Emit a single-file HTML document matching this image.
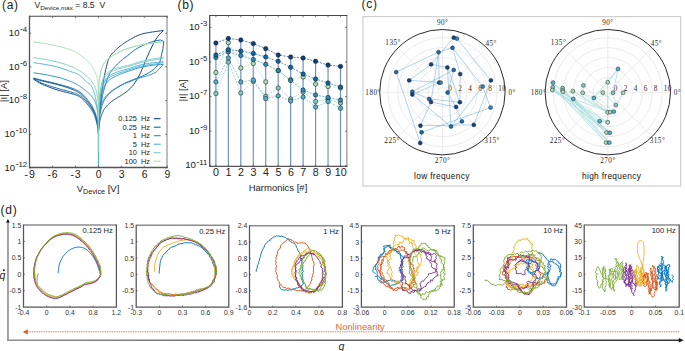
<!DOCTYPE html>
<html><head><meta charset="utf-8"><style>
html,body{margin:0;padding:0;background:#fff;width:685px;height:351px;overflow:hidden;}
svg{display:block;}
</style></head><body>
<svg width="685" height="351" viewBox="0 0 685 351">
<rect width="685" height="351" fill="#fff"/>
<g>
<path d="M98.45,132.62 L98.22,125.88 L98.21,125.87 L98.2,125.86 L98.19,125.83 L98.17,125.8 L98.16,125.76 L98.15,125.71 L98.13,125.65 L98.11,125.58 L98.1,125.51 L98.08,125.43 L98.06,125.34 L98.04,125.24 L98.03,125.14 L98,125.03 L97.98,124.92 L97.96,124.8 L97.94,124.67 L97.91,124.54 L97.89,124.4 L97.86,124.26 L97.83,124.11 L97.8,123.96 L97.77,123.8 L97.73,123.64 L97.7,123.48 L97.66,123.32 L97.62,123.15 L97.58,122.98 L97.54,122.8 L97.5,122.62 L97.45,122.44 L97.4,122.26 L97.35,122.08 L97.3,121.9 L97.24,121.71 L97.19,121.52 L97.12,121.31 L97.06,121.08 L96.99,120.82 L96.92,120.55 L96.85,120.26 L96.77,119.95 L96.69,119.62 L96.6,119.28 L96.51,118.93 L96.42,118.56 L96.32,118.19 L96.21,117.8 L96.11,117.4 L95.99,117 L95.87,116.59 L95.75,116.17 L95.62,115.75 L95.48,115.32 L95.33,114.89 L95.18,114.46 L95.02,114.03 L94.86,113.61 L94.68,113.18 L94.5,112.75 L94.31,112.31 L94.11,111.85 L93.89,111.39 L93.67,110.92 L93.44,110.43 L93.2,109.94 L92.94,109.44 L92.68,108.93 L92.39,108.41 L92.1,107.89 L91.79,107.35 L91.47,106.81 L91.13,106.26 L90.77,105.71 L90.4,105.14 L90.01,104.57 L89.6,104 L89.17,103.41 L88.72,102.82 L88.24,102.23 L87.75,101.61 L87.23,100.97 L86.68,100.29 L86.11,99.59 L85.51,98.88 L84.88,98.16 L84.22,97.43 L83.53,96.7 L82.81,95.97 L82.05,95.25 L81.25,94.55 L80.42,93.87 L79.54,93.21 L78.62,92.58 L77.66,91.98 L76.65,91.41 L75.59,90.86 L74.48,90.33 L73.31,89.81 L72.09,89.3 L70.81,88.8 L69.46,88.3 L68.06,87.81 L66.58,87.32 L65.03,86.83 L63.41,86.33 L61.7,85.83 L59.92,85.31 L58.04,84.79 L56.08,84.26 L54.02,83.75 L51.86,83.24 L49.6,82.72 L47.23,82.17 L44.74,81.59 L42.13,80.96 L39.39,80.25 L36.52,79.42 L33.51,78.53" fill="none" stroke="#084081" stroke-width="0.95" stroke-linejoin="round"/>
<path d="M98.45,132.62 L98.22,129.25 L98.21,129.24 L98.2,129.23 L98.19,129.2 L98.17,129.17 L98.16,129.13 L98.15,129.08 L98.13,129.02 L98.11,128.96 L98.1,128.89 L98.08,128.81 L98.06,128.72 L98.04,128.63 L98.03,128.52 L98,128.42 L97.98,128.3 L97.96,128.18 L97.94,128.06 L97.91,127.93 L97.89,127.79 L97.86,127.65 L97.83,127.5 L97.8,127.35 L97.77,127.2 L97.73,127.04 L97.7,126.88 L97.66,126.71 L97.62,126.54 L97.58,126.37 L97.54,126.19 L97.5,126.01 L97.45,125.83 L97.4,125.65 L97.35,125.46 L97.3,125.27 L97.24,125.09 L97.19,124.89 L97.12,124.66 L97.06,124.41 L96.99,124.13 L96.92,123.83 L96.85,123.5 L96.77,123.15 L96.69,122.79 L96.6,122.4 L96.51,122 L96.42,121.59 L96.32,121.17 L96.21,120.73 L96.11,120.28 L95.99,119.83 L95.87,119.37 L95.75,118.91 L95.62,118.45 L95.48,117.98 L95.33,117.52 L95.18,117.06 L95.02,116.6 L94.86,116.15 L94.68,115.71 L94.5,115.26 L94.31,114.82 L94.11,114.36 L93.89,113.91 L93.67,113.45 L93.44,112.98 L93.2,112.51 L92.94,112.03 L92.68,111.55 L92.39,111.06 L92.1,110.56 L91.79,110.06 L91.47,109.55 L91.13,109.04 L90.77,108.52 L90.4,108 L90.01,107.46 L89.6,106.93 L89.17,106.38 L88.72,105.83 L88.24,105.27 L87.75,104.68 L87.23,104.06 L86.68,103.41 L86.11,102.74 L85.51,102.06 L84.88,101.37 L84.22,100.67 L83.53,99.98 L82.81,99.29 L82.05,98.62 L81.25,97.97 L80.42,97.36 L79.54,96.77 L78.62,96.22 L77.66,95.73 L76.65,95.27 L75.59,94.86 L74.48,94.48 L73.31,94.12 L72.09,93.78 L70.81,93.45 L69.46,93.12 L68.06,92.78 L66.58,92.42 L65.03,92.05 L63.41,91.65 L61.7,91.2 L59.92,90.72 L58.04,90.18 L56.08,89.57 L54.02,88.9 L51.86,88.13 L49.6,87.29 L47.23,86.35 L44.74,85.32 L42.13,84.19 L39.39,82.86 L36.52,81.13 L33.51,79.2" fill="none" stroke="#084081" stroke-width="0.95" stroke-linejoin="round"/>
<path d="M98.45,132.62 L98.68,125.88 L98.69,125.69 L98.7,125.49 L98.71,125.27 L98.73,125.04 L98.74,124.79 L98.75,124.53 L98.77,124.26 L98.79,123.97 L98.8,123.67 L98.82,123.36 L98.84,123.04 L98.86,122.71 L98.87,122.36 L98.9,122.01 L98.92,121.65 L98.94,121.27 L98.96,120.89 L98.99,120.5 L99.01,120.11 L99.04,119.71 L99.07,119.3 L99.1,118.88 L99.13,118.46 L99.17,118.04 L99.2,117.61 L99.24,117.18 L99.28,116.72 L99.32,116.24 L99.36,115.75 L99.4,115.23 L99.45,114.69 L99.5,114.13 L99.55,113.56 L99.6,112.96 L99.66,112.35 L99.71,111.72 L99.78,111.07 L99.84,110.4 L99.91,109.71 L99.98,109.01 L100.05,108.28 L100.13,107.53 L100.21,106.74 L100.3,105.92 L100.39,105.07 L100.48,104.19 L100.58,103.28 L100.69,102.34 L100.79,101.38 L100.91,100.39 L101.03,99.38 L101.15,98.34 L101.28,97.28 L101.42,96.19 L101.57,95.08 L101.72,93.9 L101.88,92.66 L102.04,91.35 L102.22,90 L102.4,88.61 L102.59,87.19 L102.79,85.76 L103.01,84.31 L103.23,82.86 L103.46,81.43 L103.7,79.99 L103.96,78.52 L104.22,77.02 L104.51,75.52 L104.8,74 L105.11,72.48 L105.43,70.96 L105.77,69.46 L106.13,67.96 L106.5,66.39 L106.89,64.78 L107.3,63.2 L107.73,61.68 L108.18,60.28 L108.66,59.06 L109.15,58 L109.67,57.03 L110.22,56.13 L110.79,55.29 L111.39,54.49 L112.02,53.73 L112.68,53 L113.37,52.28 L114.09,51.56 L114.85,50.84 L115.65,50.1 L116.48,49.33 L117.36,48.52 L118.28,47.7 L119.24,46.87 L120.25,46.03 L121.31,45.2 L122.42,44.36 L123.59,43.52 L124.81,42.68 L126.09,41.85 L127.44,41.02 L128.84,40.2 L130.32,39.35 L131.87,38.46 L133.49,37.57 L135.2,36.68 L136.98,35.83 L138.86,35.04 L140.82,34.34 L142.88,33.73 L145.04,33.24 L147.3,32.8 L149.67,32.41 L152.16,32.03 L154.77,31.66 L157.51,31.26 L160.38,30.88 L163.39,30.5" fill="none" stroke="#084081" stroke-width="0.95" stroke-linejoin="round"/>
<path d="M98.45,132.62 L98.68,129.25 L98.69,129.09 L98.7,128.93 L98.71,128.77 L98.73,128.6 L98.74,128.43 L98.75,128.25 L98.77,128.07 L98.79,127.89 L98.8,127.7 L98.82,127.51 L98.84,127.32 L98.86,127.12 L98.87,126.92 L98.9,126.72 L98.92,126.51 L98.94,126.3 L98.96,126.09 L98.99,125.87 L99.01,125.65 L99.04,125.43 L99.07,125.2 L99.1,124.98 L99.13,124.75 L99.17,124.51 L99.2,124.28 L99.24,124.04 L99.28,123.8 L99.32,123.55 L99.36,123.31 L99.4,123.05 L99.45,122.8 L99.5,122.54 L99.55,122.27 L99.6,122 L99.66,121.73 L99.71,121.45 L99.78,121.17 L99.84,120.88 L99.91,120.59 L99.98,120.3 L100.05,120 L100.13,119.69 L100.21,119.38 L100.3,119.07 L100.39,118.75 L100.48,118.42 L100.58,118.09 L100.69,117.76 L100.79,117.41 L100.91,117.07 L101.03,116.72 L101.15,116.36 L101.28,115.98 L101.42,115.59 L101.57,115.18 L101.72,114.76 L101.88,114.32 L102.04,113.87 L102.22,113.41 L102.4,112.95 L102.59,112.49 L102.79,112.02 L103.01,111.55 L103.23,111.09 L103.46,110.63 L103.7,110.17 L103.96,109.73 L104.22,109.29 L104.51,108.85 L104.8,108.42 L105.11,107.99 L105.43,107.57 L105.77,107.14 L106.13,106.71 L106.5,106.29 L106.89,105.85 L107.3,105.42 L107.73,104.98 L108.18,104.54 L108.66,104.08 L109.15,103.63 L109.67,103.16 L110.22,102.68 L110.79,102.19 L111.39,101.7 L112.02,101.2 L112.68,100.72 L113.37,100.24 L114.09,99.76 L114.85,99.28 L115.65,98.78 L116.48,98.27 L117.36,97.74 L118.28,97.19 L119.24,96.6 L120.25,95.97 L121.31,95.3 L122.42,94.58 L123.59,93.81 L124.81,92.98 L126.09,92.04 L127.44,90.97 L128.84,89.74 L130.32,88.34 L131.87,86.74 L133.49,84.86 L135.2,82.39 L136.98,79.4 L138.86,75.99 L140.82,72.17 L142.88,67.32 L145.04,61.99 L147.3,56.73 L149.67,51.29 L152.16,46.12 L154.77,41.12 L157.51,36.83 L160.38,33.33 L163.39,30.5" fill="none" stroke="#084081" stroke-width="0.95" stroke-linejoin="round"/>
<path d="M98.45,132.62 L98.22,124.19 L98.21,124.19 L98.2,124.17 L98.19,124.15 L98.17,124.11 L98.16,124.07 L98.15,124.02 L98.13,123.96 L98.11,123.9 L98.1,123.82 L98.08,123.74 L98.06,123.65 L98.04,123.56 L98.03,123.46 L98,123.35 L97.98,123.23 L97.96,123.11 L97.94,122.98 L97.91,122.85 L97.89,122.71 L97.86,122.57 L97.83,122.43 L97.8,122.27 L97.77,122.12 L97.73,121.96 L97.7,121.8 L97.66,121.63 L97.62,121.46 L97.58,121.29 L97.54,121.12 L97.5,120.94 L97.45,120.76 L97.4,120.58 L97.35,120.4 L97.3,120.21 L97.24,120.03 L97.19,119.84 L97.12,119.63 L97.06,119.39 L96.99,119.14 L96.92,118.86 L96.85,118.57 L96.77,118.26 L96.69,117.94 L96.6,117.6 L96.51,117.24 L96.42,116.88 L96.32,116.5 L96.21,116.11 L96.11,115.72 L95.99,115.31 L95.87,114.9 L95.75,114.48 L95.62,114.06 L95.48,113.64 L95.33,113.21 L95.18,112.78 L95.02,112.35 L94.86,111.92 L94.68,111.5 L94.5,111.06 L94.31,110.62 L94.11,110.16 L93.89,109.7 L93.67,109.22 L93.44,108.74 L93.2,108.24 L92.94,107.74 L92.68,107.23 L92.39,106.71 L92.1,106.18 L91.79,105.64 L91.47,105.1 L91.13,104.55 L90.77,103.99 L90.4,103.43 L90.01,102.86 L89.6,102.29 L89.17,101.71 L88.72,101.13 L88.24,100.55 L87.75,99.94 L87.23,99.3 L86.68,98.64 L86.11,97.96 L85.51,97.26 L84.88,96.56 L84.22,95.85 L83.53,95.14 L82.81,94.44 L82.05,93.75 L81.25,93.08 L80.42,92.42 L79.54,91.8 L78.62,91.21 L77.66,90.65 L76.65,90.12 L75.59,89.62 L74.48,89.14 L73.31,88.67 L72.09,88.21 L70.81,87.77 L69.46,87.33 L68.06,86.89 L66.58,86.45 L65.03,86.01 L63.41,85.56 L61.7,85.09 L59.92,84.61 L58.04,84.11 L56.08,83.6 L54.02,83.09 L51.86,82.57 L49.6,82.04 L47.23,81.48 L44.74,80.9 L42.13,80.28 L39.39,79.6 L36.52,78.83 L33.51,78.02" fill="none" stroke="#0868ac" stroke-width="0.95" stroke-linejoin="round"/>
<path d="M98.45,132.62 L98.22,127.56 L98.21,127.56 L98.2,127.54 L98.19,127.52 L98.17,127.49 L98.16,127.45 L98.15,127.4 L98.13,127.34 L98.11,127.27 L98.1,127.2 L98.08,127.12 L98.06,127.03 L98.04,126.94 L98.03,126.84 L98,126.73 L97.98,126.62 L97.96,126.5 L97.94,126.37 L97.91,126.24 L97.89,126.11 L97.86,125.97 L97.83,125.82 L97.8,125.67 L97.77,125.51 L97.73,125.35 L97.7,125.19 L97.66,125.03 L97.62,124.86 L97.58,124.68 L97.54,124.51 L97.5,124.33 L97.45,124.15 L97.4,123.96 L97.35,123.78 L97.3,123.59 L97.24,123.4 L97.19,123.2 L97.12,122.98 L97.06,122.72 L96.99,122.44 L96.92,122.14 L96.85,121.82 L96.77,121.47 L96.69,121.1 L96.6,120.72 L96.51,120.32 L96.42,119.91 L96.32,119.48 L96.21,119.04 L96.11,118.6 L95.99,118.15 L95.87,117.69 L95.75,117.23 L95.62,116.76 L95.48,116.3 L95.33,115.83 L95.18,115.37 L95.02,114.91 L94.86,114.46 L94.68,114.02 L94.5,113.58 L94.31,113.13 L94.11,112.68 L93.89,112.22 L93.67,111.75 L93.44,111.28 L93.2,110.81 L92.94,110.33 L92.68,109.84 L92.39,109.35 L92.1,108.85 L91.79,108.35 L91.47,107.84 L91.13,107.33 L90.77,106.81 L90.4,106.28 L90.01,105.75 L89.6,105.22 L89.17,104.68 L88.72,104.13 L88.24,103.58 L87.75,103.01 L87.23,102.41 L86.68,101.79 L86.11,101.15 L85.51,100.5 L84.88,99.84 L84.22,99.18 L83.53,98.52 L82.81,97.87 L82.05,97.23 L81.25,96.6 L80.42,96 L79.54,95.42 L78.62,94.88 L77.66,94.37 L76.65,93.9 L75.59,93.47 L74.48,93.06 L73.31,92.67 L72.09,92.29 L70.81,91.92 L69.46,91.56 L68.06,91.18 L66.58,90.8 L65.03,90.4 L63.41,89.97 L61.7,89.52 L59.92,89.03 L58.04,88.49 L56.08,87.92 L54.02,87.32 L51.86,86.67 L49.6,85.95 L47.23,85.16 L44.74,84.28 L42.13,83.29 L39.39,82.1 L36.52,80.5 L33.51,78.7" fill="none" stroke="#0868ac" stroke-width="0.95" stroke-linejoin="round"/>
<path d="M98.45,132.62 L98.68,124.19 L98.69,124.05 L98.7,123.89 L98.71,123.72 L98.73,123.53 L98.74,123.34 L98.75,123.13 L98.77,122.92 L98.79,122.69 L98.8,122.45 L98.82,122.2 L98.84,121.95 L98.86,121.68 L98.88,121.4 L98.9,121.12 L98.92,120.83 L98.94,120.53 L98.96,120.23 L98.99,119.91 L99.02,119.59 L99.04,119.27 L99.07,118.94 L99.1,118.6 L99.13,118.26 L99.17,117.92 L99.2,117.57 L99.24,117.22 L99.28,116.85 L99.32,116.46 L99.36,116.07 L99.4,115.65 L99.45,115.22 L99.5,114.78 L99.55,114.33 L99.6,113.86 L99.66,113.37 L99.72,112.87 L99.78,112.37 L99.84,111.84 L99.91,111.31 L99.98,110.76 L100.06,110.2 L100.14,109.63 L100.22,109.05 L100.3,108.45 L100.39,107.84 L100.49,107.23 L100.59,106.6 L100.69,105.96 L100.8,105.31 L100.91,104.63 L101.03,103.92 L101.16,103.18 L101.29,102.41 L101.43,101.61 L101.57,100.79 L101.73,99.95 L101.89,99.09 L102.05,98.21 L102.23,97.31 L102.41,96.39 L102.61,95.46 L102.81,94.52 L103.02,93.56 L103.24,92.6 L103.47,91.62 L103.72,90.64 L103.98,89.66 L104.24,88.67 L104.53,87.67 L104.82,86.68 L105.13,85.66 L105.46,84.58 L105.8,83.46 L106.15,82.32 L106.53,81.16 L106.92,79.99 L107.33,78.83 L107.77,77.68 L108.22,76.56 L108.7,75.48 L109.19,74.44 L109.72,73.47 L110.26,72.54 L110.84,71.65 L111.44,70.78 L112.07,69.94 L112.74,69.11 L113.43,68.29 L114.16,67.47 L114.92,66.64 L115.73,65.79 L116.57,64.92 L117.45,64.03 L118.37,63.14 L119.34,62.25 L120.36,61.36 L121.42,60.46 L122.54,59.55 L123.71,58.61 L124.94,57.65 L126.23,56.65 L127.58,55.61 L129,54.5 L130.49,53.28 L132.04,52 L133.68,50.73 L135.39,49.52 L137.19,48.42 L139.07,47.35 L141.05,46.31 L143.12,45.32 L145.29,44.37 L147.57,43.43 L149.96,42.48 L152.47,41.62 L155.1,40.92 L157.85,40.38 L160.74,39.98 L163.77,41.62" fill="none" stroke="#0868ac" stroke-width="0.95" stroke-linejoin="round"/>
<path d="M98.45,132.62 L98.68,127.56 L98.69,127.38 L98.7,127.19 L98.71,126.99 L98.73,126.79 L98.74,126.57 L98.75,126.35 L98.77,126.12 L98.78,125.89 L98.8,125.64 L98.82,125.39 L98.84,125.13 L98.85,124.87 L98.87,124.6 L98.9,124.32 L98.92,124.04 L98.94,123.76 L98.96,123.46 L98.99,123.16 L99.01,122.86 L99.04,122.55 L99.07,122.24 L99.1,121.93 L99.13,121.6 L99.16,121.28 L99.2,120.95 L99.24,120.62 L99.27,120.27 L99.31,119.91 L99.36,119.54 L99.4,119.16 L99.45,118.76 L99.49,118.36 L99.55,117.94 L99.6,117.52 L99.65,117.09 L99.71,116.65 L99.77,116.2 L99.84,115.75 L99.91,115.29 L99.98,114.82 L100.05,114.35 L100.13,113.88 L100.21,113.4 L100.3,112.92 L100.38,112.44 L100.48,111.96 L100.58,111.47 L100.68,110.99 L100.79,110.5 L100.9,110.01 L101.02,109.5 L101.15,108.98 L101.28,108.45 L101.41,107.91 L101.56,107.37 L101.71,106.82 L101.87,106.27 L102.03,105.71 L102.21,105.16 L102.39,104.6 L102.58,104.05 L102.78,103.5 L102.99,102.95 L103.21,102.41 L103.44,101.88 L103.68,101.35 L103.94,100.84 L104.21,100.33 L104.48,99.82 L104.78,99.32 L105.08,98.83 L105.41,98.34 L105.74,97.85 L106.1,97.36 L106.47,96.87 L106.86,96.39 L107.27,95.9 L107.7,95.41 L108.14,94.91 L108.61,94.41 L109.11,93.91 L109.63,93.4 L110.17,92.88 L110.74,92.36 L111.33,91.83 L111.96,91.29 L112.61,90.76 L113.3,90.22 L114.02,89.68 L114.78,89.13 L115.57,88.58 L116.4,88.02 L117.27,87.46 L118.19,86.89 L119.15,86.32 L120.15,85.74 L121.2,85.15 L122.31,84.55 L123.47,83.94 L124.68,83.33 L125.95,82.7 L127.29,82.08 L128.69,81.48 L130.16,80.89 L131.7,80.29 L133.31,79.67 L135,79.03 L136.78,78.34 L138.64,77.6 L140.59,76.8 L142.63,75.93 L144.78,74.97 L147.03,73.83 L149.39,72.44 L151.86,70.77 L154.45,68.76 L157.17,65.98 L160.02,61.41 L163.01,48.53 L163.77,41.62" fill="none" stroke="#0868ac" stroke-width="0.95" stroke-linejoin="round"/>
<path d="M98.45,134.3 L98.22,119.14 L98.21,118.9 L98.2,118.66 L98.19,118.42 L98.17,118.18 L98.16,117.93 L98.15,117.68 L98.13,117.43 L98.11,117.18 L98.1,116.92 L98.08,116.66 L98.06,116.4 L98.04,116.14 L98.03,115.87 L98,115.6 L97.98,115.33 L97.96,115.06 L97.94,114.78 L97.91,114.51 L97.89,114.23 L97.86,113.95 L97.83,113.66 L97.8,113.38 L97.77,113.09 L97.73,112.8 L97.7,112.5 L97.66,112.21 L97.62,111.91 L97.58,111.61 L97.54,111.31 L97.5,111 L97.45,110.69 L97.4,110.37 L97.35,110.05 L97.3,109.73 L97.24,109.41 L97.19,109.08 L97.12,108.75 L97.06,108.42 L96.99,108.09 L96.92,107.75 L96.85,107.42 L96.77,107.08 L96.69,106.73 L96.6,106.39 L96.51,106.04 L96.42,105.7 L96.32,105.35 L96.21,105 L96.11,104.65 L95.99,104.29 L95.87,103.93 L95.75,103.56 L95.62,103.19 L95.48,102.82 L95.33,102.45 L95.18,102.07 L95.02,101.69 L94.86,101.31 L94.68,100.92 L94.5,100.54 L94.31,100.15 L94.11,99.77 L93.89,99.38 L93.67,98.99 L93.44,98.61 L93.2,98.22 L92.94,97.84 L92.68,97.46 L92.39,97.08 L92.1,96.71 L91.79,96.34 L91.47,95.97 L91.13,95.6 L90.77,95.23 L90.4,94.85 L90.01,94.46 L89.6,94.07 L89.17,93.67 L88.72,93.27 L88.24,92.85 L87.75,92.42 L87.23,91.98 L86.68,91.52 L86.11,91.04 L85.51,90.54 L84.88,90.02 L84.22,89.49 L83.53,88.95 L82.81,88.4 L82.05,87.83 L81.25,87.26 L80.42,86.68 L79.54,86.1 L78.62,85.52 L77.66,84.94 L76.65,84.36 L75.59,83.78 L74.48,83.2 L73.31,82.64 L72.09,82.08 L70.81,81.54 L69.46,81 L68.06,80.47 L66.58,79.94 L65.03,79.41 L63.41,78.89 L61.7,78.37 L59.92,77.86 L58.04,77.37 L56.08,76.88 L54.02,76.4 L51.86,75.93 L49.6,75.46 L47.23,75 L44.74,74.54 L42.13,74.1 L39.39,73.66 L36.52,73.22 L33.51,72.8" fill="none" stroke="#2b8cbe" stroke-width="0.95" stroke-linejoin="round"/>
<path d="M98.45,134.3 L98.68,117.45 L98.69,117.21 L98.7,116.95 L98.71,116.69 L98.73,116.42 L98.74,116.15 L98.75,115.86 L98.77,115.57 L98.79,115.26 L98.8,114.96 L98.82,114.64 L98.84,114.32 L98.86,113.99 L98.87,113.65 L98.9,113.31 L98.92,112.96 L98.94,112.61 L98.96,112.24 L98.99,111.88 L99.01,111.51 L99.04,111.13 L99.07,110.75 L99.1,110.36 L99.13,109.97 L99.17,109.58 L99.2,109.18 L99.24,108.77 L99.28,108.35 L99.32,107.91 L99.36,107.46 L99.4,107 L99.45,106.53 L99.5,106.05 L99.55,105.55 L99.6,105.05 L99.66,104.53 L99.71,104.02 L99.78,103.49 L99.84,102.96 L99.91,102.42 L99.98,101.88 L100.05,101.34 L100.13,100.79 L100.21,100.24 L100.3,99.69 L100.39,99.15 L100.48,98.6 L100.58,98.05 L100.69,97.51 L100.79,96.97 L100.91,96.43 L101.03,95.87 L101.15,95.3 L101.28,94.73 L101.42,94.15 L101.57,93.56 L101.72,92.98 L101.88,92.39 L102.04,91.8 L102.22,91.22 L102.4,90.64 L102.59,90.06 L102.79,89.49 L103.01,88.93 L103.23,88.38 L103.46,87.84 L103.7,87.32 L103.96,86.8 L104.22,86.29 L104.51,85.79 L104.8,85.29 L105.11,84.8 L105.43,84.31 L105.77,83.82 L106.13,83.35 L106.5,82.87 L106.89,82.41 L107.3,81.95 L107.73,81.49 L108.18,81.04 L108.66,80.6 L109.15,80.16 L109.67,79.73 L110.22,79.3 L110.79,78.89 L111.39,78.5 L112.02,78.11 L112.68,77.73 L113.37,77.35 L114.09,76.97 L114.85,76.59 L115.65,76.21 L116.48,75.81 L117.36,75.41 L118.28,75 L119.24,74.58 L120.25,74.17 L121.31,73.74 L122.42,73.32 L123.59,72.88 L124.81,72.44 L126.09,71.99 L127.44,71.54 L128.84,71.07 L130.32,70.57 L131.87,70.05 L133.49,69.5 L135.2,68.95 L136.98,68.41 L138.86,67.88 L140.82,67.38 L142.88,66.92 L145.04,66.49 L147.3,66.06 L149.67,65.65 L152.16,65.28 L154.77,64.97 L157.51,64.73 L160.38,64.53 L163.39,64.37" fill="none" stroke="#2b8cbe" stroke-width="0.95" stroke-linejoin="round"/>
<path d="M98.45,134.3 L98.68,120.82 L98.69,120.59 L98.7,120.36 L98.71,120.12 L98.73,119.89 L98.74,119.65 L98.75,119.4 L98.77,119.15 L98.78,118.9 L98.8,118.65 L98.82,118.4 L98.84,118.14 L98.85,117.88 L98.87,117.61 L98.89,117.34 L98.92,117.07 L98.94,116.8 L98.96,116.52 L98.99,116.25 L99.01,115.96 L99.04,115.68 L99.07,115.39 L99.1,115.1 L99.13,114.81 L99.16,114.52 L99.2,114.22 L99.23,113.92 L99.27,113.62 L99.31,113.31 L99.35,113 L99.4,112.68 L99.44,112.36 L99.49,112.04 L99.54,111.71 L99.59,111.38 L99.65,111.05 L99.71,110.71 L99.77,110.37 L99.83,110.03 L99.9,109.68 L99.97,109.34 L100.04,108.98 L100.12,108.63 L100.2,108.27 L100.28,107.91 L100.37,107.55 L100.47,107.19 L100.56,106.83 L100.67,106.46 L100.77,106.09 L100.89,105.72 L101,105.34 L101.13,104.97 L101.26,104.59 L101.39,104.22 L101.54,103.84 L101.68,103.46 L101.84,103.08 L102.01,102.7 L102.18,102.31 L102.36,101.92 L102.55,101.53 L102.75,101.14 L102.95,100.74 L103.17,100.34 L103.4,99.94 L103.64,99.54 L103.89,99.13 L104.15,98.72 L104.43,98.3 L104.72,97.89 L105.02,97.47 L105.34,97.05 L105.68,96.62 L106.03,96.19 L106.39,95.76 L106.78,95.33 L107.18,94.89 L107.6,94.45 L108.04,94.01 L108.51,93.57 L109,93.12 L109.51,92.67 L110.04,92.22 L110.6,91.76 L111.19,91.31 L111.81,90.85 L112.45,90.38 L113.13,89.92 L113.84,89.45 L114.59,88.97 L115.37,88.49 L116.19,88.01 L117.05,87.52 L117.95,87.02 L118.89,86.52 L119.88,86 L120.92,85.48 L122.01,84.96 L123.15,84.42 L124.34,83.88 L125.59,83.32 L126.91,82.76 L128.29,82.18 L129.73,81.59 L131.24,80.99 L132.83,80.37 L134.5,79.74 L136.24,79.09 L138.07,78.43 L139.99,77.82 L142,77.25 L144.11,76.68 L146.32,76.07 L148.63,75.35 L151.06,74.48 L153.61,73.41 L156.28,71.89 L159.08,69.09 L162.01,65.72 L163.39,64.37" fill="none" stroke="#2b8cbe" stroke-width="0.95" stroke-linejoin="round"/>
<path d="M98.45,167.5 L98.22,115.77 L98.21,115.55 L98.2,115.32 L98.19,115.09 L98.17,114.86 L98.16,114.63 L98.15,114.39 L98.13,114.14 L98.11,113.89 L98.1,113.64 L98.08,113.39 L98.06,113.13 L98.04,112.86 L98.03,112.59 L98,112.32 L97.98,112.05 L97.96,111.77 L97.94,111.49 L97.91,111.21 L97.89,110.92 L97.86,110.63 L97.83,110.34 L97.8,110.04 L97.77,109.74 L97.73,109.44 L97.7,109.14 L97.66,108.83 L97.62,108.53 L97.58,108.22 L97.54,107.91 L97.5,107.6 L97.45,107.28 L97.4,106.96 L97.35,106.64 L97.3,106.32 L97.24,105.98 L97.19,105.65 L97.12,105.31 L97.06,104.96 L96.99,104.6 L96.92,104.24 L96.85,103.87 L96.77,103.49 L96.69,103.1 L96.6,102.7 L96.51,102.29 L96.42,101.87 L96.32,101.43 L96.21,100.99 L96.11,100.53 L95.99,100.05 L95.87,99.53 L95.75,98.98 L95.62,98.39 L95.48,97.77 L95.33,97.14 L95.18,96.49 L95.02,95.83 L94.86,95.16 L94.68,94.49 L94.5,93.83 L94.31,93.18 L94.11,92.54 L93.89,91.92 L93.67,91.31 L93.44,90.67 L93.2,90.03 L92.94,89.37 L92.68,88.72 L92.39,88.07 L92.1,87.43 L91.79,86.82 L91.47,86.24 L91.13,85.69 L90.77,85.18 L90.4,84.72 L90.01,84.32 L89.6,83.98 L89.17,83.69 L88.72,83.43 L88.24,83.16 L87.75,82.87 L87.23,82.52 L86.68,82.09 L86.11,81.57 L85.51,80.97 L84.88,80.3 L84.22,79.58 L83.53,78.83 L82.81,78.07 L82.05,77.31 L81.25,76.56 L80.42,75.85 L79.54,75.19 L78.62,74.59 L77.66,74.07 L76.65,73.61 L75.59,73.19 L74.48,72.79 L73.31,72.4 L72.09,71.99 L70.81,71.55 L69.46,71.08 L68.06,70.55 L66.58,70 L65.03,69.42 L63.41,68.84 L61.7,68.27 L59.92,67.72 L58.04,67.2 L56.08,66.71 L54.02,66.22 L51.86,65.74 L49.6,65.27 L47.23,64.81 L44.74,64.36 L42.13,63.93 L39.39,63.5 L36.52,63.09 L33.51,62.69" fill="none" stroke="#4eb3d3" stroke-width="0.95" stroke-linejoin="round"/>
<path d="M98.45,167.5 L98.68,110.71 L98.69,110.57 L98.7,110.41 L98.71,110.24 L98.73,110.05 L98.74,109.86 L98.75,109.65 L98.77,109.44 L98.79,109.21 L98.8,108.97 L98.82,108.73 L98.84,108.47 L98.86,108.2 L98.87,107.93 L98.9,107.64 L98.92,107.35 L98.94,107.06 L98.96,106.75 L98.99,106.44 L99.01,106.12 L99.04,105.8 L99.07,105.47 L99.1,105.13 L99.13,104.79 L99.17,104.45 L99.2,104.1 L99.24,103.75 L99.28,103.37 L99.32,102.97 L99.36,102.54 L99.4,102.1 L99.45,101.64 L99.5,101.17 L99.55,100.68 L99.6,100.17 L99.66,99.65 L99.71,99.12 L99.78,98.59 L99.84,98.04 L99.91,97.49 L99.98,96.93 L100.05,96.37 L100.13,95.8 L100.21,95.24 L100.3,94.68 L100.39,94.11 L100.48,93.56 L100.58,93 L100.69,92.46 L100.79,91.92 L100.91,91.37 L101.03,90.8 L101.15,90.23 L101.28,89.64 L101.42,89.05 L101.57,88.46 L101.72,87.86 L101.88,87.26 L102.04,86.67 L102.22,86.08 L102.4,85.5 L102.59,84.92 L102.79,84.36 L103.01,83.81 L103.23,83.27 L103.46,82.75 L103.7,82.25 L103.96,81.77 L104.22,81.3 L104.51,80.83 L104.8,80.37 L105.11,79.92 L105.43,79.48 L105.77,79.04 L106.13,78.62 L106.5,78.2 L106.89,77.79 L107.3,77.38 L107.73,76.99 L108.18,76.6 L108.66,76.22 L109.15,75.85 L109.67,75.48 L110.22,75.13 L110.79,74.79 L111.39,74.47 L112.02,74.16 L112.68,73.85 L113.37,73.55 L114.09,73.26 L114.85,72.96 L115.65,72.65 L116.48,72.34 L117.36,72.02 L118.28,71.7 L119.24,71.37 L120.25,71.05 L121.31,70.73 L122.42,70.4 L123.59,70.06 L124.81,69.71 L126.09,69.34 L127.44,68.95 L128.84,68.54 L130.32,68.09 L131.87,67.57 L133.49,67.02 L135.2,66.46 L136.98,65.9 L138.86,65.35 L140.82,64.84 L142.88,64.39 L145.04,64 L147.3,63.64 L149.67,63.3 L152.16,62.97 L154.77,62.64 L157.51,62.31 L160.38,61.99 L163.39,61.68" fill="none" stroke="#4eb3d3" stroke-width="0.95" stroke-linejoin="round"/>
<path d="M98.45,167.5 L98.68,112.39 L98.69,112.25 L98.7,112.09 L98.71,111.92 L98.73,111.74 L98.74,111.55 L98.75,111.34 L98.77,111.13 L98.78,110.9 L98.8,110.66 L98.82,110.42 L98.84,110.16 L98.85,109.89 L98.87,109.62 L98.89,109.34 L98.92,109.05 L98.94,108.75 L98.96,108.45 L98.99,108.14 L99.01,107.82 L99.04,107.49 L99.07,107.17 L99.1,106.83 L99.13,106.49 L99.16,106.15 L99.2,105.8 L99.24,105.45 L99.27,105.07 L99.31,104.68 L99.35,104.26 L99.4,103.82 L99.44,103.36 L99.49,102.88 L99.54,102.4 L99.6,101.89 L99.65,101.38 L99.71,100.85 L99.77,100.31 L99.84,99.77 L99.9,99.22 L99.97,98.66 L100.05,98.1 L100.12,97.54 L100.21,96.98 L100.29,96.41 L100.38,95.85 L100.47,95.3 L100.57,94.74 L100.67,94.2 L100.78,93.66 L100.9,93.11 L101.01,92.55 L101.14,91.97 L101.27,91.39 L101.41,90.8 L101.55,90.21 L101.7,89.62 L101.86,89.02 L102.02,88.43 L102.2,87.84 L102.38,87.25 L102.57,86.68 L102.77,86.11 L102.98,85.56 L103.2,85.02 L103.43,84.5 L103.67,84 L103.92,83.52 L104.19,83.05 L104.46,82.58 L104.76,82.13 L105.06,81.67 L105.38,81.23 L105.72,80.8 L106.07,80.37 L106.44,79.95 L106.83,79.54 L107.23,79.13 L107.66,78.73 L108.11,78.35 L108.57,77.97 L109.07,77.59 L109.58,77.23 L110.12,76.88 L110.69,76.54 L111.28,76.22 L111.9,75.91 L112.55,75.61 L113.24,75.31 L113.95,75.02 L114.71,74.72 L115.49,74.42 L116.32,74.11 L117.19,73.78 L118.1,73.43 L119.05,73.09 L120.05,72.73 L121.09,72.37 L122.19,72 L123.34,71.62 L124.55,71.23 L125.82,70.83 L127.14,70.42 L128.53,69.99 L129.99,69.52 L131.52,69.01 L133.13,68.47 L134.81,67.91 L136.57,67.35 L138.42,66.81 L140.36,66.3 L142.39,65.84 L144.52,65.44 L146.75,65.09 L149.1,64.76 L151.55,64.44 L154.13,64.09 L156.83,63.71 L159.66,63.29 L162.63,62.86 L163.39,61.68" fill="none" stroke="#4eb3d3" stroke-width="0.95" stroke-linejoin="round"/>
<path d="M98.45,151.15 L98.22,103.97 L98.21,103.85 L98.2,103.73 L98.19,103.59 L98.17,103.45 L98.16,103.3 L98.15,103.14 L98.13,102.97 L98.11,102.8 L98.1,102.62 L98.08,102.44 L98.06,102.24 L98.04,102.04 L98.03,101.84 L98,101.63 L97.98,101.41 L97.96,101.19 L97.94,100.97 L97.91,100.74 L97.89,100.5 L97.86,100.26 L97.83,100.02 L97.8,99.77 L97.77,99.52 L97.73,99.27 L97.7,99.01 L97.66,98.75 L97.62,98.47 L97.58,98.18 L97.54,97.87 L97.5,97.55 L97.45,97.22 L97.4,96.87 L97.35,96.52 L97.3,96.15 L97.24,95.78 L97.19,95.4 L97.12,95.01 L97.06,94.62 L96.99,94.23 L96.92,93.83 L96.85,93.43 L96.77,93.03 L96.69,92.63 L96.6,92.24 L96.51,91.84 L96.42,91.45 L96.32,91.07 L96.21,90.69 L96.11,90.31 L95.99,89.94 L95.87,89.57 L95.75,89.2 L95.62,88.83 L95.48,88.46 L95.33,88.09 L95.18,87.71 L95.02,87.34 L94.86,86.96 L94.68,86.57 L94.5,86.18 L94.31,85.79 L94.11,85.39 L93.89,84.98 L93.67,84.57 L93.44,84.16 L93.2,83.74 L92.94,83.31 L92.68,82.89 L92.39,82.46 L92.1,82.02 L91.79,81.58 L91.47,81.14 L91.13,80.69 L90.77,80.24 L90.4,79.78 L90.01,79.32 L89.6,78.86 L89.17,78.39 L88.72,77.92 L88.24,77.45 L87.75,76.97 L87.23,76.48 L86.68,75.99 L86.11,75.5 L85.51,74.99 L84.88,74.47 L84.22,73.95 L83.53,73.42 L82.81,72.89 L82.05,72.35 L81.25,71.8 L80.42,71.26 L79.54,70.71 L78.62,70.16 L77.66,69.61 L76.65,69.07 L75.59,68.52 L74.48,67.97 L73.31,67.43 L72.09,66.9 L70.81,66.37 L69.46,65.84 L68.06,65.31 L66.58,64.78 L65.03,64.25 L63.41,63.73 L61.7,63.21 L59.92,62.7 L58.04,62.2 L56.08,61.72 L54.02,61.24 L51.86,60.76 L49.6,60.3 L47.23,59.83 L44.74,59.38 L42.13,58.93 L39.39,58.49 L36.52,58.06 L33.51,57.63" fill="none" stroke="#7bccc4" stroke-width="0.95" stroke-linejoin="round"/>
<path d="M98.45,151.15 L98.68,103.97 L98.69,103.92 L98.7,103.86 L98.71,103.78 L98.73,103.68 L98.74,103.57 L98.75,103.44 L98.77,103.3 L98.79,103.14 L98.8,102.97 L98.82,102.79 L98.84,102.59 L98.86,102.39 L98.87,102.17 L98.9,101.95 L98.92,101.71 L98.94,101.47 L98.96,101.22 L98.99,100.96 L99.01,100.7 L99.04,100.43 L99.07,100.15 L99.1,99.88 L99.13,99.59 L99.17,99.31 L99.2,99.02 L99.24,98.73 L99.28,98.4 L99.32,98.04 L99.36,97.65 L99.4,97.23 L99.45,96.79 L99.5,96.32 L99.55,95.84 L99.6,95.33 L99.66,94.8 L99.71,94.26 L99.78,93.71 L99.84,93.15 L99.91,92.58 L99.98,92 L100.05,91.42 L100.13,90.83 L100.21,90.25 L100.3,89.67 L100.39,89.09 L100.48,88.52 L100.58,87.96 L100.69,87.4 L100.79,86.86 L100.91,86.31 L101.03,85.74 L101.15,85.15 L101.28,84.56 L101.42,83.95 L101.57,83.35 L101.72,82.74 L101.88,82.13 L102.04,81.53 L102.22,80.93 L102.4,80.34 L102.59,79.77 L102.79,79.21 L103.01,78.67 L103.23,78.15 L103.46,77.65 L103.7,77.18 L103.96,76.74 L104.22,76.31 L104.51,75.9 L104.8,75.5 L105.11,75.11 L105.43,74.73 L105.77,74.36 L106.13,73.99 L106.5,73.64 L106.89,73.29 L107.3,72.94 L107.73,72.6 L108.18,72.27 L108.66,71.93 L109.15,71.6 L109.67,71.26 L110.22,70.93 L110.79,70.59 L111.39,70.26 L112.02,69.94 L112.68,69.62 L113.37,69.3 L114.09,68.99 L114.85,68.69 L115.65,68.39 L116.48,68.09 L117.36,67.8 L118.28,67.53 L119.24,67.27 L120.25,67.03 L121.31,66.8 L122.42,66.57 L123.59,66.33 L124.81,66.08 L126.09,65.81 L127.44,65.51 L128.84,65.18 L130.32,64.78 L131.87,64.32 L133.49,63.8 L135.2,63.24 L136.98,62.67 L138.86,62.1 L140.82,61.55 L142.88,61.03 L145.04,60.53 L147.3,60.02 L149.67,59.51 L152.16,59.04 L154.77,58.61 L157.51,58.25 L160.38,57.92 L163.39,57.63" fill="none" stroke="#7bccc4" stroke-width="0.95" stroke-linejoin="round"/>
<path d="M98.45,151.15 L98.68,105.66 L98.69,105.61 L98.7,105.55 L98.71,105.46 L98.73,105.37 L98.74,105.25 L98.75,105.13 L98.77,104.98 L98.78,104.83 L98.8,104.66 L98.82,104.47 L98.84,104.28 L98.85,104.08 L98.87,103.86 L98.89,103.64 L98.92,103.4 L98.94,103.16 L98.96,102.91 L98.99,102.66 L99.01,102.39 L99.04,102.12 L99.07,101.85 L99.1,101.57 L99.13,101.29 L99.16,101.01 L99.2,100.72 L99.24,100.43 L99.27,100.1 L99.31,99.75 L99.35,99.36 L99.4,98.95 L99.44,98.5 L99.49,98.04 L99.54,97.55 L99.6,97.05 L99.65,96.53 L99.71,95.99 L99.77,95.44 L99.84,94.88 L99.9,94.31 L99.97,93.73 L100.05,93.15 L100.12,92.57 L100.21,91.98 L100.29,91.4 L100.38,90.83 L100.47,90.26 L100.57,89.7 L100.67,89.14 L100.78,88.6 L100.9,88.05 L101.01,87.49 L101.14,86.91 L101.27,86.32 L101.41,85.72 L101.55,85.12 L101.7,84.52 L101.86,83.92 L102.02,83.32 L102.2,82.73 L102.38,82.14 L102.57,81.57 L102.77,81 L102.98,80.46 L103.2,79.93 L103.43,79.42 L103.67,78.94 L103.92,78.48 L104.19,78.03 L104.46,77.6 L104.76,77.17 L105.06,76.76 L105.38,76.35 L105.72,75.95 L106.07,75.56 L106.44,75.18 L106.83,74.81 L107.23,74.44 L107.66,74.08 L108.11,73.72 L108.57,73.37 L109.07,73.02 L109.58,72.67 L110.12,72.33 L110.69,71.99 L111.28,71.66 L111.9,71.34 L112.55,71.02 L113.24,70.71 L113.95,70.4 L114.71,70.1 L115.49,69.8 L116.32,69.5 L117.19,69.21 L118.1,68.92 L119.05,68.65 L120.05,68.39 L121.09,68.14 L122.19,67.89 L123.34,67.64 L124.55,67.37 L125.82,67.09 L127.14,66.78 L128.53,66.44 L129.99,66.04 L131.52,65.59 L133.13,65.08 L134.81,64.53 L136.57,63.97 L138.42,63.4 L140.36,62.85 L142.39,62.33 L144.52,61.83 L146.75,61.32 L149.1,60.83 L151.55,60.35 L154.13,59.9 L156.83,59.5 L159.66,59.14 L162.63,58.81 L163.39,57.63" fill="none" stroke="#7bccc4" stroke-width="0.95" stroke-linejoin="round"/>
<path d="M98.45,117.45 L98.22,86.61 L98.21,86.46 L98.2,86.31 L98.19,86.14 L98.17,85.98 L98.16,85.81 L98.15,85.63 L98.13,85.45 L98.11,85.27 L98.1,85.08 L98.08,84.89 L98.06,84.69 L98.04,84.5 L98.03,84.29 L98,84.09 L97.98,83.87 L97.96,83.66 L97.94,83.44 L97.91,83.22 L97.89,83 L97.86,82.77 L97.83,82.54 L97.8,82.31 L97.77,82.07 L97.73,81.83 L97.7,81.59 L97.66,81.35 L97.62,81.1 L97.58,80.85 L97.54,80.6 L97.5,80.34 L97.45,80.09 L97.4,79.83 L97.35,79.57 L97.3,79.3 L97.24,79.03 L97.19,78.75 L97.12,78.47 L97.06,78.18 L96.99,77.89 L96.92,77.59 L96.85,77.29 L96.77,76.98 L96.69,76.67 L96.6,76.36 L96.51,76.03 L96.42,75.71 L96.32,75.38 L96.21,75.04 L96.11,74.7 L95.99,74.36 L95.87,74.01 L95.75,73.65 L95.62,73.3 L95.48,72.93 L95.33,72.57 L95.18,72.2 L95.02,71.82 L94.86,71.44 L94.68,71.06 L94.5,70.67 L94.31,70.28 L94.11,69.88 L93.89,69.48 L93.67,69.07 L93.44,68.63 L93.2,68.17 L92.94,67.69 L92.68,67.2 L92.39,66.7 L92.1,66.19 L91.79,65.69 L91.47,65.19 L91.13,64.7 L90.77,64.22 L90.4,63.76 L90.01,63.32 L89.6,62.92 L89.17,62.54 L88.72,62.17 L88.24,61.8 L87.75,61.4 L87.23,60.97 L86.68,60.5 L86.11,59.97 L85.51,59.41 L84.88,58.81 L84.22,58.19 L83.53,57.55 L82.81,56.9 L82.05,56.25 L81.25,55.59 L80.42,54.95 L79.54,54.33 L78.62,53.73 L77.66,53.16 L76.65,52.61 L75.59,52.06 L74.48,51.53 L73.31,51.01 L72.09,50.5 L70.81,50 L69.46,49.51 L68.06,49.03 L66.58,48.55 L65.03,48.07 L63.41,47.6 L61.7,47.13 L59.92,46.67 L58.04,46.21 L56.08,45.75 L54.02,45.31 L51.86,44.86 L49.6,44.43 L47.23,44 L44.74,43.58 L42.13,43.16 L39.39,42.75 L36.52,42.35 L33.51,41.96" fill="none" stroke="#a8ddb5" stroke-width="0.95" stroke-linejoin="round"/>
<path d="M98.45,117.45 L98.68,85.44 L98.69,85.35 L98.7,85.26 L98.71,85.15 L98.73,85.03 L98.74,84.91 L98.75,84.77 L98.77,84.62 L98.78,84.47 L98.8,84.3 L98.82,84.13 L98.84,83.94 L98.85,83.75 L98.87,83.55 L98.9,83.34 L98.92,83.13 L98.94,82.91 L98.96,82.68 L98.99,82.44 L99.01,82.2 L99.04,81.95 L99.07,81.69 L99.1,81.43 L99.13,81.16 L99.16,80.89 L99.2,80.61 L99.24,80.32 L99.27,80.04 L99.31,79.74 L99.36,79.45 L99.4,79.15 L99.45,78.84 L99.49,78.54 L99.55,78.23 L99.6,77.91 L99.65,77.6 L99.71,77.28 L99.77,76.96 L99.84,76.64 L99.91,76.32 L99.98,75.98 L100.05,75.61 L100.13,75.21 L100.21,74.79 L100.3,74.34 L100.38,73.88 L100.48,73.4 L100.58,72.91 L100.68,72.4 L100.79,71.89 L100.9,71.37 L101.02,70.84 L101.15,70.31 L101.28,69.79 L101.41,69.26 L101.56,68.74 L101.71,68.23 L101.87,67.73 L102.03,67.24 L102.21,66.77 L102.39,66.31 L102.58,65.88 L102.78,65.45 L102.99,65.03 L103.21,64.61 L103.44,64.2 L103.68,63.8 L103.94,63.39 L104.21,63 L104.48,62.6 L104.78,62.21 L105.08,61.82 L105.41,61.43 L105.74,61.05 L106.1,60.66 L106.47,60.29 L106.86,59.92 L107.27,59.57 L107.7,59.21 L108.14,58.85 L108.61,58.49 L109.11,58.11 L109.63,57.73 L110.17,57.33 L110.74,56.92 L111.33,56.49 L111.96,56.06 L112.61,55.62 L113.3,55.17 L114.02,54.72 L114.78,54.26 L115.57,53.8 L116.4,53.33 L117.27,52.85 L118.19,52.36 L119.15,51.88 L120.15,51.39 L121.2,50.89 L122.31,50.4 L123.47,49.92 L124.68,49.44 L125.95,48.96 L127.29,48.49 L128.69,48.03 L130.16,47.58 L131.7,47.13 L133.31,46.68 L135,46.24 L136.78,45.81 L138.64,45.38 L140.59,44.96 L142.63,44.56 L144.78,44.16 L147.03,43.78 L149.39,43.4 L151.86,43.03 L154.45,42.66 L157.17,42.31 L160.02,41.96 L163.01,41.62" fill="none" stroke="#a8ddb5" stroke-width="0.95" stroke-linejoin="round"/>
<path d="M98.45,117.45 L98.68,86.28 L98.69,86.17 L98.7,86.06 L98.71,85.93 L98.73,85.8 L98.74,85.65 L98.75,85.5 L98.77,85.33 L98.78,85.16 L98.8,84.98 L98.82,84.79 L98.84,84.59 L98.85,84.39 L98.87,84.17 L98.9,83.95 L98.92,83.72 L98.94,83.49 L98.96,83.24 L98.99,83 L99.01,82.74 L99.04,82.48 L99.07,82.21 L99.1,81.94 L99.13,81.66 L99.16,81.38 L99.2,81.09 L99.24,80.79 L99.27,80.5 L99.31,80.19 L99.36,79.89 L99.4,79.58 L99.45,79.26 L99.49,78.95 L99.55,78.63 L99.6,78.3 L99.65,77.98 L99.71,77.65 L99.77,77.32 L99.84,76.99 L99.91,76.65 L99.98,76.3 L100.05,75.92 L100.13,75.52 L100.21,75.09 L100.3,74.65 L100.38,74.18 L100.48,73.7 L100.58,73.21 L100.68,72.71 L100.79,72.19 L100.9,71.68 L101.02,71.15 L101.15,70.63 L101.28,70.1 L101.41,69.58 L101.56,69.07 L101.71,68.56 L101.87,68.06 L102.03,67.58 L102.21,67.1 L102.39,66.65 L102.58,66.21 L102.78,65.79 L102.99,65.37 L103.21,64.95 L103.44,64.54 L103.68,64.13 L103.94,63.73 L104.21,63.33 L104.48,62.94 L104.78,62.55 L105.08,62.16 L105.41,61.77 L105.74,61.38 L106.1,61 L106.47,60.63 L106.86,60.26 L107.27,59.9 L107.7,59.54 L108.14,59.19 L108.61,58.82 L109.11,58.45 L109.63,58.07 L110.17,57.67 L110.74,57.26 L111.33,56.83 L111.96,56.4 L112.61,55.95 L113.3,55.51 L114.02,55.05 L114.78,54.6 L115.57,54.14 L116.4,53.66 L117.27,53.19 L118.19,52.7 L119.15,52.21 L120.15,51.72 L121.2,51.23 L122.31,50.74 L123.47,50.25 L124.68,49.77 L125.95,49.3 L127.29,48.83 L128.69,48.37 L130.16,47.92 L131.7,47.47 L133.31,47.03 L135,46.59 L136.78,46.16 L138.64,45.73 L140.59,45.31 L142.63,44.9 L144.78,44.49 L147.03,44.09 L149.39,43.69 L151.86,43.3 L154.45,42.91 L157.17,42.53 L160.02,42.16 L163.01,41.79" fill="none" stroke="#a8ddb5" stroke-width="0.95" stroke-linejoin="round"/>
<path d="M29.5,16.3 H167.0" stroke="#a6a6a6" stroke-width="0"/>
<path d="M167,15.8 V168.1" stroke="#a8a8a8" stroke-width="1.5"/>
<path d="M28.9,16.3 H167.5" stroke="#474747" stroke-width="1.05"/>
<path d="M29.5,15.8 V167.5 H167.7" fill="none" stroke="#555" stroke-width="1.3"/>
<path d="M29.69,167.5 v-1.8 M29.69,16.3 v1.8" stroke="#555" stroke-width="0.8"/>
<text transform="translate(30.09,177.7) scale(1.05,1)" font-size="10" text-anchor="middle" fill="#222" font-family='"Liberation Sans", sans-serif' letter-spacing="0.8">-9</text>
<path d="M52.61,167.5 v-1.8 M52.61,16.3 v1.8" stroke="#555" stroke-width="0.8"/>
<text transform="translate(53.01,177.7) scale(1.05,1)" font-size="10" text-anchor="middle" fill="#222" font-family='"Liberation Sans", sans-serif' letter-spacing="0.8">-6</text>
<path d="M75.53,167.5 v-1.8 M75.53,16.3 v1.8" stroke="#555" stroke-width="0.8"/>
<text transform="translate(75.93,177.7) scale(1.05,1)" font-size="10" text-anchor="middle" fill="#222" font-family='"Liberation Sans", sans-serif' letter-spacing="0.8">-3</text>
<path d="M98.45,167.5 v-1.8 M98.45,16.3 v1.8" stroke="#555" stroke-width="0.8"/>
<text transform="translate(98.75,177.7) scale(1.05,1)" font-size="10" text-anchor="middle" fill="#222" font-family='"Liberation Sans", sans-serif' >0</text>
<path d="M121.37,167.5 v-1.8 M121.37,16.3 v1.8" stroke="#555" stroke-width="0.8"/>
<text transform="translate(121.67,177.7) scale(1.05,1)" font-size="10" text-anchor="middle" fill="#222" font-family='"Liberation Sans", sans-serif' >3</text>
<path d="M144.29,167.5 v-1.8 M144.29,16.3 v1.8" stroke="#555" stroke-width="0.8"/>
<text transform="translate(144.59,177.7) scale(1.05,1)" font-size="10" text-anchor="middle" fill="#222" font-family='"Liberation Sans", sans-serif' >6</text>
<path d="M167.21,167.5 v-1.8 M167.21,16.3 v1.8" stroke="#555" stroke-width="0.8"/>
<text transform="translate(167.51,177.7) scale(1.05,1)" font-size="10" text-anchor="middle" fill="#222" font-family='"Liberation Sans", sans-serif' >9</text>
<path d="M29.5,33.2 h1.8 M167.0,33.2 h-1.8" stroke="#555" stroke-width="0.8"/>
<text x="27.2" y="35.8" font-size="9.6" text-anchor="end" fill="#222" font-family='"Liberation Sans", sans-serif'>10<tspan font-size="7.8" dy="-3.9" dx="0.5"><tspan font-size="8.6">-</tspan>4</tspan></text>
<path d="M29.5,66.9 h1.8 M167.0,66.9 h-1.8" stroke="#555" stroke-width="0.8"/>
<text x="27.2" y="69.5" font-size="9.6" text-anchor="end" fill="#222" font-family='"Liberation Sans", sans-serif'>10<tspan font-size="7.8" dy="-3.9" dx="0.5"><tspan font-size="8.6">-</tspan>6</tspan></text>
<path d="M29.5,100.6 h1.8 M167.0,100.6 h-1.8" stroke="#555" stroke-width="0.8"/>
<text x="27.2" y="103.2" font-size="9.6" text-anchor="end" fill="#222" font-family='"Liberation Sans", sans-serif'>10<tspan font-size="7.8" dy="-3.9" dx="0.5"><tspan font-size="8.6">-</tspan>8</tspan></text>
<path d="M29.5,134.3 h1.8 M167.0,134.3 h-1.8" stroke="#555" stroke-width="0.8"/>
<text x="27.2" y="136.9" font-size="9.6" text-anchor="end" fill="#222" font-family='"Liberation Sans", sans-serif'>10<tspan font-size="7.8" dy="-3.9" dx="0.5"><tspan font-size="8.6">-</tspan>10</tspan></text>
<path d="M29.5,168 h1.8 M167.0,168 h-1.8" stroke="#555" stroke-width="0.8"/>
<text x="27.2" y="170.6" font-size="9.6" text-anchor="end" fill="#222" font-family='"Liberation Sans", sans-serif'>10<tspan font-size="7.8" dy="-3.9" dx="0.5"><tspan font-size="8.6">-</tspan>12</tspan></text>
<text x="2" y="8.6" font-size="12" text-anchor="start" fill="#222" font-family='"Liberation Sans", sans-serif' letter-spacing="0.7">(a)</text>
<text x="34.5" y="8.2" font-size="8.6" fill="#222" font-family='"Liberation Sans", sans-serif'>V<tspan font-size="6.25" dy="2.0">Device,max</tspan><tspan dy="-2.0"> = 8.5&#160; V</tspan></text>
<text x="98" y="191.5" font-size="9.5" text-anchor="middle" fill="#222" font-family='"Liberation Sans", sans-serif'>V<tspan font-size="7.2" dy="2.3">Device</tspan><tspan dy="-2.3"> [V]</tspan></text>
<text transform="translate(7.3,91) rotate(-90)" font-size="9.5" text-anchor="middle" fill="#222" font-family='"Liberation Sans", sans-serif'>|I| [A]</text>
<text x="150" y="121.3" font-size="7.4" text-anchor="end" fill="#222" font-family='"Liberation Sans", sans-serif' xml:space="preserve">0.125  Hz</text>
<path d="M153.8,118.7 h6.8" stroke="#084081" stroke-width="1.1"/>
<text x="150" y="129.8" font-size="7.4" text-anchor="end" fill="#222" font-family='"Liberation Sans", sans-serif' xml:space="preserve">0.25  Hz</text>
<path d="M153.8,127.2 h6.8" stroke="#0868ac" stroke-width="1.1"/>
<text x="150" y="138.3" font-size="7.4" text-anchor="end" fill="#222" font-family='"Liberation Sans", sans-serif' xml:space="preserve">1  Hz</text>
<path d="M153.8,135.7 h6.8" stroke="#2b8cbe" stroke-width="1.1"/>
<text x="150" y="146.8" font-size="7.4" text-anchor="end" fill="#222" font-family='"Liberation Sans", sans-serif' xml:space="preserve">5  Hz</text>
<path d="M153.8,144.2 h6.8" stroke="#4eb3d3" stroke-width="1.1"/>
<text x="150" y="155.3" font-size="7.4" text-anchor="end" fill="#222" font-family='"Liberation Sans", sans-serif' xml:space="preserve">10  Hz</text>
<path d="M153.8,152.7 h6.8" stroke="#7bccc4" stroke-width="1.1"/>
<text x="150" y="163.8" font-size="7.4" text-anchor="end" fill="#222" font-family='"Liberation Sans", sans-serif' xml:space="preserve">100  Hz</text>
<path d="M153.8,161.2 h6.8" stroke="#a8ddb5" stroke-width="1.1"/>
</g>
<g>
<path d="M215.9,43 V166.4" stroke="#6a8fc4" stroke-width="1.15"/>
<path d="M228.36,38.4 V166.4" stroke="#6a8fc4" stroke-width="1.15"/>
<path d="M240.82,40 V166.4" stroke="#6a8fc4" stroke-width="1.15"/>
<path d="M253.28,43.6 V166.4" stroke="#6a8fc4" stroke-width="1.15"/>
<path d="M265.74,48.6 V166.4" stroke="#6a8fc4" stroke-width="1.15"/>
<path d="M278.2,55 V166.4" stroke="#6a8fc4" stroke-width="1.15"/>
<path d="M290.66,57 V166.4" stroke="#6a8fc4" stroke-width="1.15"/>
<path d="M303.12,58 V166.4" stroke="#6a8fc4" stroke-width="1.15"/>
<path d="M315.58,61.3 V166.4" stroke="#6a8fc4" stroke-width="1.15"/>
<path d="M328.04,65 V166.4" stroke="#6a8fc4" stroke-width="1.15"/>
<path d="M340.5,66.4 V166.4" stroke="#6a8fc4" stroke-width="1.15"/>
<path d="M215.9,72.5 L228.36,42.6 L240.82,68 L253.28,63.5 L265.74,81.9 L278.2,70.5 L290.66,79.6 L303.12,77 L315.58,84 L328.04,86.6 L340.5,88" fill="none" stroke="#a8ddb5" stroke-width="0.7" stroke-dasharray="2.2,1.2" opacity="0.9"/>
<path d="M215.9,93.5 L228.36,62 L240.82,92.9 L253.28,81.5 L265.74,96.3 L278.2,88 L290.66,98.9 L303.12,92 L315.58,101.5 L328.04,99 L340.5,103" fill="none" stroke="#7bccc4" stroke-width="0.7" stroke-dasharray="2.2,1.2" opacity="0.9"/>
<path d="M215.9,81.9 L228.36,58 L240.82,82 L253.28,80 L265.74,98.6 L278.2,95.9 L290.66,101 L303.12,97 L315.58,107 L328.04,101.5 L340.5,108.3" fill="none" stroke="#4eb3d3" stroke-width="0.7" stroke-dasharray="2.2,1.2" opacity="0.9"/>
<path d="M215.9,57.5 L228.36,52 L240.82,55.5 L253.28,59.5 L265.74,64.3 L278.2,70.5 L290.66,80.5 L303.12,90 L315.58,95 L328.04,97.5 L340.5,100" fill="none" stroke="#2b8cbe" stroke-width="0.7" stroke-dasharray="2.2,1.2" opacity="0.9"/>
<path d="M215.9,55 L228.36,49.6 L240.82,51 L253.28,53.5 L265.74,56.9 L278.2,61.3 L290.66,67.3 L303.12,74 L315.58,79 L328.04,83 L340.5,87" fill="none" stroke="#0868ac" stroke-width="0.7" stroke-dasharray="2.2,1.2" opacity="0.9"/>
<path d="M215.9,43 L228.36,38.4 L240.82,40 L253.28,43.6 L265.74,48.6 L278.2,55 L290.66,57 L303.12,58 L315.58,61.3 L328.04,65 L340.5,66.4" fill="none" stroke="#084081" stroke-width="0.7" stroke-dasharray="2.2,1.2" opacity="0.9"/>
<circle cx="215.9" cy="72.5" r="2.2" fill="#a8ddb5" stroke="#1a1a1a" stroke-width="0.55"/>
<circle cx="228.36" cy="42.6" r="2.2" fill="#a8ddb5" stroke="#1a1a1a" stroke-width="0.55"/>
<circle cx="240.82" cy="68" r="2.2" fill="#a8ddb5" stroke="#1a1a1a" stroke-width="0.55"/>
<circle cx="253.28" cy="63.5" r="2.2" fill="#a8ddb5" stroke="#1a1a1a" stroke-width="0.55"/>
<circle cx="265.74" cy="81.9" r="2.2" fill="#a8ddb5" stroke="#1a1a1a" stroke-width="0.55"/>
<circle cx="278.2" cy="70.5" r="2.2" fill="#a8ddb5" stroke="#1a1a1a" stroke-width="0.55"/>
<circle cx="290.66" cy="79.6" r="2.2" fill="#a8ddb5" stroke="#1a1a1a" stroke-width="0.55"/>
<circle cx="303.12" cy="77" r="2.2" fill="#a8ddb5" stroke="#1a1a1a" stroke-width="0.55"/>
<circle cx="315.58" cy="84" r="2.2" fill="#a8ddb5" stroke="#1a1a1a" stroke-width="0.55"/>
<circle cx="328.04" cy="86.6" r="2.2" fill="#a8ddb5" stroke="#1a1a1a" stroke-width="0.55"/>
<circle cx="340.5" cy="88" r="2.2" fill="#a8ddb5" stroke="#1a1a1a" stroke-width="0.55"/>
<circle cx="215.9" cy="93.5" r="2.2" fill="#7bccc4" stroke="#1a1a1a" stroke-width="0.55"/>
<circle cx="228.36" cy="62" r="2.2" fill="#7bccc4" stroke="#1a1a1a" stroke-width="0.55"/>
<circle cx="240.82" cy="92.9" r="2.2" fill="#7bccc4" stroke="#1a1a1a" stroke-width="0.55"/>
<circle cx="253.28" cy="81.5" r="2.2" fill="#7bccc4" stroke="#1a1a1a" stroke-width="0.55"/>
<circle cx="265.74" cy="96.3" r="2.2" fill="#7bccc4" stroke="#1a1a1a" stroke-width="0.55"/>
<circle cx="278.2" cy="88" r="2.2" fill="#7bccc4" stroke="#1a1a1a" stroke-width="0.55"/>
<circle cx="290.66" cy="98.9" r="2.2" fill="#7bccc4" stroke="#1a1a1a" stroke-width="0.55"/>
<circle cx="303.12" cy="92" r="2.2" fill="#7bccc4" stroke="#1a1a1a" stroke-width="0.55"/>
<circle cx="315.58" cy="101.5" r="2.2" fill="#7bccc4" stroke="#1a1a1a" stroke-width="0.55"/>
<circle cx="328.04" cy="99" r="2.2" fill="#7bccc4" stroke="#1a1a1a" stroke-width="0.55"/>
<circle cx="340.5" cy="103" r="2.2" fill="#7bccc4" stroke="#1a1a1a" stroke-width="0.55"/>
<circle cx="215.9" cy="81.9" r="2.2" fill="#4eb3d3" stroke="#1a1a1a" stroke-width="0.55"/>
<circle cx="228.36" cy="58" r="2.2" fill="#4eb3d3" stroke="#1a1a1a" stroke-width="0.55"/>
<circle cx="240.82" cy="82" r="2.2" fill="#4eb3d3" stroke="#1a1a1a" stroke-width="0.55"/>
<circle cx="253.28" cy="80" r="2.2" fill="#4eb3d3" stroke="#1a1a1a" stroke-width="0.55"/>
<circle cx="265.74" cy="98.6" r="2.2" fill="#4eb3d3" stroke="#1a1a1a" stroke-width="0.55"/>
<circle cx="278.2" cy="95.9" r="2.2" fill="#4eb3d3" stroke="#1a1a1a" stroke-width="0.55"/>
<circle cx="290.66" cy="101" r="2.2" fill="#4eb3d3" stroke="#1a1a1a" stroke-width="0.55"/>
<circle cx="303.12" cy="97" r="2.2" fill="#4eb3d3" stroke="#1a1a1a" stroke-width="0.55"/>
<circle cx="315.58" cy="107" r="2.2" fill="#4eb3d3" stroke="#1a1a1a" stroke-width="0.55"/>
<circle cx="328.04" cy="101.5" r="2.2" fill="#4eb3d3" stroke="#1a1a1a" stroke-width="0.55"/>
<circle cx="340.5" cy="108.3" r="2.2" fill="#4eb3d3" stroke="#1a1a1a" stroke-width="0.55"/>
<circle cx="215.9" cy="57.5" r="2.2" fill="#2b8cbe" stroke="#1a1a1a" stroke-width="0.55"/>
<circle cx="228.36" cy="52" r="2.2" fill="#2b8cbe" stroke="#1a1a1a" stroke-width="0.55"/>
<circle cx="240.82" cy="55.5" r="2.2" fill="#2b8cbe" stroke="#1a1a1a" stroke-width="0.55"/>
<circle cx="253.28" cy="59.5" r="2.2" fill="#2b8cbe" stroke="#1a1a1a" stroke-width="0.55"/>
<circle cx="265.74" cy="64.3" r="2.2" fill="#2b8cbe" stroke="#1a1a1a" stroke-width="0.55"/>
<circle cx="278.2" cy="70.5" r="2.2" fill="#2b8cbe" stroke="#1a1a1a" stroke-width="0.55"/>
<circle cx="290.66" cy="80.5" r="2.2" fill="#2b8cbe" stroke="#1a1a1a" stroke-width="0.55"/>
<circle cx="303.12" cy="90" r="2.2" fill="#2b8cbe" stroke="#1a1a1a" stroke-width="0.55"/>
<circle cx="315.58" cy="95" r="2.2" fill="#2b8cbe" stroke="#1a1a1a" stroke-width="0.55"/>
<circle cx="328.04" cy="97.5" r="2.2" fill="#2b8cbe" stroke="#1a1a1a" stroke-width="0.55"/>
<circle cx="340.5" cy="100" r="2.2" fill="#2b8cbe" stroke="#1a1a1a" stroke-width="0.55"/>
<circle cx="215.9" cy="55" r="2.2" fill="#0868ac" stroke="#1a1a1a" stroke-width="0.55"/>
<circle cx="228.36" cy="49.6" r="2.2" fill="#0868ac" stroke="#1a1a1a" stroke-width="0.55"/>
<circle cx="240.82" cy="51" r="2.2" fill="#0868ac" stroke="#1a1a1a" stroke-width="0.55"/>
<circle cx="253.28" cy="53.5" r="2.2" fill="#0868ac" stroke="#1a1a1a" stroke-width="0.55"/>
<circle cx="265.74" cy="56.9" r="2.2" fill="#0868ac" stroke="#1a1a1a" stroke-width="0.55"/>
<circle cx="278.2" cy="61.3" r="2.2" fill="#0868ac" stroke="#1a1a1a" stroke-width="0.55"/>
<circle cx="290.66" cy="67.3" r="2.2" fill="#0868ac" stroke="#1a1a1a" stroke-width="0.55"/>
<circle cx="303.12" cy="74" r="2.2" fill="#0868ac" stroke="#1a1a1a" stroke-width="0.55"/>
<circle cx="315.58" cy="79" r="2.2" fill="#0868ac" stroke="#1a1a1a" stroke-width="0.55"/>
<circle cx="328.04" cy="83" r="2.2" fill="#0868ac" stroke="#1a1a1a" stroke-width="0.55"/>
<circle cx="340.5" cy="87" r="2.2" fill="#0868ac" stroke="#1a1a1a" stroke-width="0.55"/>
<circle cx="215.9" cy="43" r="2.2" fill="#084081" stroke="#1a1a1a" stroke-width="0.55"/>
<circle cx="228.36" cy="38.4" r="2.2" fill="#084081" stroke="#1a1a1a" stroke-width="0.55"/>
<circle cx="240.82" cy="40" r="2.2" fill="#084081" stroke="#1a1a1a" stroke-width="0.55"/>
<circle cx="253.28" cy="43.6" r="2.2" fill="#084081" stroke="#1a1a1a" stroke-width="0.55"/>
<circle cx="265.74" cy="48.6" r="2.2" fill="#084081" stroke="#1a1a1a" stroke-width="0.55"/>
<circle cx="278.2" cy="55" r="2.2" fill="#084081" stroke="#1a1a1a" stroke-width="0.55"/>
<circle cx="290.66" cy="57" r="2.2" fill="#084081" stroke="#1a1a1a" stroke-width="0.55"/>
<circle cx="303.12" cy="58" r="2.2" fill="#084081" stroke="#1a1a1a" stroke-width="0.55"/>
<circle cx="315.58" cy="61.3" r="2.2" fill="#084081" stroke="#1a1a1a" stroke-width="0.55"/>
<circle cx="328.04" cy="65" r="2.2" fill="#084081" stroke="#1a1a1a" stroke-width="0.55"/>
<circle cx="340.5" cy="66.4" r="2.2" fill="#084081" stroke="#1a1a1a" stroke-width="0.55"/>
<path d="M209.7,15.5 H346.8" stroke="#a6a6a6" stroke-width="0"/>
<path d="M346.8,15 V167" stroke="#a8a8a8" stroke-width="1.5"/>
<path d="M209.1,15.5 H347.3" stroke="#474747" stroke-width="1.05"/>
<path d="M209.7,15 V166.4 H347.5" fill="none" stroke="#555" stroke-width="1.3"/>
<path d="M215.9,166.4 v-1.8 M215.9,15.5 v1.8" stroke="#555" stroke-width="0.8"/>
<text transform="translate(216.1,175.9) scale(1.05,1)" font-size="10.2" text-anchor="middle" fill="#222" font-family='"Liberation Sans", sans-serif' >0</text>
<path d="M228.36,166.4 v-1.8 M228.36,15.5 v1.8" stroke="#555" stroke-width="0.8"/>
<text transform="translate(228.56,175.9) scale(1.05,1)" font-size="10.2" text-anchor="middle" fill="#222" font-family='"Liberation Sans", sans-serif' >1</text>
<path d="M240.82,166.4 v-1.8 M240.82,15.5 v1.8" stroke="#555" stroke-width="0.8"/>
<text transform="translate(241.02,175.9) scale(1.05,1)" font-size="10.2" text-anchor="middle" fill="#222" font-family='"Liberation Sans", sans-serif' >2</text>
<path d="M253.28,166.4 v-1.8 M253.28,15.5 v1.8" stroke="#555" stroke-width="0.8"/>
<text transform="translate(253.48,175.9) scale(1.05,1)" font-size="10.2" text-anchor="middle" fill="#222" font-family='"Liberation Sans", sans-serif' >3</text>
<path d="M265.74,166.4 v-1.8 M265.74,15.5 v1.8" stroke="#555" stroke-width="0.8"/>
<text transform="translate(265.94,175.9) scale(1.05,1)" font-size="10.2" text-anchor="middle" fill="#222" font-family='"Liberation Sans", sans-serif' >4</text>
<path d="M278.2,166.4 v-1.8 M278.2,15.5 v1.8" stroke="#555" stroke-width="0.8"/>
<text transform="translate(278.4,175.9) scale(1.05,1)" font-size="10.2" text-anchor="middle" fill="#222" font-family='"Liberation Sans", sans-serif' >5</text>
<path d="M290.66,166.4 v-1.8 M290.66,15.5 v1.8" stroke="#555" stroke-width="0.8"/>
<text transform="translate(290.86,175.9) scale(1.05,1)" font-size="10.2" text-anchor="middle" fill="#222" font-family='"Liberation Sans", sans-serif' >6</text>
<path d="M303.12,166.4 v-1.8 M303.12,15.5 v1.8" stroke="#555" stroke-width="0.8"/>
<text transform="translate(303.32,175.9) scale(1.05,1)" font-size="10.2" text-anchor="middle" fill="#222" font-family='"Liberation Sans", sans-serif' >7</text>
<path d="M315.58,166.4 v-1.8 M315.58,15.5 v1.8" stroke="#555" stroke-width="0.8"/>
<text transform="translate(315.78,175.9) scale(1.05,1)" font-size="10.2" text-anchor="middle" fill="#222" font-family='"Liberation Sans", sans-serif' >8</text>
<path d="M328.04,166.4 v-1.8 M328.04,15.5 v1.8" stroke="#555" stroke-width="0.8"/>
<text transform="translate(328.24,175.9) scale(1.05,1)" font-size="10.2" text-anchor="middle" fill="#222" font-family='"Liberation Sans", sans-serif' >9</text>
<path d="M340.5,166.4 v-1.8 M340.5,15.5 v1.8" stroke="#555" stroke-width="0.8"/>
<text transform="translate(340.7,175.9) scale(1.05,1)" font-size="10.2" text-anchor="middle" fill="#222" font-family='"Liberation Sans", sans-serif' >10</text>
<path d="M209.7,27.4 h1.8 M346.8,27.4 h-1.8" stroke="#555" stroke-width="0.8"/>
<text x="207.4" y="30" font-size="9.6" text-anchor="end" fill="#222" font-family='"Liberation Sans", sans-serif'>10<tspan font-size="7.8" dy="-3.9" dx="0.5"><tspan font-size="8.6">-</tspan>3</tspan></text>
<path d="M209.7,62 h1.8 M346.8,62 h-1.8" stroke="#555" stroke-width="0.8"/>
<text x="207.4" y="64.6" font-size="9.6" text-anchor="end" fill="#222" font-family='"Liberation Sans", sans-serif'>10<tspan font-size="7.8" dy="-3.9" dx="0.5"><tspan font-size="8.6">-</tspan>5</tspan></text>
<path d="M209.7,96.6 h1.8 M346.8,96.6 h-1.8" stroke="#555" stroke-width="0.8"/>
<text x="207.4" y="99.2" font-size="9.6" text-anchor="end" fill="#222" font-family='"Liberation Sans", sans-serif'>10<tspan font-size="7.8" dy="-3.9" dx="0.5"><tspan font-size="8.6">-</tspan>7</tspan></text>
<path d="M209.7,131.2 h1.8 M346.8,131.2 h-1.8" stroke="#555" stroke-width="0.8"/>
<text x="207.4" y="133.8" font-size="9.6" text-anchor="end" fill="#222" font-family='"Liberation Sans", sans-serif'>10<tspan font-size="7.8" dy="-3.9" dx="0.5"><tspan font-size="8.6">-</tspan>9</tspan></text>
<path d="M209.7,165.8 h1.8 M346.8,165.8 h-1.8" stroke="#555" stroke-width="0.8"/>
<text x="207.4" y="168.4" font-size="9.6" text-anchor="end" fill="#222" font-family='"Liberation Sans", sans-serif'>10<tspan font-size="7.8" dy="-3.9" dx="0.5"><tspan font-size="8.6">-</tspan>11</tspan></text>
<text x="177.5" y="8.6" font-size="12" text-anchor="start" fill="#222" font-family='"Liberation Sans", sans-serif' letter-spacing="0.7">(b)</text>
<text x="278" y="190.5" font-size="9.5" text-anchor="middle" fill="#222" font-family='"Liberation Sans", sans-serif' >Harmonics [#]</text>
<text transform="translate(185.6,90.3) rotate(-90)" font-size="9.5" text-anchor="middle" fill="#222" font-family='"Liberation Sans", sans-serif'>|I| [A]</text>
</g>
<rect x="363" y="16.6" width="317.6" height="169.4" fill="none" stroke="#cfcfcf" stroke-width="1.2"/>
<text x="361.5" y="8.4" font-size="12" text-anchor="start" fill="#222" font-family='"Liberation Sans", sans-serif' letter-spacing="0.7">(c)</text>
<text x="441.9" y="178.6" font-size="8.4" text-anchor="middle" fill="#111" font-family='"Liberation Sans", sans-serif' letter-spacing="0.3">low frequency</text>
<text x="611.6" y="178.6" font-size="8.4" text-anchor="middle" fill="#111" font-family='"Liberation Sans", sans-serif' letter-spacing="0.3">high frequency</text>
<g>
<circle cx="442.4" cy="92.2" r="4.6" fill="none" stroke="#e3e3e3" stroke-width="0.7"/>
<circle cx="442.4" cy="92.2" r="14.6" fill="none" stroke="#e3e3e3" stroke-width="0.7"/>
<circle cx="442.4" cy="92.2" r="24.6" fill="none" stroke="#e3e3e3" stroke-width="0.7"/>
<circle cx="442.4" cy="92.2" r="34.6" fill="none" stroke="#e3e3e3" stroke-width="0.7"/>
<circle cx="442.4" cy="92.2" r="44.6" fill="none" stroke="#e3e3e3" stroke-width="0.7"/>
<circle cx="442.4" cy="92.2" r="54.6" fill="none" stroke="#e3e3e3" stroke-width="0.7"/>
<path d="M447,92.2 L505.1,92.2" stroke="#e3e3e3" stroke-width="0.7"/>
<path d="M445.65,88.95 L486.74,47.86" stroke="#e3e3e3" stroke-width="0.7"/>
<path d="M442.4,87.6 L442.4,29.5" stroke="#e3e3e3" stroke-width="0.7"/>
<path d="M439.15,88.95 L398.06,47.86" stroke="#e3e3e3" stroke-width="0.7"/>
<path d="M437.8,92.2 L379.7,92.2" stroke="#e3e3e3" stroke-width="0.7"/>
<path d="M439.15,95.45 L398.06,136.54" stroke="#e3e3e3" stroke-width="0.7"/>
<path d="M442.4,96.8 L442.4,154.9" stroke="#e3e3e3" stroke-width="0.7"/>
<path d="M445.65,95.45 L486.74,136.54" stroke="#e3e3e3" stroke-width="0.7"/>
<circle cx="442.4" cy="92.2" r="62.7" fill="none" stroke="#2a2a2a" stroke-width="1.0"/>
<text x="448.3" y="90.9" font-size="7.2" fill="#2a2a2a" letter-spacing="0.4" font-family='"Liberation Serif", serif'>0</text>
<text x="458.3" y="90.9" font-size="7.2" fill="#2a2a2a" letter-spacing="0.4" font-family='"Liberation Serif", serif'>2</text>
<text x="468.3" y="90.9" font-size="7.2" fill="#2a2a2a" letter-spacing="0.4" font-family='"Liberation Serif", serif'>4</text>
<text x="478.3" y="90.9" font-size="7.2" fill="#2a2a2a" letter-spacing="0.4" font-family='"Liberation Serif", serif'>6</text>
<text x="488.3" y="90.9" font-size="7.2" fill="#2a2a2a" letter-spacing="0.4" font-family='"Liberation Serif", serif'>8</text>
<text x="498.3" y="90.9" font-size="7.2" fill="#2a2a2a" letter-spacing="0.4" font-family='"Liberation Serif", serif'>10</text>
<text x="512.1" y="95.2" font-size="7.2" text-anchor="middle" fill="#2a2a2a" letter-spacing="0.45" font-family='"Liberation Serif", serif'>0&#176;</text>
<text x="491.1" y="45.7" font-size="7.2" text-anchor="middle" fill="#2a2a2a" letter-spacing="0.45" font-family='"Liberation Serif", serif'>45&#176;</text>
<text x="442.6" y="24.7" font-size="7.2" text-anchor="middle" fill="#2a2a2a" letter-spacing="0.45" font-family='"Liberation Serif", serif'>90&#176;</text>
<text x="393.1" y="45.2" font-size="7.2" text-anchor="middle" fill="#2a2a2a" letter-spacing="0.45" font-family='"Liberation Serif", serif'>135&#176;</text>
<text x="373.1" y="95.2" font-size="7.2" text-anchor="middle" fill="#2a2a2a" letter-spacing="0.45" font-family='"Liberation Serif", serif'>180&#176;</text>
<text x="392.1" y="143.4" font-size="7.2" text-anchor="middle" fill="#2a2a2a" letter-spacing="0.45" font-family='"Liberation Serif", serif'>225&#176;</text>
<text x="442.6" y="163.2" font-size="7.2" text-anchor="middle" fill="#2a2a2a" letter-spacing="0.45" font-family='"Liberation Serif", serif'>270&#176;</text>
<text x="492.1" y="143.4" font-size="7.2" text-anchor="middle" fill="#2a2a2a" letter-spacing="0.45" font-family='"Liberation Serif", serif'>315&#176;</text>
<path d="M396.2,72.1 L438.5,52.1" stroke="#7ab4e0" stroke-width="0.6"/>
<path d="M438.5,52.1 L452.5,47.8" stroke="#7ab4e0" stroke-width="0.6"/>
<path d="M431.1,64.4 L409.2,80.4" stroke="#7ab4e0" stroke-width="0.6"/>
<path d="M431.1,64.4 L447.4,67.5" stroke="#7ab4e0" stroke-width="0.6"/>
<path d="M396.2,72.1 L420.2,143" stroke="#7ab4e0" stroke-width="0.6"/>
<path d="M456.9,38.6 L490.9,80.4" stroke="#7ab4e0" stroke-width="0.6"/>
<path d="M452.5,47.8 L482.7,86.5" stroke="#7ab4e0" stroke-width="0.6"/>
<path d="M420.4,125.7 L473.8,124.9" stroke="#7ab4e0" stroke-width="0.6"/>
<path d="M421.6,132.3 L490.6,107.6" stroke="#7ab4e0" stroke-width="0.6"/>
<path d="M490.6,107.6 L482.7,86.5" stroke="#7ab4e0" stroke-width="0.6"/>
<path d="M412.3,91.7 L453.7,69.9" stroke="#7ab4e0" stroke-width="0.6"/>
<path d="M412.3,91.7 L429.1,98.9" stroke="#7ab4e0" stroke-width="0.6"/>
<path d="M412.3,94.6 L451,126.5" stroke="#7ab4e0" stroke-width="0.6"/>
<path d="M429.1,98.9 L459.9,102.3" stroke="#7ab4e0" stroke-width="0.6"/>
<path d="M431,102 L456.1,107" stroke="#7ab4e0" stroke-width="0.6"/>
<path d="M451,126.5 L482.7,86.5" stroke="#7ab4e0" stroke-width="0.6"/>
<path d="M473.8,124.9 L490.9,80.4" stroke="#7ab4e0" stroke-width="0.6"/>
<path d="M456.1,107 L461.9,121.4" stroke="#7ab4e0" stroke-width="0.6"/>
<path d="M420.4,125.7 L431,102" stroke="#7ab4e0" stroke-width="0.6"/>
<path d="M447.6,92.5 L456.1,107" stroke="#7ab4e0" stroke-width="0.6"/>
<path d="M447.6,92.5 L453.7,69.9" stroke="#7ab4e0" stroke-width="0.6"/>
<path d="M460.2,74.1 L459.9,102.3" stroke="#7ab4e0" stroke-width="0.6"/>
<path d="M439.2,82.6 L412.3,94.6" stroke="#7ab4e0" stroke-width="0.6"/>
<path d="M438.5,52.1 L431,102" stroke="#7ab4e0" stroke-width="0.6"/>
<path d="M447.4,67.5 L459.9,102.3" stroke="#7ab4e0" stroke-width="0.6"/>
<path d="M453.8,37.6 L431.1,64.4" stroke="#7ab4e0" stroke-width="0.6"/>
<path d="M409.2,80.4 L440.6,82.6" stroke="#7ab4e0" stroke-width="0.6"/>
<path d="M420.2,143 L421.6,132.3" stroke="#7ab4e0" stroke-width="0.6"/>
<path d="M461.9,121.4 L451,126.5" stroke="#7ab4e0" stroke-width="0.6"/>
<path d="M438.5,52.1 L439.2,82.6" stroke="#7ab4e0" stroke-width="0.6"/>
<path d="M447.4,67.5 L451,126.5" stroke="#7ab4e0" stroke-width="0.6"/>
<path d="M452.5,47.8 L460.2,74.1" stroke="#7ab4e0" stroke-width="0.6"/>
<circle cx="453.8" cy="37.6" r="1.95" fill="#0b4590" stroke="#1a1a1a" stroke-width="0.5"/>
<circle cx="456.9" cy="38.6" r="1.95" fill="#2a8ad0" stroke="#1a1a1a" stroke-width="0.5"/>
<circle cx="452.5" cy="47.8" r="1.95" fill="#1a6db8" stroke="#1a1a1a" stroke-width="0.5"/>
<circle cx="438.5" cy="52.1" r="1.95" fill="#1a6db8" stroke="#1a1a1a" stroke-width="0.5"/>
<circle cx="396.2" cy="72.1" r="1.95" fill="#1a6db8" stroke="#1a1a1a" stroke-width="0.5"/>
<circle cx="431.1" cy="64.4" r="1.95" fill="#0b4590" stroke="#1a1a1a" stroke-width="0.5"/>
<circle cx="447.4" cy="67.5" r="1.95" fill="#0b4590" stroke="#1a1a1a" stroke-width="0.5"/>
<circle cx="453.7" cy="69.9" r="1.95" fill="#1a6db8" stroke="#1a1a1a" stroke-width="0.5"/>
<circle cx="460.2" cy="74.1" r="1.95" fill="#0b4590" stroke="#1a1a1a" stroke-width="0.5"/>
<circle cx="409.2" cy="80.4" r="1.95" fill="#0b4590" stroke="#1a1a1a" stroke-width="0.5"/>
<circle cx="439.2" cy="82.6" r="1.95" fill="#0b4590" stroke="#1a1a1a" stroke-width="0.5"/>
<circle cx="440.6" cy="82.6" r="1.95" fill="#2a8ad0" stroke="#1a1a1a" stroke-width="0.5"/>
<circle cx="447.6" cy="92.5" r="1.95" fill="#1a6db8" stroke="#1a1a1a" stroke-width="0.5"/>
<circle cx="412.3" cy="91.7" r="1.95" fill="#1a6db8" stroke="#1a1a1a" stroke-width="0.5"/>
<circle cx="412.3" cy="94.6" r="1.95" fill="#0b4590" stroke="#1a1a1a" stroke-width="0.5"/>
<circle cx="429.1" cy="98.9" r="1.95" fill="#1a6db8" stroke="#1a1a1a" stroke-width="0.5"/>
<circle cx="431" cy="102" r="1.95" fill="#0b4590" stroke="#1a1a1a" stroke-width="0.5"/>
<circle cx="490.9" cy="80.4" r="1.95" fill="#0b4590" stroke="#1a1a1a" stroke-width="0.5"/>
<circle cx="482.7" cy="86.5" r="1.95" fill="#2a8ad0" stroke="#1a1a1a" stroke-width="0.5"/>
<circle cx="459.9" cy="102.3" r="1.95" fill="#0b4590" stroke="#1a1a1a" stroke-width="0.5"/>
<circle cx="456.1" cy="107" r="1.95" fill="#0b4590" stroke="#1a1a1a" stroke-width="0.5"/>
<circle cx="490.6" cy="107.6" r="1.95" fill="#2a8ad0" stroke="#1a1a1a" stroke-width="0.5"/>
<circle cx="461.9" cy="121.4" r="1.95" fill="#1a6db8" stroke="#1a1a1a" stroke-width="0.5"/>
<circle cx="473.8" cy="124.9" r="1.95" fill="#0b4590" stroke="#1a1a1a" stroke-width="0.5"/>
<circle cx="451" cy="126.5" r="1.95" fill="#1a6db8" stroke="#1a1a1a" stroke-width="0.5"/>
<circle cx="420.4" cy="125.7" r="1.95" fill="#0b4590" stroke="#1a1a1a" stroke-width="0.5"/>
<circle cx="421.6" cy="132.3" r="1.95" fill="#1a6db8" stroke="#1a1a1a" stroke-width="0.5"/>
<circle cx="420.2" cy="143" r="1.95" fill="#0b4590" stroke="#1a1a1a" stroke-width="0.5"/>
</g>
<g>
<circle cx="607.8" cy="92.2" r="4.6" fill="none" stroke="#e3e3e3" stroke-width="0.7"/>
<circle cx="607.8" cy="92.2" r="14.6" fill="none" stroke="#e3e3e3" stroke-width="0.7"/>
<circle cx="607.8" cy="92.2" r="24.6" fill="none" stroke="#e3e3e3" stroke-width="0.7"/>
<circle cx="607.8" cy="92.2" r="34.6" fill="none" stroke="#e3e3e3" stroke-width="0.7"/>
<circle cx="607.8" cy="92.2" r="44.6" fill="none" stroke="#e3e3e3" stroke-width="0.7"/>
<circle cx="607.8" cy="92.2" r="54.6" fill="none" stroke="#e3e3e3" stroke-width="0.7"/>
<path d="M612.4,92.2 L670.5,92.2" stroke="#e3e3e3" stroke-width="0.7"/>
<path d="M611.05,88.95 L652.14,47.86" stroke="#e3e3e3" stroke-width="0.7"/>
<path d="M607.8,87.6 L607.8,29.5" stroke="#e3e3e3" stroke-width="0.7"/>
<path d="M604.55,88.95 L563.46,47.86" stroke="#e3e3e3" stroke-width="0.7"/>
<path d="M603.2,92.2 L545.1,92.2" stroke="#e3e3e3" stroke-width="0.7"/>
<path d="M604.55,95.45 L563.46,136.54" stroke="#e3e3e3" stroke-width="0.7"/>
<path d="M607.8,96.8 L607.8,154.9" stroke="#e3e3e3" stroke-width="0.7"/>
<path d="M611.05,95.45 L652.14,136.54" stroke="#e3e3e3" stroke-width="0.7"/>
<circle cx="607.8" cy="92.2" r="62.7" fill="none" stroke="#2a2a2a" stroke-width="1.0"/>
<text x="613.7" y="90.9" font-size="7.2" fill="#2a2a2a" letter-spacing="0.4" font-family='"Liberation Serif", serif'>0</text>
<text x="623.7" y="90.9" font-size="7.2" fill="#2a2a2a" letter-spacing="0.4" font-family='"Liberation Serif", serif'>2</text>
<text x="633.7" y="90.9" font-size="7.2" fill="#2a2a2a" letter-spacing="0.4" font-family='"Liberation Serif", serif'>4</text>
<text x="643.7" y="90.9" font-size="7.2" fill="#2a2a2a" letter-spacing="0.4" font-family='"Liberation Serif", serif'>6</text>
<text x="653.7" y="90.9" font-size="7.2" fill="#2a2a2a" letter-spacing="0.4" font-family='"Liberation Serif", serif'>8</text>
<text x="663.7" y="90.9" font-size="7.2" fill="#2a2a2a" letter-spacing="0.4" font-family='"Liberation Serif", serif'>10</text>
<text x="677.5" y="95.2" font-size="7.2" text-anchor="middle" fill="#2a2a2a" letter-spacing="0.45" font-family='"Liberation Serif", serif'>0&#176;</text>
<text x="656.5" y="45.7" font-size="7.2" text-anchor="middle" fill="#2a2a2a" letter-spacing="0.45" font-family='"Liberation Serif", serif'>45&#176;</text>
<text x="608" y="24.7" font-size="7.2" text-anchor="middle" fill="#2a2a2a" letter-spacing="0.45" font-family='"Liberation Serif", serif'>90&#176;</text>
<text x="558.5" y="45.2" font-size="7.2" text-anchor="middle" fill="#2a2a2a" letter-spacing="0.45" font-family='"Liberation Serif", serif'>135&#176;</text>
<text x="538.5" y="95.2" font-size="7.2" text-anchor="middle" fill="#2a2a2a" letter-spacing="0.45" font-family='"Liberation Serif", serif'>180&#176;</text>
<text x="557.5" y="143.4" font-size="7.2" text-anchor="middle" fill="#2a2a2a" letter-spacing="0.45" font-family='"Liberation Serif", serif'>225&#176;</text>
<text x="608" y="163.2" font-size="7.2" text-anchor="middle" fill="#2a2a2a" letter-spacing="0.45" font-family='"Liberation Serif", serif'>270&#176;</text>
<text x="657.5" y="143.4" font-size="7.2" text-anchor="middle" fill="#2a2a2a" letter-spacing="0.45" font-family='"Liberation Serif", serif'>315&#176;</text>
<path d="M553,82.6 L609.8,132.8" stroke="#8fd3e6" stroke-width="0.6"/>
<path d="M553,82.6 L609.3,142.6" stroke="#8fd3e6" stroke-width="0.6"/>
<path d="M552.8,87.2 L606.5,132.6" stroke="#8fd3e6" stroke-width="0.6"/>
<path d="M552.8,87.2 L606.1,142.6" stroke="#8fd3e6" stroke-width="0.6"/>
<path d="M552.4,90 L609.8,132.8" stroke="#8fd3e6" stroke-width="0.6"/>
<path d="M562.6,88.1 L609.3,142.6" stroke="#b5e3cf" stroke-width="0.6"/>
<path d="M562.6,88.1 L606.5,132.6" stroke="#8fd3e6" stroke-width="0.6"/>
<path d="M562.6,90.6 L606.1,142.6" stroke="#b5e3cf" stroke-width="0.6"/>
<path d="M563,91.9 L609.8,132.8" stroke="#b5e3cf" stroke-width="0.6"/>
<path d="M563,91.9 L607.7,122.3" stroke="#b5e3cf" stroke-width="0.6"/>
<path d="M573.3,98.9 L609.8,132.8" stroke="#b5e3cf" stroke-width="0.6"/>
<path d="M573.3,98.9 L599.7,121.2" stroke="#8fd3e6" stroke-width="0.6"/>
<path d="M572.8,91.1 L610.3,112.2" stroke="#b5e3cf" stroke-width="0.6"/>
<path d="M583.4,85.4 L613.8,111.6" stroke="#b5e3cf" stroke-width="0.6"/>
<path d="M582.7,92.8 L607.6,112.4" stroke="#8fd3e6" stroke-width="0.6"/>
<path d="M593.8,98 L607.7,82.2" stroke="#b5e3cf" stroke-width="0.6"/>
<path d="M593.8,98 L618,68.9" stroke="#8fd3e6" stroke-width="0.6"/>
<path d="M618,68.9 L613,92.8" stroke="#8fd3e6" stroke-width="0.6"/>
<path d="M618,68.9 L607.7,82.2" stroke="#8fd3e6" stroke-width="0.6"/>
<path d="M602.8,92.6 L615.8,105.1" stroke="#8fd3e6" stroke-width="0.6"/>
<path d="M613,92.8 L615.8,105.1" stroke="#b5e3cf" stroke-width="0.6"/>
<path d="M623.1,92.8 L615.8,105.1" stroke="#8fd3e6" stroke-width="0.6"/>
<path d="M593.8,98 L610.3,112.2" stroke="#b5e3cf" stroke-width="0.6"/>
<path d="M607.7,82.2 L607.7,122.3" stroke="#8fd3e6" stroke-width="0.6"/>
<path d="M599.7,121.2 L607.7,122.3" stroke="#8fd3e6" stroke-width="0.6"/>
<path d="M607.6,112.4 L613.8,111.6" stroke="#b5e3cf" stroke-width="0.6"/>
<path d="M553,82.6 L606.5,132.6" stroke="#b5e3cf" stroke-width="0.6"/>
<path d="M552.8,87.2 L609.3,142.6" stroke="#b5e3cf" stroke-width="0.6"/>
<path d="M552.4,90 L607.7,122.3" stroke="#8fd3e6" stroke-width="0.6"/>
<path d="M562.6,90.6 L606.5,132.6" stroke="#b5e3cf" stroke-width="0.6"/>
<path d="M593.8,98 L613,92.8" stroke="#b5e3cf" stroke-width="0.6"/>
<path d="M582.7,92.8 L593.8,98" stroke="#b5e3cf" stroke-width="0.6"/>
<path d="M572.8,91.1 L607.6,112.4" stroke="#8fd3e6" stroke-width="0.6"/>
<path d="M573.3,98.9 L610.3,112.2" stroke="#8fd3e6" stroke-width="0.6"/>
<path d="M562.6,88.1 L607.6,112.4" stroke="#b5e3cf" stroke-width="0.6"/>
<circle cx="553" cy="82.6" r="1.95" fill="#4eb3d3" stroke="#1a1a1a" stroke-width="0.5"/>
<circle cx="552.8" cy="87.2" r="1.95" fill="#7bccc4" stroke="#1a1a1a" stroke-width="0.5"/>
<circle cx="552.4" cy="90" r="1.95" fill="#a8ddb5" stroke="#1a1a1a" stroke-width="0.5"/>
<circle cx="562.6" cy="88.1" r="1.95" fill="#7bccc4" stroke="#1a1a1a" stroke-width="0.5"/>
<circle cx="562.6" cy="90.6" r="1.95" fill="#a8ddb5" stroke="#1a1a1a" stroke-width="0.5"/>
<circle cx="563" cy="91.9" r="1.95" fill="#a8ddb5" stroke="#1a1a1a" stroke-width="0.5"/>
<circle cx="572.8" cy="91.1" r="1.95" fill="#a8ddb5" stroke="#1a1a1a" stroke-width="0.5"/>
<circle cx="583.4" cy="85.4" r="1.95" fill="#7bccc4" stroke="#1a1a1a" stroke-width="0.5"/>
<circle cx="582.7" cy="92.8" r="1.95" fill="#a8ddb5" stroke="#1a1a1a" stroke-width="0.5"/>
<circle cx="573.3" cy="98.9" r="1.95" fill="#4eb3d3" stroke="#1a1a1a" stroke-width="0.5"/>
<circle cx="593.8" cy="98" r="1.95" fill="#4eb3d3" stroke="#1a1a1a" stroke-width="0.5"/>
<circle cx="602.8" cy="92.6" r="1.95" fill="#a8ddb5" stroke="#1a1a1a" stroke-width="0.5"/>
<circle cx="607.7" cy="82.2" r="1.95" fill="#a8ddb5" stroke="#1a1a1a" stroke-width="0.5"/>
<circle cx="618" cy="68.9" r="1.95" fill="#4eb3d3" stroke="#1a1a1a" stroke-width="0.5"/>
<circle cx="613" cy="92.8" r="1.95" fill="#7bccc4" stroke="#1a1a1a" stroke-width="0.5"/>
<circle cx="623.1" cy="92.8" r="1.95" fill="#a8ddb5" stroke="#1a1a1a" stroke-width="0.5"/>
<circle cx="615.8" cy="105.1" r="1.95" fill="#7bccc4" stroke="#1a1a1a" stroke-width="0.5"/>
<circle cx="607.6" cy="112.4" r="1.95" fill="#a8ddb5" stroke="#1a1a1a" stroke-width="0.5"/>
<circle cx="610.3" cy="112.2" r="1.95" fill="#a8ddb5" stroke="#1a1a1a" stroke-width="0.5"/>
<circle cx="613.8" cy="111.6" r="1.95" fill="#4eb3d3" stroke="#1a1a1a" stroke-width="0.5"/>
<circle cx="599.7" cy="121.2" r="1.95" fill="#4eb3d3" stroke="#1a1a1a" stroke-width="0.5"/>
<circle cx="607.7" cy="122.3" r="1.95" fill="#a8ddb5" stroke="#1a1a1a" stroke-width="0.5"/>
<circle cx="606.5" cy="132.6" r="1.95" fill="#a8ddb5" stroke="#1a1a1a" stroke-width="0.5"/>
<circle cx="609.8" cy="132.8" r="1.95" fill="#4eb3d3" stroke="#1a1a1a" stroke-width="0.5"/>
<circle cx="606.1" cy="142.6" r="1.95" fill="#a8ddb5" stroke="#1a1a1a" stroke-width="0.5"/>
<circle cx="609.3" cy="142.6" r="1.95" fill="#4eb3d3" stroke="#1a1a1a" stroke-width="0.5"/>
</g>
<text x="0.6" y="214.2" font-size="12" text-anchor="start" fill="#222" font-family='"Liberation Sans", sans-serif' letter-spacing="0.7">(d)</text>
<defs><linearGradient id="hg" gradientUnits="userSpaceOnUse" x1="8" y1="0" x2="680" y2="0"><stop offset="0" stop-color="#8e8e8e"/><stop offset="1" stop-color="#363636"/></linearGradient></defs>
<path d="M7.95,340.3 V222" fill="none" stroke="#a2a2a2" stroke-width="2"/>
<path d="M7.0,340.3 H680" fill="none" stroke="url(#hg)" stroke-width="1.6"/>
<path d="M7.95,219.0 l-1.9,3.6 h3.8 z" fill="#111"/>
<path d="M683.6,340.3 l-4.8,-2.3 v4.6 z" fill="#111"/>
<path d="M27,331.8 H679.5" stroke="#ec8052" stroke-width="1.1" stroke-dasharray="1.5,0.85"/>
<path d="M22.8,331.9 l5,-2.6 v5.2 z" fill="#e2582a"/>
<text x="360.1" y="330" font-size="9.3" text-anchor="middle" fill="#e2693a" font-family='"Liberation Sans", sans-serif' >Nonlinearity</text>
<text x="341.5" y="349.6" font-size="10.5" text-anchor="middle" fill="#222" font-family='"Liberation Sans", sans-serif' font-style="italic">q</text>
<text x="2.3" y="279.2" font-size="10.5" text-anchor="middle" fill="#222" font-family='"Liberation Sans", sans-serif' font-style="italic">q</text>
<circle cx="3.8" cy="270.3" r="1.0" fill="#111"/>
<g>
<svg x="23.5" y="225" width="92.9" height="82.1" viewBox="23.5 225 92.9 82.1" overflow="hidden">
<path d="M58.1,273.4 L58.23,272.46 L58.33,271.51 L58.42,270.56 L58.51,269.61 L58.61,268.66 L58.72,267.72 L58.85,266.78 L59.02,265.84 L59.23,264.92 L59.5,264 L59.81,263.08 L60.16,262.16 L60.54,261.23 L60.96,260.3 L61.4,259.39 L61.87,258.49 L62.37,257.62 L62.89,256.77 L63.43,255.96 L64,255.2 L64.59,254.47 L65.23,253.76 L65.89,253.07 L66.58,252.41 L67.29,251.78 L68.02,251.18 L68.76,250.63 L69.5,250.11 L70.25,249.63 L71,249.2 L71.76,248.81 L72.54,248.46 L73.33,248.15 L74.13,247.88 L74.94,247.64 L75.75,247.45 L76.56,247.3 L77.36,247.19 L78.14,247.12 L78.9,247.1 L79.65,247.12 L80.39,247.18 L81.12,247.29 L81.84,247.44 L82.56,247.62 L83.26,247.86 L83.96,248.13 L84.65,248.44 L85.33,248.8 L86,249.2 L86.67,249.66 L87.33,250.18 L87.99,250.75 L88.64,251.37 L89.28,252.02 L89.9,252.71 L90.51,253.4 L91.1,254.11 L91.66,254.81 L92.2,255.5 L92.71,256.19 L93.21,256.89 L93.68,257.6 L94.13,258.33 L94.57,259.06 L94.99,259.8 L95.39,260.55 L95.77,261.3 L96.14,262.05 L96.5,262.8 L96.83,263.55 L97.14,264.31 L97.43,265.08 L97.7,265.85 L97.95,266.63 L98.2,267.4 L98.44,268.18 L98.69,268.95 L98.94,269.73 L99.2,270.5" fill="none" stroke="#0072BD" stroke-width="0.95" stroke-linejoin="round"/>
<path d="M99.5,266.39 L99.19,265.41 L98.86,264.57 L98.58,264.02 L98.14,262.95 L97.86,262.23 L97.39,261.23 L96.93,260.57 L96.31,259.57 L95.77,258.59 L95.28,257.82 L94.84,256.97 L94.49,255.98 L93.62,254.98 L93.36,254.09 L92.6,253.04 L92.06,252.03 L91.67,251.06 L90.89,250.31 L90.14,249.25 L89.51,248.36 L88.61,247.45 L88.13,246.35 L87.25,245.64 L86.23,244.96 L85.53,243.69 L84.56,243.04 L83.64,242.22 L82.76,241.41 L82.05,240.48 L81.02,239.79 L80.14,239.03 L79.16,238.48 L78.44,238.01 L77.28,237.17 L76.61,236.45 L75.57,236.15 L74.87,235.76 L73.77,235.2 L72.87,235.05 L71.95,234.51 L71.14,234.28 L70.18,233.97 L69.31,233.9 L68.56,233.94 L67.53,233.9 L66.6,233.94 L65.74,233.92 L64.68,233.96 L63.72,233.78 L62.96,234.04 L62.09,234.57 L61.02,234.42 L60.18,234.77 L59.17,234.94 L58.3,235.32 L57.13,235.58 L56.3,235.83 L55.38,236.27 L54.53,236.86 L53.51,237.28 L52.59,237.68 L51.57,238.59 L50.56,239.32 L49.72,240.04 L48.96,240.8 L48.22,241.32 L47.52,242.49 L46.55,243.12 L45.75,243.88 L45.13,244.78 L44.25,245.62 L43.45,246.46 L42.96,247.52 L42.23,248.48 L41.35,249.4 L40.72,250.42 L40.12,251.36 L39.41,252.29 L39.22,253.29 L38.37,254.39 L38.19,255.16 L37.54,256.25 L36.93,257.42 L36.75,258.35 L36.3,259.4 L36,260.34 L35.62,261.23 L35.64,262.31 L35.26,263.36 L34.95,264.29 L34.88,265.29 L34.62,266.31 L34.64,267.37 L34.43,268.19 L34.13,269.34 L34.36,270.17 L34.27,271.22 L34.28,272.16 L34.13,273.14 L34.05,273.95 L34.3,274.82 L34.52,275.75 L34.24,276.21 L34.57,277.12 L34.59,278.15 L34.54,278.59 L34.93,279.63 L35.05,280.39 L35.18,280.94 L35.48,281.73 L35.54,282.61 L35.99,283.28 L36.15,283.81 L36.44,284.42 L36.9,285.06 L37.25,285.81 L37.81,286.21 L38.06,286.96 L38.36,287.39 L38.74,288.24 L39.26,288.75 L39.75,289.48 L40.32,289.67 L40.81,290.28 L41.09,291.03 L42.24,291.66 L42.55,292.08 L43.44,292.73 L43.91,293.19 L44.5,293.75 L45.15,294.1 L45.55,294.53 L46.19,294.98 L46.72,295.18 L47.47,295.37 L48.28,296.01 L48.62,296.21 L49.33,296.07 L49.92,296.62 L50.51,296.72 L51.08,297.04 L51.87,297.3 L52.34,297.62 L52.89,297.56 L53.36,297.93 L54.32,297.97 L54.91,297.95 L55.48,297.95 L56.05,297.99 L56.88,298.02 L57.31,297.8 L57.85,297.93 L58.59,297.57 L59.09,297.23 L59.73,297.23 L60.31,296.84 L60.96,296.59 L61.44,296.25 L62.2,296.07 L62.91,295.72 L63.91,295.28 L64.4,294.98 L65.23,294.45 L66.06,294.41 L66.77,293.72 L67.49,293.35 L68.29,292.74 L69.43,292.32 L70.26,292.17 L71.03,291.62 L72.15,291.08 L72.81,290.47 L73.9,290.32 L75.05,289.54 L75.87,289.1 L77.02,288.65 L78,288.23 L78.86,287.75 L79.77,287.32 L80.56,287.17 L81.22,286.61 L81.51,286.32 L81.97,285.8 L82.74,285.77 L83.01,285.22 L83.36,285.1 L83.85,285.22 L84.17,284.64 L84.41,284.53 L84.98,284.21 L85.49,284.05 L86.09,284.19 L86.58,283.9 L87,283.86 L87.39,283.76 L87.78,283.56 L88.54,283.64 L88.99,283.7 L89.27,283.38 L90.02,283.4 L90.49,283.33 L91.12,282.93 L91.56,283.03 L92.31,282.55 L92.99,282.69 L93.57,282.4 L93.93,282.12 L94.81,282.02 L95.21,281.73 L95.52,281.35 L95.91,281.37 L96.24,281.06 L96.85,280.44 L97.16,280.14 L97.59,279.74 L97.87,279.36 L98.19,278.84 L98.62,278.71 L98.74,278.22 L99.12,277.73 L99.55,277.46 L99.86,277.13 L99.94,276.93 L100,276.76 L100.24,276.5 L100.39,276 L100.51,275.81 L100.72,275.32 L100.66,274.77 L100.78,274.32 L100.49,273.83 L100.81,272.95 L100.5,272.29 L100.41,271.61 L100.35,270.63 L100.38,269.75 L100.2,268.84 L99.82,267.85 L99.97,267.16 L99.53,266.35" fill="none" stroke="#D95319" stroke-width="0.95" stroke-linejoin="round"/>
<path d="M99.62,265.71 L99.55,264.75 L98.82,263.92 L98.51,263.3 L98.4,262.26 L97.73,261.49 L97.65,260.35 L97.1,259.71 L96.7,258.84 L96.06,257.91 L95.48,257.37 L95.19,256.24 L94.46,255.12 L93.98,254.39 L93.45,253.41 L92.75,252.44 L92.27,251.63 L91.87,250.49 L90.9,249.54 L90.24,248.52 L89.59,247.57 L88.93,246.78 L88.1,245.86 L87.16,244.86 L86.38,244.01 L85.57,243.19 L84.49,242.33 L83.6,241.41 L82.84,240.43 L81.99,239.93 L81.08,239.15 L80.18,238.4 L79.3,237.79 L78.45,237.08 L77.56,236.63 L76.61,235.99 L75.79,235.31 L74.87,235.06 L73.94,234.64 L72.92,234.19 L72.18,233.95 L71.23,233.46 L70.37,233.59 L69.54,233.33 L68.34,233.33 L67.61,232.86 L66.78,232.99 L65.68,233.12 L65.08,233.23 L64.05,233.58 L63.29,233.49 L62.14,233.5 L61.13,233.89 L60.3,234.07 L59.41,234.22 L58.31,234.69 L57.42,235.07 L56.44,235.27 L55.49,235.61 L54.32,236.26 L53.59,236.74 L52.5,237.22 L51.73,237.79 L50.64,238.53 L50.14,239.34 L49.09,240.05 L48.4,240.52 L47.46,241.73 L46.74,242.71 L46,243.39 L45.14,244.29 L44.29,245.06 L43.73,246.2 L42.89,246.88 L42.24,247.99 L41.53,248.97 L40.77,249.75 L40.24,250.84 L39.8,251.55 L39.01,252.76 L38.52,253.52 L38.24,254.74 L37.72,255.62 L37.37,256.65 L36.99,257.58 L36.39,258.72 L36.08,259.79 L35.89,260.61 L35.59,261.68 L35.44,262.64 L35.05,263.85 L35.17,264.92 L34.74,265.68 L34.78,266.62 L34.37,267.62 L34.45,268.48 L34.14,269.36 L34.38,270.38 L34.27,271.43 L34.36,272.27 L34.36,273.09 L34.29,273.95 L34.53,274.92 L34.38,275.72 L34.55,276.67 L34.5,277.28 L34.79,278.5 L35.11,278.96 L35.26,279.98 L35.35,280.43 L35.75,281.26 L35.92,281.84 L36.32,282.79 L36.44,283.32 L36.42,283.96 L36.95,284.56 L37.39,285.08 L37.47,285.77 L37.97,286.28 L38.39,286.87 L38.62,287.65 L39.4,288.23 L40.12,288.69 L40.21,289.17 L40.85,289.81 L41.59,290.2 L42.22,290.82 L42.83,291.53 L43.36,292.05 L43.94,292.47 L44.4,293 L45.41,293.66 L45.94,293.91 L46.29,294.37 L46.96,294.54 L47.53,294.89 L48.12,295.17 L48.65,295.42 L49.66,295.72 L49.96,296.04 L50.68,296.07 L51.19,296.52 L51.86,296.62 L52.63,296.71 L53.07,296.89 L53.86,296.86 L54.22,297.14 L55.01,297.36 L55.72,297.14 L56.27,297.3 L56.72,297.36 L57.31,296.97 L57.98,296.91 L58.55,296.96 L59.27,296.9 L59.81,296.29 L60.36,296.1 L60.94,295.98 L61.65,295.39 L62.48,295.3 L63.14,295.01 L63.9,294.67 L64.72,294.35 L65.37,293.97 L65.93,293.49 L66.87,293.12 L67.55,292.86 L68.55,292.08 L69.17,291.75 L70.22,291.25 L71.11,290.82 L72.08,290.36 L72.98,290.1 L74.31,289.37 L74.98,288.9 L76.16,288.37 L77.03,288.02 L77.95,287.43 L78.94,286.85 L79.67,286.63 L80.62,286.28 L81.04,285.9 L81.91,285.69 L82.29,285.22 L82.81,284.97 L82.99,284.68 L83.68,284.56 L84.01,284.24 L84.36,284.01 L84.63,284.18 L85.19,283.64 L85.57,283.58 L86.21,283.35 L86.34,283.27 L87.04,283.24 L87.7,283.19 L88.14,282.95 L88.65,283.26 L89.15,282.96 L89.6,283.04 L89.99,282.69 L90.69,282.65 L91.14,282.46 L91.74,282.29 L92.33,281.99 L92.93,282.07 L93.39,281.77 L94.15,281.48 L94.63,281.27 L95.26,281.44 L95.84,280.87 L96.14,280.62 L96.5,280.46 L96.75,280.05 L97.31,279.71 L97.72,279.07 L98.1,278.84 L98.41,278.41 L98.67,277.7 L99.14,277.65 L99.32,277.21 L99.68,276.81 L99.7,276.55 L100.14,276.14 L100.33,275.97 L100.22,275.93 L100.49,275.33 L100.57,275.27 L100.85,274.72 L100.82,274.41 L100.72,273.84 L100.8,273.12 L100.72,272.5 L100.73,271.66 L100.6,271.05 L100.57,270.17 L100.56,269.27 L100.52,268.21 L100.16,267.38 L100.07,266.75 L99.37,265.58" fill="none" stroke="#EDB120" stroke-width="0.95" stroke-linejoin="round"/>
<path d="M99.03,266.94 L98.76,266.01 L98.42,265.27 L98.01,264.48 L97.38,263.6 L97.13,262.8 L96.8,261.73 L96.43,260.88 L95.81,259.93 L95.44,259.3 L95.07,258.33 L94.57,257.44 L93.91,256.57 L93.5,255.5 L92.78,254.55 L92.24,253.49 L91.75,252.58 L91.05,251.56 L90.39,250.75 L89.61,250.01 L88.99,249.06 L88.32,247.87 L87.37,247.09 L86.61,246.13 L85.72,245.01 L84.86,244.07 L84.05,243.38 L83.03,242.61 L82.25,241.66 L81.12,240.94 L80.2,240.23 L79.76,239.54 L78.76,238.84 L77.82,238.33 L76.88,237.83 L76.19,237.22 L75.09,236.55 L74.24,236.15 L73.36,235.74 L72.56,235.13 L71.41,235.16 L70.51,234.7 L69.63,234.43 L68.78,234.75 L68.01,234.23 L66.88,234.27 L66.21,234.22 L65.1,234.46 L64.39,234.38 L63.24,234.34 L62.37,234.38 L61.61,234.73 L60.62,235.21 L59.75,235.07 L58.74,235.6 L57.58,235.64 L56.69,235.9 L55.92,236.17 L54.66,236.84 L53.83,237.36 L52.98,237.82 L52.19,238.16 L51.15,238.96 L50.28,239.75 L49.27,240.37 L48.61,241.25 L47.58,242.24 L47.1,242.64 L46.04,243.95 L45.31,244.53 L44.43,245.29 L43.68,246.15 L43.06,247.07 L42.21,247.89 L41.56,248.87 L40.87,250.07 L40.28,250.98 L39.66,251.91 L39.01,252.85 L38.56,253.74 L38.11,254.85 L37.38,255.77 L36.93,256.85 L36.51,257.97 L36.11,258.57 L35.76,259.61 L35.51,260.99 L35.28,261.71 L34.84,263.09 L34.72,263.87 L34.58,265.14 L34.41,265.84 L34.13,266.88 L33.87,267.66 L33.84,268.64 L33.74,269.74 L33.97,270.58 L33.64,271.61 L33.68,272.68 L33.57,273.36 L33.45,274.24 L33.75,275.22 L33.62,276.03 L33.83,276.97 L33.85,277.71 L33.83,278.41 L34.38,279.08 L34.31,280.15 L34.48,280.79 L34.72,281.63 L34.94,282.12 L35.17,282.95 L35.38,283.76 L35.79,284.5 L35.95,285.14 L36.47,285.79 L36.83,286.25 L37,286.97 L37.24,287.49 L37.75,288.02 L38.04,288.54 L38.72,289.35 L39.35,289.83 L39.75,290.33 L40.39,290.99 L41,291.8 L41.53,291.97 L42.04,292.52 L42.61,293.37 L43.38,293.51 L44.03,294.3 L44.49,294.49 L45.09,295 L45.8,295.49 L46.46,295.84 L47.08,296.1 L47.34,296.32 L48.16,296.57 L48.84,296.84 L49.23,297.3 L50.03,297.38 L50.67,297.69 L51.22,297.46 L51.71,297.89 L52.29,298.13 L53.17,298.19 L53.52,298.6 L54.22,298.29 L54.93,298.53 L55.44,298.58 L56.09,298.34 L56.79,298.46 L57.3,298.28 L57.97,298.41 L58.5,298.03 L59.18,297.61 L59.89,297.47 L60.58,297.12 L61.01,296.72 L61.81,296.54 L62.62,296.2 L63.3,296 L63.94,295.27 L64.54,294.9 L65.65,294.56 L66.4,294.31 L67.27,293.93 L67.87,293.35 L68.74,292.95 L69.52,292.48 L70.64,291.85 L71.39,291.49 L72.36,291.23 L73.34,290.74 L74.19,290.28 L75.35,289.73 L76.46,288.86 L77.33,288.73 L78.53,288.28 L79.23,287.66 L80.12,287.67 L80.6,287.08 L80.97,286.88 L81.98,286.56 L82.24,286.25 L82.36,286.09 L82.71,285.65 L83.25,285.56 L83.65,285.28 L83.91,284.88 L84.46,284.76 L84.77,284.54 L85.35,284.34 L85.74,284.26 L86.41,284.42 L87.13,284.12 L87.31,284.34 L87.87,284.12 L88.62,284.03 L88.79,283.82 L89.49,283.89 L89.82,283.59 L90.61,283.64 L91.04,283.5 L91.77,283.06 L92.24,283.17 L92.79,282.69 L93.38,282.85 L94.15,282.28 L94.78,282.18 L95.06,282.2 L95.52,281.77 L95.7,281.5 L96.18,280.77 L97,280.78 L97.27,280.19 L97.59,280.09 L97.94,279.5 L97.94,279.08 L98.11,278.51 L98.66,278.23 L98.88,278.01 L99.37,277.88 L99.34,277.6 L99.44,277.15 L99.82,276.78 L99.82,276.48 L99.98,276.5 L99.97,275.95 L100.01,275.34 L100,275.12 L100.44,274.39 L100.04,273.72 L100.04,272.97 L100.03,272.1 L99.97,271.15 L99.71,270.14 L99.55,269.29 L99.4,268.46 L99.21,267.75 L98.78,266.75" fill="none" stroke="#7E2F8E" stroke-width="0.95" stroke-linejoin="round"/>
<path d="M35.86,280.36 L35.76,279.8 L35.54,278.98 L35.52,278.21 L35.22,277.22 L35.09,276.68 L35.06,275.71 L35.06,275.09 L35.06,274.25 L34.83,273.4 L34.65,272.49 L34.65,271.56 L34.64,270.98 L34.59,269.7 L34.69,268.88 L34.79,268.04 L35.01,266.85 L34.9,266.01 L35.07,265 L35.52,264.07 L35.42,263.07 L35.75,262.13 L36.03,260.98 L36.16,259.99 L36.44,258.96 L36.63,257.98 L37.29,257.2 L37.6,256.03 L38,255.21 L38.67,254 L38.85,253.08 L39.37,252.21 L40.06,251.17 L40.45,250.13 L41.24,249.14 L41.68,248.2 L42.6,247.25 L43.33,246.22 L43.95,245.5 L44.98,244.6 L45.54,243.66 L46.27,242.96 L47.11,241.91 L47.62,240.97 L48.57,240.32 L49.58,239.52 L50.31,238.86 L51.25,237.91 L52.06,237.62 L53.03,236.74 L54.04,236.19 L54.82,235.84 L55.79,235.12 L56.71,235 L57.52,234.62 L58.8,233.97 L59.45,233.76 L60.22,233.56 L61.58,233.33 L62.55,233.01 L63.56,232.9 L64.3,232.83 L65.17,232.73 L66.12,232.89 L67.16,232.53 L67.93,232.67 L68.54,232.85 L69.75,233.17 L70.6,232.75 L71.42,233.22 L72.42,233.36 L73.47,233.86 L74.18,233.92 L75.01,234.55 L75.85,234.94 L76.89,235.43 L77.89,236.03 L78.68,236.8 L79.66,237.55 L80.73,237.85 L81.25,238.77 L82.26,239.57 L83.11,240.37 L83.79,241.15 L84.77,241.76 L85.65,242.74 L86.44,243.48 L87.3,244.32 L88.21,245.31 L89.32,246.34 L89.73,247.26 L90.34,248.08 L91.2,248.91 L91.72,250.02 L92.36,250.83 L93,251.74 L93.47,252.9 L93.99,253.96 L94.71,254.52 L95.49,255.59 L95.85,256.6 L96.26,257.5 L96.5,258.27 L97.11,259.23 L97.46,260.08 L98.32,261.1 L98.32,261.41 L98.58,262.75 L99.06,263.57 L99.62,264.32 L99.58,265.14 L100.02,265.77 L100.4,266.65 L100.51,267.64 L100.53,268.56 L100.67,269.38 L100.73,270.5 L100.97,271.1 L100.79,272.04 L100.82,272.48 L100.82,273.1 L100.89,273.53 L100.77,274.04 L100.84,274.47 L100.58,274.78 L100.41,275.06 L100.21,275.44 L100.21,275.77 L100.05,275.9 L99.59,276 L99.46,276.55 L99.09,276.58 L98.7,277.24 L98.58,277.67 L98.38,277.95 L97.84,278.51 L97.53,278.7 L97.27,279.22 L96.51,279.51 L96.12,279.73 L95.68,280.42 L95.35,280.42 L94.93,280.65 L94.3,280.81 L93.65,281.09 L93.12,281.28 L92.58,281.48 L91.9,281.69 L91.37,281.82 L90.64,281.95 L90.42,281.93 L89.85,282.21 L89.09,282.19 L88.55,282.31 L88.11,282.18 L87.76,282.39 L87.23,282.34 L86.65,282.53 L85.97,282.62 L85.62,282.87 L85.28,282.96 L84.75,283.07 L84.55,283.49 L84.13,283.41 L83.72,283.68 L83.32,284.3 L83.14,284.33 L82.39,284.53 L81.9,285.01 L81.38,285.32 L80.81,285.71 L79.93,285.95 L79,286.56 L78.35,286.78 L77.15,287.13 L76,287.83 L75.2,288.28 L74.06,288.58 L73.17,289.04 L72.36,289.59 L71.2,289.86 L70.35,290.67 L69.74,290.93 L68.89,291.49 L67.77,291.92 L67.29,292.39 L66.4,292.74 L65.54,293.03 L64.85,293.38 L64,293.99 L63.54,294.14 L62.53,294.56 L62.23,294.89 L61.29,295.22 L61.01,295.42 L60.24,295.59 L59.36,295.73 L58.82,296.09 L58.42,296.42 L57.86,296.54 L57.02,296.28 L56.63,296.73 L55.83,296.4 L55.14,296.39 L54.55,296.66 L54.1,296.17 L53.47,296.12 L52.87,295.76 L52.24,295.72 L51.55,295.32 L51.01,295.3 L50.06,295.16 L49.77,294.96 L48.96,294.74 L48.48,294.48 L47.93,293.97 L47.49,293.77 L46.88,293.39 L46.15,293.18 L45.59,292.76 L45.01,292.33 L44.32,291.67 L37.6,285.5 L37,281.5 L37.2,277.5 L38.3,273.4" fill="none" stroke="#77AC30" stroke-width="0.95" stroke-linejoin="round"/>
</svg>
<path d="M23.5,225 H116.4" stroke="#8c8c8c" stroke-width="1.4"/>
<path d="M23.5,224.4 V307.1 H116.4 V224.4" fill="none" stroke="#555" stroke-width="1.25"/>
<text x="21.3" y="227.6" font-size="6.9" text-anchor="end" fill="#333" font-family='"Liberation Sans", sans-serif'>1.5</text>
<path d="M23.5,241.42 h1.6" stroke="#555" stroke-width="0.7"/>
<text x="21.3" y="244.02" font-size="6.9" text-anchor="end" fill="#333" font-family='"Liberation Sans", sans-serif'>1</text>
<path d="M23.5,257.84 h1.6" stroke="#555" stroke-width="0.7"/>
<text x="21.3" y="260.44" font-size="6.9" text-anchor="end" fill="#333" font-family='"Liberation Sans", sans-serif'>0.5</text>
<path d="M23.5,274.26 h1.6" stroke="#555" stroke-width="0.7"/>
<text x="21.3" y="276.86" font-size="6.9" text-anchor="end" fill="#333" font-family='"Liberation Sans", sans-serif'>0</text>
<path d="M23.5,290.68 h1.6" stroke="#555" stroke-width="0.7"/>
<text x="21.3" y="293.28" font-size="6.9" text-anchor="end" fill="#333" font-family='"Liberation Sans", sans-serif'>-0.5</text>
<text x="21.3" y="309.7" font-size="6.9" text-anchor="end" fill="#333" font-family='"Liberation Sans", sans-serif'>-1</text>
<text x="23.5" y="315.4" font-size="6.9" text-anchor="middle" fill="#333" font-family='"Liberation Sans", sans-serif'>-0.4</text>
<path d="M46.73,307.1 v-1.6" stroke="#555" stroke-width="0.7"/>
<text x="46.73" y="315.4" font-size="6.9" text-anchor="middle" fill="#333" font-family='"Liberation Sans", sans-serif'>0</text>
<path d="M69.95,307.1 v-1.6" stroke="#555" stroke-width="0.7"/>
<text x="69.95" y="315.4" font-size="6.9" text-anchor="middle" fill="#333" font-family='"Liberation Sans", sans-serif'>0.4</text>
<path d="M93.18,307.1 v-1.6" stroke="#555" stroke-width="0.7"/>
<text x="93.18" y="315.4" font-size="6.9" text-anchor="middle" fill="#333" font-family='"Liberation Sans", sans-serif'>0.8</text>
<text x="116.4" y="315.4" font-size="6.9" text-anchor="middle" fill="#333" font-family='"Liberation Sans", sans-serif'>1.2</text>
<text x="112.9" y="233.3" font-size="7.6" text-anchor="end" fill="#222" font-family='"Liberation Sans", sans-serif'>0.125 Hz</text>
</g>
<g>
<svg x="136.2" y="225.3" width="92.6" height="81.8" viewBox="136.2 225.3 92.6 81.8" overflow="hidden">
<path d="M159.37,273.49 L159.08,271.78 L159.65,270.08 L159.47,268.27 L159.77,266.47 L159.88,264.99 L160.09,263.5 L160.32,261.75 L160.81,260.3 L161.11,258.75 L162.05,257.68 L162.45,255.87 L163.66,254.72 L164.63,253.36 L166.07,252.66 L166.81,251.21 L168.01,250.23 L168.89,249.15 L170.35,248.14 L171.4,247.04 L173.15,246.83 L175.1,245.99 L176.56,245.25 L178.06,244.22 L179.64,243.88 L181.17,243.51 L182.87,243.5 L184.28,242.66 L185.84,242.88 L187.81,242.55 L189.61,243 L191.04,242.6 L192.47,243.49 L193.92,243.86 L195.21,244.76 L196.93,244.93 L198.25,245.79 L199.87,246.29 L200.92,247.06 L202.41,248.11 L203.42,249.45 L204.89,250.57 L205.84,251.89 L207.28,253.06 L208.3,254.58 L209.22,255.51 L210.05,257.41 L211.06,258.62 L211.7,260.04 L212.43,261.54 L212.62,263.17 L213.43,264.67 L213.99,266.31 L214.74,267.44 L214.93,268.92 L215.22,270.34 L215.12,272.18 L215.22,273.88 L214.58,275.43 L214.67,277.24 L214.19,278.72 L213.55,280.26 L212.63,281.64 L211.84,283.24 L210.59,284.76 L210.02,286 L208.47,286.43 L207.07,287.5 L205.74,287.83 L204.29,288.4 L202.71,288.65 L201.13,289.12 L199.53,289.13 L197.75,290.2 L195.84,290.1 L194.69,291.36 L192.83,291.4 L191.39,292.37 L189.56,292.39 L188.21,293.14 L186.5,293.22 L184.73,293.78 L183.07,293.95 L181.42,294.55 L180,294.67 L178.51,295.13 L176.88,294.92 L175.37,295.3 L174.13,295.39 L172.6,295.65 L170.77,295.48 L169.18,295.76 L167.29,295.41 L165.74,295.06 L164.12,294.51 L162.55,294.06 L160.98,293.52" fill="none" stroke="#0072BD" stroke-width="0.95" stroke-linejoin="round"/>
<path d="M215.4,266.13 L214.88,264.38 L214.77,262.49 L214.11,261.01 L213.36,259.6 L212.19,258.2 L211.44,256.48 L210.55,255.13 L209.91,253.74 L208.87,252.64 L207.83,251.37 L206.53,250.54 L205.81,249.04 L204.52,248.52 L203.92,247.27 L202.55,246.66 L201.26,245.44 L199.63,245 L198.32,243.32 L196.16,242.73 L194.81,241.5 L193.54,241.51 L192,240.47 L190.21,240.24 L188.82,239.53 L187.1,239.62 L185.32,238.97 L184.22,239.07 L182.98,238.54 L181.46,238.66 L179.84,238.01 L178.31,238.22 L176.82,238.07 L175.33,238.72 L173.74,238.35 L172.38,238.48 L170.65,238.21 L168.8,239.19 L167.39,239.41 L165.71,239.79 L163.89,240.64 L162.71,241.67 L161.32,242.12 L160.09,243.37 L158.67,244.47 L157.67,245.9 L156.18,247.12 L155.84,248.46 L154.27,249.79 L153.47,251.62 L152.31,253.23 L151.84,254.91 L151.12,256.12 L150.68,257.73 L149.91,258.78 L149.63,260.24 L149.12,261.18 L148.82,262.46 L148.04,264.08 L148.3,265.7 L147.72,267.33 L147.8,269.14 L147.59,270.88 L148.28,272.58 L148.43,274.24 L148.91,275.69 L148.58,277.14 L149.01,278.71 L149.31,280.41 L149.4,281.29 L149.49,279.67 L148.5,278.4 L148.47,276.46 L147.83,275.03 L147.42,274.79 L147.85,276.6 L148.29,278.2 L149.07,279.17 L149.04,280.81 L149.95,282.26 L150.96,283.64 L152.19,284.73 L153.28,286.03 L154.81,287.31 L155.3,288.56 L156.82,289.08 L158.26,290.22 L159.43,290.95 L160.55,292.38 L162.03,292.64 L163.57,293.8 L165.33,293.59 L167.03,293.87 L168.71,293.81 L170.38,294.12 L171.71,294.37 L173.39,294.64 L175.35,294.1 L177.02,294.33 L178.55,294.3 L180.08,294.34 L182.03,293.73 L183.16,294.36 L185.33,293.75 L186.57,293.77 L188.04,293.02 L189.49,293.22 L191.14,292.14 L193,292.53 L194.61,291.79 L196.3,291.82 L197.43,291.02 L199.05,291.33 L200.54,290.87 L202.01,290.8 L203.56,289.71 L205.29,289.64 L206.63,288.27 L208.12,287.28 L209.4,286.22 L210.37,284.83 L211.55,283.39 L212.27,282.44 L212.95,280.65 L213.77,279.52 L214.19,278.35 L215.43,277.08 L215.51,275.54 L216.44,274.28 L216.02,272.51 L216.1,271.05 L215.99,269.36 L215.71,267.81 L215.14,266.47" fill="none" stroke="#D95319" stroke-width="0.95" stroke-linejoin="round"/>
<path d="M154.35,272.21 L154.59,270.59 L154.59,268.93 L154.6,267.27 L154.72,265.71 L154.7,263.95 L155.32,262.31 L155.51,260.69 L156.17,259.16 L156.91,257.35 L157.4,255.6 L157.91,253.99 L158.99,252.98 L159.32,251.63 L160.83,250.29 L161.61,248.73 L162.79,247.71 L164.05,246.72 L165.45,246.3 L166.64,245.47 L168.11,244.8 L169.48,244.37 L171.2,243.67 L172.86,242.86 L174.37,242.65 L175.85,241.92 L177.49,241.72 L179.13,240.82 L180.94,240.73 L182.27,240.32 L183.94,240.16 L185.74,239.8 L187.29,240.08 L188.96,239.88 L190.38,240.58 L192.05,240.28 L193.26,240.79 L194.87,241.06 L196.3,242.04 L198.12,242.32 L199.17,243.29 L200.73,244.31 L201.73,245.16 L202.87,245.91 L203.68,247.29 L204.99,248.32 L206.23,249.5 L207.26,250.78 L207.56,252.46 L208.71,253.68 L209.77,255.03 L211.07,256.36 L211.27,257.99 L212.19,259.11 L212.55,260.87 L213.32,262.44 L213.92,264.28 L214.71,266.02 L214.49,267.59 L214.76,269.17 L214.44,270.77 L215.37,272.33 L214.9,273.87 L215.01,275.49 L214.5,277.23 L214.68,278.93 L213.85,280.07 L213.44,281.84 L212.37,282.99 L211.76,284.52 L210.53,285.37 L209.34,286.63 L207.28,287.33 L205.19,287.82 L203.68,288.28 L201.98,288.83 L200.59,288.98 L199.63,289.98 L198.02,290.33 L196.6,290.96 L194.9,291.02 L193.16,291.73 L191.38,291.98 L189.85,292.5 L188.2,292.66 L186.8,293.12 L184.99,293.48 L183.37,293.72 L181.8,293.87 L179.94,294.58 L178.38,294.45 L176.9,294.72 L175.3,294.5 L173.6,295.03 L172.24,295.14 L170.85,295.3 L169.3,295.18 L167.67,295.26 L166.22,294.88 L164.43,294.65 L163.08,293.83 L161.57,293.5 L160.1,292.77 L158.59,291.95 L157.79,290.54 L156,289.5 L155.09,287.99 L153.99,286.65 L153.4,285.21 L152.38,284.02" fill="none" stroke="#EDB120" stroke-width="0.95" stroke-linejoin="round"/>
<path d="M215.53,266.71 L215.11,265.32 L214.63,263.93 L213.98,262.52 L213.86,260.44 L212.55,258.9 L212.07,257.26 L210.46,255.95 L209.74,254.94 L208.96,253.72 L208.17,252.01 L206.48,250.96 L205.41,249.58 L203.64,248.58 L202.75,247.33 L201.4,246.3 L200.58,244.82 L199.26,244.2 L197.79,243.05 L196.31,242.85 L195.11,242.13 L193.81,241.64 L192.61,241.29 L191.5,240.66 L189.88,240.2 L188.04,239.78 L186.47,239.24 L184.84,239.05 L183.15,238.44 L181.32,239.09 L179.81,238.63 L178.07,238.95 L176.3,238.03 L174.44,238.2 L172.31,237.75 L171.12,238.37 L169.78,238.45 L168.53,239.04 L167.02,239.33 L165.61,240.46 L164.18,240.71 L162.75,241.55 L161.32,242.26 L160.02,243.39 L158.75,244.31 L158.26,246.02 L156.61,247.22 L155.66,248.86 L154.51,249.87 L153.31,251.22 L151.9,252.63 L151.51,253.85 L150.56,254.94 L150.14,256.73 L148.89,258.3 L148.71,260.18 L147.88,261.75 L147.86,263.36 L147.21,264.65 L147.5,266.41 L147.14,268.3 L147.77,269.82 L147.56,271.28 L147.82,272.76 L148.23,274.48 L148.61,276.36 L148.01,277.59 L148.77,279.17 L148.97,280.53 L149.86,282.42 L150.27,284.17 L151.12,285.48 L151.11,287.21 L152.64,287.97 L153.08,289.35 L154.28,290.35 L154.63,292.06 L156.4,292.72 L156.91,293.87 L158.82,293.72 L160.06,294.55 L161.88,294.74 L163.45,295.64 L165.5,295.73 L167.16,295.83 L169.07,295.52 L170.53,296.17 L171.79,295.74 L173.62,296.2 L174.84,295.85 L176.63,295.49 L177.91,295.19 L179.57,295.44 L181.47,294.93 L183.21,295.71 L184.62,294.95 L186.27,295.03 L187.61,294.2 L189.72,294.29 L191.01,293.88 L192.56,293.67 L194.15,292.69 L195.83,293 L197.34,292.07 L198.88,292 L200.25,291.18 L202,290.42 L203.62,289.69 L205.21,289 L206.79,288.35 L208.58,287.57 L209.83,286.41 L210.95,285.71 L211.79,284.36 L213.06,283.36 L213.96,282.12 L214.35,280.8 L214.54,278.76 L215.44,277.69 L215.64,276.24 L215.85,274.54 L215.98,272.8 L216.35,270.75 L216.06,269.36 L215.97,267.83 L214.87,266.63" fill="none" stroke="#7E2F8E" stroke-width="0.95" stroke-linejoin="round"/>
<path d="M215.42,265.18 L214.79,263.94 L214.31,262.79 L213.33,261.56 L212.65,259.75 L211.96,258.45 L211.76,256.91 L210.61,256.07 L210.03,254.15 L208.68,253.19 L208.22,251.3 L206.78,250.19 L205.89,248.5 L204.29,247.62 L203.59,246.5 L202.09,245.8 L201.25,244.24 L199.46,243.6 L198.23,242.22 L196.77,241.92 L195.19,240.97 L193.59,240.7 L192.38,239.34 L190.48,239.25 L189.34,238.03 L187.83,238.19 L186.41,237.5 L184.63,237.62 L182.81,236.38 L181.42,236.3 L179.8,235.61 L177.93,235.67 L176.2,235.62 L174.75,236.01 L173.19,236.19 L171.41,236.71 L170.05,237.13 L168.21,237.6 L166.88,237.91 L165.52,238.8 L163.83,239.27 L162.45,240.27 L160.9,240.72 L159.91,242.7 L157.98,243.51 L156.9,245.13 L155.25,245.95 L154.67,247.49 L153.64,248.04 L153.18,249.57 L152.19,250.43 L151.4,252.02 L150.3,253.34 L150.13,254.57 L149.24,255.85 L149.04,257.22 L148.11,258.02 L148.24,259.38 L147.39,260.8 L147.79,262.45 L147.07,263.93 L147.41,265.72 L146.94,267.33 L147,269.1 L146.22,270.94 L146.56,273.13 L146.38,274.78 L147.12,276.69 L147.22,278.41 L147.82,280.05 L147.78,281.78 L148.42,283.22 L149.07,284.75 L149.66,286.35 L150.38,287.74 L151.71,288.42 L152.29,289.79 L153.88,290.69 L155.02,292 L156.72,292.55 L158.14,293.64 L159.46,293.73 L160.75,294.42 L162.55,294.44 L164.62,294.8 L166.35,294.57 L167.83,295.15 L168.97,295.16 L171.03,295.54 L172.72,295.51 L174.34,295.62 L175.41,295.39 L177.02,295.2 L178.64,294.69 L180.18,294.85 L181.45,294.64 L182.81,294.54 L184.8,294.26 L186.48,294.04 L187.9,293.56 L189.56,293.43 L191.06,292.66 L192.44,292.63 L194.15,291.64 L195.78,291.44 L197.32,290.8 L199.26,290.71 L200.34,289.99 L201.83,289.88 L203.25,288.93 L205.03,288.49 L206.06,287.3 L207.39,287.02 L208.79,286.54 L210.62,285.48 L211.46,283.91 L212.5,282.77 L212.72,281.02 L213.52,279.47 L214.27,277.85 L215.54,276.34 L215.78,274.51 L216.72,273.3 L216.54,271.44 L216.79,269.61 L216.28,268.35 L216.29,266.19 L215.44,264.88" fill="none" stroke="#77AC30" stroke-width="0.95" stroke-linejoin="round"/>
</svg>
<path d="M136.2,225.3 H228.8" stroke="#8c8c8c" stroke-width="1.4"/>
<path d="M136.2,224.7 V307.1 H228.8 V224.7" fill="none" stroke="#555" stroke-width="1.25"/>
<text x="134" y="227.9" font-size="6.9" text-anchor="end" fill="#333" font-family='"Liberation Sans", sans-serif'>1.5</text>
<path d="M136.2,241.66 h1.6" stroke="#555" stroke-width="0.7"/>
<text x="134" y="244.26" font-size="6.9" text-anchor="end" fill="#333" font-family='"Liberation Sans", sans-serif'>1</text>
<path d="M136.2,258.02 h1.6" stroke="#555" stroke-width="0.7"/>
<text x="134" y="260.62" font-size="6.9" text-anchor="end" fill="#333" font-family='"Liberation Sans", sans-serif'>0.5</text>
<path d="M136.2,274.38 h1.6" stroke="#555" stroke-width="0.7"/>
<text x="134" y="276.98" font-size="6.9" text-anchor="end" fill="#333" font-family='"Liberation Sans", sans-serif'>0</text>
<path d="M136.2,290.74 h1.6" stroke="#555" stroke-width="0.7"/>
<text x="134" y="293.34" font-size="6.9" text-anchor="end" fill="#333" font-family='"Liberation Sans", sans-serif'>-0.5</text>
<text x="134" y="309.7" font-size="6.9" text-anchor="end" fill="#333" font-family='"Liberation Sans", sans-serif'>-1</text>
<text x="136.2" y="315.4" font-size="6.9" text-anchor="middle" fill="#333" font-family='"Liberation Sans", sans-serif'>-0.3</text>
<path d="M159.35,307.1 v-1.6" stroke="#555" stroke-width="0.7"/>
<text x="159.35" y="315.4" font-size="6.9" text-anchor="middle" fill="#333" font-family='"Liberation Sans", sans-serif'>0</text>
<path d="M182.5,307.1 v-1.6" stroke="#555" stroke-width="0.7"/>
<text x="182.5" y="315.4" font-size="6.9" text-anchor="middle" fill="#333" font-family='"Liberation Sans", sans-serif'>0.3</text>
<path d="M205.65,307.1 v-1.6" stroke="#555" stroke-width="0.7"/>
<text x="205.65" y="315.4" font-size="6.9" text-anchor="middle" fill="#333" font-family='"Liberation Sans", sans-serif'>0.6</text>
<text x="228.8" y="315.4" font-size="6.9" text-anchor="middle" fill="#333" font-family='"Liberation Sans", sans-serif'>0.9</text>
<text x="225.3" y="233.6" font-size="7.6" text-anchor="end" fill="#222" font-family='"Liberation Sans", sans-serif'>0.25 Hz</text>
</g>
<g>
<svg x="249.5" y="225.8" width="92.9" height="81.3" viewBox="249.5 225.8 92.9 81.3" overflow="hidden">
<path d="M256.3,271.75 L256.12,270.09 L256.89,269.05 L257.23,267.41 L257.44,265.57 L257.97,264.41 L258.84,263.27 L258.73,261.45 L259.62,260.08 L259.39,258.65 L260.65,256.79 L260.53,255.17 L261.35,253.02 L261.64,251.24 L262.57,250.45 L263.15,248.58 L264.32,246.92 L264.52,245.35 L265.55,243.97 L266.69,242.66 L268.12,241.6 L268.98,240.47 L270.49,240.15 L271.13,238.66 L272.3,237.96 L273.58,237.2 L274.97,236.75 L276.35,235.75 L277.65,236.15 L278.77,235.89 L280.2,236.6 L281.64,236.08 L283.49,236.72 L285.47,237.45 L286.37,238.41 L288.43,239.3 L289.05,240.63 L290.74,241.61 L292.36,242.71 L293.88,243.26 L295.41,244.37 L295.96,245.45 L296.57,247.51 L297.49,248.76 L298.13,250.8 L299.27,252.28 L299.79,253.77 L300.88,255 L300.6,257.03 L301.13,258.71 L301.45,260.28 L301.93,261.64 L301.86,263.52 L302.93,265.22 L302.65,266.89 L302.72,268.6 L302.45,270.04 L303.5,271.71 L302.02,273.25 L302.38,275.07 L302.55,276.41 L302.84,277.9 L302.51,279.61 L303.05,280.9 L302.85,282.11 L303.33,284.21 L302.2,285.08 L300.99,286.13 L299.43,286.96 L297.59,287.87 L296.12,288.04 L294.64,288.84 L293.15,288.76 L291.7,289.72 L289.45,289.8 L287.78,290.35 L285.8,289.73 L284.15,290.27 L282.65,289.57 L281.44,289.63 L280.39,288.19 L279.42,286.39 L279.34,284.7" fill="none" stroke="#0072BD" stroke-width="0.95" stroke-linejoin="round"/>
<path d="M297.22,243.33 L298.7,243.15 L300.45,243.06 L301.72,242.71 L303.13,243 L305.13,242.87 L306.25,244.64 L307.66,245.58 L308.35,246.91 L309.19,248.59 L310.14,250.63 L310.63,251.85 L310.62,253.73 L311.48,254.99 L311.86,256.81 L312.36,258.82 L312.43,260.42 L313.72,261.66 L313.98,263.29 L314.17,264.81 L313.33,266.53 L313.86,268.2 L313.34,268.42 L313.5,269.33 L313.33,271.36 L313.73,272.87 L312.55,274.33 L312.87,275.85 L311.68,277.82 L311.93,279.95 L310.9,281.42 L310.55,283.28 L309.73,284.65 L308.91,285.95 L307.94,286.44 L306.8,288.26 L305.59,288.77 L304.07,290.75 L302.49,290.75 L300.85,290.87 L298.65,290.43 L297.16,291.04 L295.1,289.77 L293.23,289.71 L291.95,289.49 L291.26,289.93 L289.69,288.15 L286.5,288.39 L285.16,287.42 L283.65,287.41 L282.47,286.58 L281.4,285.66 L280.23,283.85 L279.27,283.63 L279.05,281.59 L277.95,280.35 L277.57,278.73 L277,277.18 L277.45,275.6 L276.57,274.08 L276.53,272.75 L275.61,271.32 L276.04,269.15 L276.09,267.17 L276.63,265.77 L275.47,263.83 L276.42,262.09 L275.35,260.73 L276.05,259.43 L275.86,257.94 L276.61,256.57 L276.73,254.89 L277.63,253.16 L277.35,251.44 L278.56,249.97 L278.9,249.16 L280.25,248.31 L280.62,245.54 L282.17,244.44 L283.41,242.78 L284.75,242.09 L285.83,240.55 L287.39,239.64 L288.67,238.95 L290.96,239.71 L292.58,240.5 L294.28,242.01 L296.34,242.07 L297.56,243.61" fill="none" stroke="#D95319" stroke-width="0.95" stroke-linejoin="round"/>
<path d="M322.93,264.97 L322.32,263.38 L322.3,260.66 L321.01,259.4 L320.95,257.91 L319.19,258.2 L319.26,256.58 L317.55,256.49 L316.43,254.48 L314.85,253.52 L313.8,252.42 L312.44,252.65 L310.68,251.32 L308.93,252.15 L307.97,251.29 L306.52,252.24 L305.46,251.65 L303.92,252.42 L302.66,253.65 L301.54,254.37 L299.63,254.82 L298.04,256.86 L296.81,257.49 L295.66,259.54 L294.4,261.55 L295.27,263.27 L293.94,264.98 L293.85,266.77 L292.25,268.22 L292.89,269.52 L291.37,270.22 L291.97,272.44 L291.32,273.07 L292.15,274.01 L292.15,276.47 L293.16,276.99 L293.89,278.87 L295.86,280.41 L296.54,281.4 L298.65,281.86 L298.18,283.88 L300.09,285.37 L301.45,286.98 L303.05,288.22 L304.08,289.94 L304.95,290.26 L305.73,292.02 L307.19,292.34 L308.69,293.39 L310.26,292.7 L311.5,292.18 L312.39,290.9 L313.99,290.91 L314.98,290.21 L316.23,290.14 L316.81,288.74 L317.49,287.6 L318.42,286.03 L319.84,284.57 L320.21,282.47 L321.88,281.47 L321.7,279.51 L322.29,278.32 L322.53,276.1 L323.37,274.2 L323.78,271.84 L324.49,269.77 L323.89,268.73 L324.48,266.63 L323.28,265.76 L322.98,264.55 L322.7,262.41 L323.57,260.72 L322.63,258.92 L322.62,257.36 L321.25,257.06 L321.17,255.25 L319.24,255.02 L318.26,254.16 L316.96,253.64 L315.29,251.72 L313.61,251.15 L311.51,249.92 L310.02,249.65 L307.88,248.5 L305.7,249.78 L304.1,250.86 L302.53,252.53 L300.81,252.9 L300.4,253.73 L298.24,254.88 L297.87,257.17 L296.57,257.79 L296.39,259.24 L295.27,260.47 L294.43,262.94 L293.66,264.25 L293.63,265.73 L292.04,266.9 L292.42,267.82 L291.87,268.35 L292.05,269.46 L291.41,270.4 L292.73,272.22 L293.03,274.37 L294.03,275.8 L294.19,277.24 L295.6,277.99 L295.49,279.73 L297.53,281.06 L297.5,283.23 L299.66,285 L299.99,286.92 L301.19,287.82 L301.71,289.88 L302.95,290.08 L303.27,291.32 L304.83,291.61 L305.65,292.81 L306.73,292.15 L308.56,292.58 L309.5,292.71 L311.07,293.31 L311.52,291.82 L313.25,291.29 L314.44,290.02 L315.89,289.1 L316.57,287.2 L318.18,286.86 L318.65,284.78 L321.2,284.29 L321.26,282.83 L322.51,280.88 L322.43,278.53 L323.22,277.15" fill="none" stroke="#EDB120" stroke-width="0.95" stroke-linejoin="round"/>
<path d="M314.75,254.42 L313.07,254.66 L312.35,253.68 L309.58,253.77 L308.43,252.73 L307.47,253.46 L305.68,253.56 L305.13,255.52 L303.6,256.71 L302.84,258.4 L300.68,258.65 L300.93,260.25 L299.75,261.28 L298.93,263.04 L297.42,263.7 L296.1,265.43 L295.38,266.19 L295.26,267.53 L295.41,269.29 L296.23,270.66 L294.8,272.68 L295.53,274.7 L295.34,277.01 L296.91,277.95 L296.58,279.71 L297.46,280.78 L297.29,282.56 L299.04,283.64 L299.52,285.93 L301.51,286.54 L301.14,288.56 L302.29,289.62 L302.77,290.5 L304.77,290.37 L306.21,291.58 L308.1,290.54 L309.25,291.57 L311.99,291.5 L313.82,292.34 L315.17,291.36 L316.31,290.9 L316.05,288.65 L317.78,287.97 L318.19,286.17 L319.93,285.34 L319.48,283.68 L321.17,282.43 L321.07,280.89 L322.58,280.1 L322.03,278.42 L323.22,277.39 L322.2,275.46 L322.88,274.31 L322.15,273.14 L322.72,271.19 L322.41,269.53 L322.15,267.94 L320.79,266.98 L321.37,264.5 L320.24,263.45 L319.95,261.56 L319.47,260.79 L318.03,258.99 L317.35,257.76 L315.68,255.93 L314.74,254.85 L313.79,253.28 L312.34,253.79 L310.89,253.31 L309.05,252.85 L307.68,252.86 L306.59,254.53 L304.59,255.17 L302.75,255.91 L301.11,255.54 L300.51,257.08 L299,257.68 L298.47,259.68 L296.73,260.64 L296.96,261.96 L295.61,262.75 L295.66,264.88 L294.91,265.91 L296.02,267.46 L295.33,269.55 L296.15,271.93 L295.87,272.85 L295.69,274.08 L295.47,276.13 L296.49,278.25 L295.64,279.69 L297.87,282.39 L297.73,284.23 L298.82,286.35 L299.97,287.06 L301.49,287.59 L302.34,288.94 L303.82,289.45 L305.04,290.79 L307.15,290.85 L308.62,292.37 L310.45,291.93 L311.64,292.33 L312.36,291.39 L314.37,292.02 L315.93,290.1 L317.41,289.74 L317.83,287.66 L318.85,286.77 L320.55,285.5 L322.35,284.78 L321.99,283.04 L323.39,282.11 L323.39,281.17 L324.19,279.85 L323.58,277.75 L325.38,276.93 L325.05,274.63 L326.1,272.87 L324.38,271.39 L324.91,269.66 L324.99,268.57 L325.25,266.95 L324.55,265.32 L324.66,264.17 L323.18,262.63 L324.13,260.73" fill="none" stroke="#7E2F8E" stroke-width="0.95" stroke-linejoin="round"/>
<path d="M309.14,255 L308.55,256.1 L306.93,257.06 L306.66,258.82 L305.21,259.98 L304.98,261.4 L303.66,262.08 L303.42,263.84 L301.72,265.03 L302.37,266.31 L300.84,267.32 L301.29,268.48 L300.33,269.09 L301.38,270.99 L300.59,272.55 L302.11,274.18 L300.51,275.85 L301.23,277.58 L301.02,278.59 L302.16,280.45 L303,282.32 L305.19,284.07 L305.91,286.57 L306.52,287.6 L308.29,288.77 L310.36,288.47 L311.53,289.72 L312.85,288.91 L313.46,289.84 L315.86,290.37 L317.45,290.9 L318.96,289.24 L320.48,288.66 L320.85,286.98 L321.83,285.63 L322.56,283.82 L324.38,282.79 L324.59,281.18 L325.57,280.46 L324.88,278.81 L326.05,277.74 L325.77,276.3 L326.5,274.64 L326.08,272.99 L325.82,270.62 L325.55,269.59 L325.22,268.18 L324.24,266.75 L324.69,265.23 L323.65,262.92 L323.37,261.22 L322.6,259.7 L322.29,258.03 L321.52,256.46 L321.07,254.94 L319.35,253.39 L318.01,252.34 L316.06,251.44 L315.04,250.31 L313.77,250.9 L312.59,250.57 L311.04,251.02 L310.01,251.46 L309.02,252.55 L307.7,253.81 L306.54,255.16 L304.67,255.9 L304.45,257.68 L302.63,258.62 L302.69,260.71 L301.65,262.68 L301.62,263.76 L300.93,265.23 L300.62,267.93 L299.12,269.52 L299.32,271.39 L298.45,272.48 L299.77,274.35 L300.33,276.27 L301.53,277.89 L302.34,279.55 L303.57,279.71 L302.88,281.56 L304.71,282.35 L304.66,283.82 L305.82,284.87 L305.74,287.11 L307.03,288.84 L308.69,289.41 L310.48,288.84 L312.56,289.77 L314.19,289.75 L315.72,290.13 L317.1,290.59 L317.81,291.5 L319.56,290.19 L321.87,290.16 L323.11,288.09 L324.2,286.82 L324.67,284.87 L325.97,283.13 L325.45,281.41 L325.23,279.88 L325.07,278.13 L325.47,276.28 L325.24,274.4 L326.05,272.94 L324.62,271.17 L325.48,269.9 L325.16,268.2 L325.86,267.26 L324.11,265.41 L325.03,263.89 L323.86,263.13 L325.02,261.25 L324,259.99 L324.08,258.59 L322.43,257.66 L321.2,255.47 L319.45,255.89 L318.62,254.03 L316.98,253.64" fill="none" stroke="#77AC30" stroke-width="0.95" stroke-linejoin="round"/>
</svg>
<path d="M249.5,225.8 H342.4" stroke="#8c8c8c" stroke-width="1.4"/>
<path d="M249.5,225.2 V307.1 H342.4 V225.2" fill="none" stroke="#555" stroke-width="1.25"/>
<text x="247.3" y="228.4" font-size="6.9" text-anchor="end" fill="#333" font-family='"Liberation Sans", sans-serif'>2.4</text>
<path d="M249.5,242.06 h1.6" stroke="#555" stroke-width="0.7"/>
<text x="247.3" y="244.66" font-size="6.9" text-anchor="end" fill="#333" font-family='"Liberation Sans", sans-serif'>1.6</text>
<path d="M249.5,258.32 h1.6" stroke="#555" stroke-width="0.7"/>
<text x="247.3" y="260.92" font-size="6.9" text-anchor="end" fill="#333" font-family='"Liberation Sans", sans-serif'>0.8</text>
<path d="M249.5,274.58 h1.6" stroke="#555" stroke-width="0.7"/>
<text x="247.3" y="277.18" font-size="6.9" text-anchor="end" fill="#333" font-family='"Liberation Sans", sans-serif'>0</text>
<path d="M249.5,290.84 h1.6" stroke="#555" stroke-width="0.7"/>
<text x="247.3" y="293.44" font-size="6.9" text-anchor="end" fill="#333" font-family='"Liberation Sans", sans-serif'>-0.8</text>
<text x="247.3" y="309.7" font-size="6.9" text-anchor="end" fill="#333" font-family='"Liberation Sans", sans-serif'>-1.6</text>
<text x="249.5" y="315.4" font-size="6.9" text-anchor="middle" fill="#333" font-family='"Liberation Sans", sans-serif'>0</text>
<path d="M272.73,307.1 v-1.6" stroke="#555" stroke-width="0.7"/>
<text x="272.73" y="315.4" font-size="6.9" text-anchor="middle" fill="#333" font-family='"Liberation Sans", sans-serif'>0.2</text>
<path d="M295.95,307.1 v-1.6" stroke="#555" stroke-width="0.7"/>
<text x="295.95" y="315.4" font-size="6.9" text-anchor="middle" fill="#333" font-family='"Liberation Sans", sans-serif'>0.4</text>
<path d="M319.17,307.1 v-1.6" stroke="#555" stroke-width="0.7"/>
<text x="319.17" y="315.4" font-size="6.9" text-anchor="middle" fill="#333" font-family='"Liberation Sans", sans-serif'>0.6</text>
<text x="342.4" y="315.4" font-size="6.9" text-anchor="middle" fill="#333" font-family='"Liberation Sans", sans-serif'>0.8</text>
<text x="338.9" y="234.1" font-size="7.6" text-anchor="end" fill="#222" font-family='"Liberation Sans", sans-serif'>1 Hz</text>
</g>
<g>
<svg x="361.4" y="225.8" width="92.8" height="81.3" viewBox="361.4 225.8 92.8 81.3" overflow="hidden">
<path d="M374.91,276.68 L377.13,276.27 L377.25,277.21 L377.78,277.71 L377.83,279.86 L379.79,280.78 L380.22,282.44 L381.82,282.86 L382.77,281.95 L383.78,282.07 L385.96,282.24 L387.43,280.63 L389.45,280.41 L391.2,279.54 L392.08,280.72 L393.97,280.27 L395.95,281.34 L397.66,281.96 L399.55,282.38 L401.22,280.52 L403.16,280.11 L402.95,278.34 L403.99,276.58 L401.56,275.85 L401.92,272.74 L400.51,269.75 L401.62,268.58 L400.82,267.27 L401.37,266.3 L400.61,265.19 L402.96,263.76 L401.5,262.23 L402.68,259.57 L400.71,258.82 L400.59,256.78 L400.38,255.19 L400.43,253.46 L399.26,252.8 L399.07,251.57 L396.06,251.13 L394.5,249.55 L391.95,248.15 L391.05,247.41 L389.3,247.6 L389.04,245.36 L385.83,245.78 L383.46,246.12 L384.19,247.45 L383.74,248.76 L384.26,251.43 L383.84,252.02 L382.77,253.76 L380.15,254.82 L379.95,257.21 L378.03,257.02 L379.12,258.44 L377.89,258.68 L379.43,260.03 L378.24,261.26 L377.77,262.19 L376.37,264.34 L376.28,264.45 L375.03,266.07 L376.08,266.88 L375.21,269.49 L376.91,270.21 L376.98,271.77 L377.34,273.74 L377.01,275.24 L379.48,276.84 L380.64,279.21 L382.86,278.83 L383.51,281.08 L384.84,280.98 L386.36,283.26 L388.98,284.12 L389.97,286.43 L391.86,284.86 L394.57,284.98 L394.91,284.17 L396.47,284.21 L396.94,282.8 L398.21,283.25 L398.1,283.21 L399.74,282.8 L400.17,280.9 L401.6,278.41 L401.08,276.53 L402.29,275.04 L400.17,272.27 L400.51,271.48 L400.71,269.91 L401.57,267.59 L401.18,265.56 L402.45,264.88 L402.65,262.61 L403.16,261.4 L401.89,260.03 L404.07,258.27 L402.49,256.96 L401.93,255.68 L400.68,255.37 L399.88,254.1 L396.72,252.52 L397.32,251.57 L395.45,250.6 L393.8,250.15 L390.84,248.91 L390.78,247.58 L389.94,246.6 L390.31,244.97 L388,246.2 L387.16,246.22 L386.7,247.14 L383.93,248.55 L385.09,251.88 L383.59,252.37 L383.05,254.22 L381.34,255.39 L380.31,257.4 L379.16,258.67 L378.64,260.12 L377.35,261.13 L377.64,262.68 L376.48,263.73 L375.08,265.9 L373.09,267.52 L373.3,269.33 L372.6,270.83 L372.89,271.27 L373.3,272.12 L375.6,273.48" fill="none" stroke="#0072BD" stroke-width="0.9" stroke-linejoin="round"/>
<path d="M382.94,259.28 L383.56,261.32 L381.59,262.75 L382.1,264.03 L379.73,264.91 L381.7,267.07 L380.66,268.06 L381.3,268.86 L379.95,270.62 L382.35,272.57 L382.1,274.42 L383.82,276.25 L384.14,279.23 L386.32,280.13 L387.67,282.05 L389.35,284.03 L387.77,284.79 L388.19,285.59 L389.56,286.96 L391.37,287.11 L391.23,288.37 L392.73,288.4 L393.14,290.68 L394.75,289.67 L395.31,290.91 L396.07,290.63 L397.85,289.57 L398.24,288.29 L400.37,288.38 L401.98,286.77 L403.89,287.57 L406.24,287.89 L408.88,289.73 L410.05,288.13 L410.81,288.82 L412.69,286.65 L413.06,286.12 L413.73,284.78 L416.42,283.55 L415.15,281.69 L414.48,279.57 L413.71,279.68 L415.58,277.89 L414.12,276.67 L412.89,275.24 L412.05,273.74 L412.2,270.85 L411.98,269.76 L411,267.81 L410.24,267.16 L410.47,265.46 L410.28,264.05 L410.31,261.97 L409.33,259.91 L410.07,257.34 L408.9,256.82 L409.44,255.11 L407.78,254.28 L407.93,253.07 L405.82,253.95 L406.9,251.59 L405.09,251.53 L404.15,250.44 L402.1,250.02 L400.63,250.2 L399.66,250.93 L397.68,249.54 L395.35,249.68 L392.55,249.15 L391.64,251.03 L388.9,250.53 L389.01,252.06 L387.97,252.07 L387.71,253.81 L385.4,253.59 L385.92,255.99 L384.01,256.6 L382.95,259.63 L381.64,259.98 L382.13,259.88 L381.66,261.52 L382.33,263.86 L380.76,264.42 L381.33,266.09 L380.59,267.54 L380.99,269.35 L379.1,272.41 L380.51,273 L380.43,275.36 L381.83,277.98 L380.61,280.75 L382.09,282.25 L383.19,283.33 L383.83,283.52 L383.41,283.69 L385.06,284.58 L385.65,286.29 L389.58,287.1 L390.21,288.38 L392.25,287.93 L393.87,289.48 L395.77,288.45 L397.28,287.94 L397.69,286.85 L398.7,288.12 L400.37,287.79 L402.91,289.74 L405.33,288.27 L407.65,290.66 L408.93,288.58 L411.38,287.75 L410.65,285.07 L411.81,283.74 L412.34,282.67 L414.88,281.92 L414,280.2 L414.72,278.44 L413.35,277.09 L414.06,275.7 L413.74,272.58 L414.28,270.63 L413.16,268.03 L414.31,268.43 L412.57,266.86 L413.61,265.16 L411.55,264.62 L410.21,262.41 L408.62,261.28 L408.86,259.38 L408.62,258.95 L408.53,258.29 L406.56,257.54 L407.91,255.05 L406.21,253.52 L405.44,251.95 L404.17,250.28 L404.93,247.93 L402,246.66 L401.74,245.7 L400.16,248.42 L398.89,245.9 L396.73,248.92 L394.57,248.46 L393.14,249.35 L391.08,250.03 L391.37,252.41 L390,252.27 L388.77,254.04 L385.46,254.64 L385.16,256.95 L382.42,256.32 L381.35,257.03 L378.97,257.48 L379.24,259.04 L378.01,261.41 L379.48,263.31 L377.22,265.59 L378.07,267.84 L376.99,268.99 L379.1,270.51 L378.2,270.72 L380.59,272.8 L379.79,274.03 L380.9,274.11 L380.5,275.47 L382.14,276.95 L383.44,278.86 L384.51,280.52 L384.15,282.09" fill="none" stroke="#D95319" stroke-width="0.9" stroke-linejoin="round"/>
<path d="M414.32,240.79 L411.58,240.29 L410.69,238.89 L408.36,238.85 L407.2,239.35 L406.3,239.72 L404.2,238.34 L402.65,237.9 L403.36,236.3 L400.39,235.8 L398.42,234.65 L397.51,235.3 L394.74,235.22 L395.76,236.62 L393.89,237.86 L394.92,239.84 L393.84,241.33 L394,243.02 L393.08,243.75 L393.55,245.48 L393,247.22 L393.07,248.24 L392.12,249.64 L392.36,251.11 L390.19,252.78 L390.38,255.05 L389.97,257.45 L391.35,258.72 L388.33,259.96 L388.33,261.04 L386.95,261.28 L387.96,264.21 L387.94,266.18 L389.72,267.91 L387.94,270.18 L387.33,272.78 L386.47,273.32 L388.92,274.13 L389.53,275.17 L390.28,276.68 L389.59,277.78 L391.47,278.8 L392.08,279.57 L393.42,279.96 L394.3,282.35 L395.82,281.91 L397.88,282.79 L399.77,281.27 L402.05,283.07 L402.55,282.53 L405.45,284.29 L406.19,282.62 L406.61,284.55 L408.05,285 L409,286.91 L409.43,284.22 L410.78,283.51 L410.91,282.42 L412.58,281.1 L412.87,279.92 L414.16,278.04 L413.77,275.96 L414.71,275.04 L414.66,273.8 L415.41,271.99 L416.07,270.75 L418.42,268.83 L417.03,267.47 L419.6,265.06 L418.05,263.8 L418.76,262.89 L417.24,261.62 L417.71,259.94 L417.27,258.39 L417.51,257.06 L416.21,255.74 L415.85,254.7 L414.14,253.01 L414.78,251.04 L412.69,249.71 L413.38,248.2 L412.01,246.44 L413.16,243.63 L411.24,243.44 L411.31,241.72 L409.1,243.82 L410.41,242.05 L408.52,240.93 L408.54,237.8 L407.74,237.86 L405.99,238.37 L404.9,238.81 L403.52,240.53 L402.65,243.23 L399.45,242.06 L398.75,244.67 L395.94,244.59 L394.55,246.18 L392.89,247.05 L391.96,248.26 L390.66,249.78 L390.6,251.7 L388.68,253.35 L387.2,253.63 L385.41,255.03 L387.36,257.22 L386.81,258.73 L387.69,259.47 L387.48,260.52 L389.74,262.16 L388.58,263.8 L389.77,265.48 L390.24,266.69 L391.35,269.15 L391.43,270.95 L392.61,271.81 L391.19,273.53 L392.36,276.04 L391.06,277.71 L392.41,279.64 L391.12,281.79 L393.94,281.2 L395.8,281.77 L396.76,281.28 L398.12,280.67 L399.29,281.54 L398.95,282.87 L400.23,283.9 L400.56,285.35 L401.62,286.62 L402.97,289.06 L405.65,288.8 L405.44,290.06 L406.96,289.91 L407.58,291.92 L408.42,293.11 L410.67,291.78 L409.14,289.46 L411.04,288.47 L409.57,286.85 L411.26,285.76 L409.57,283.35 L410.36,281.04 L410.95,278.9 L412.35,278.06 L413.13,276.88 L415.16,277.15 L414.57,276.45 L417.47,275.03 L416.83,273.8 L418.66,272.1 L416.58,272.06 L416.98,268.6 L416.11,267.74 L418.39,267.46 L420.04,265.37 L420.81,263.41 L421.48,261.34 L421.51,258.65 L420.48,256.85 L421.24,254.45 L418.86,253.67 L418.85,252.26 L417.11,251.03 L417.73,248.93 L415.94,248.21 L416.28,246.28 L415.07,245.52 L415.36,243.92 L414.08,242.7 L414.12,240.52" fill="none" stroke="#EDB120" stroke-width="0.9" stroke-linejoin="round"/>
<path d="M434.59,262.71 L434.81,260.44 L436.58,258.72 L435.75,257.29 L436.84,255.38 L436.14,254.63 L434.42,253.48 L431.78,254.57 L430.43,253.57 L429.02,254.95 L428.42,253.32 L425.08,253.75 L424.84,252.56 L423.73,251.86 L422.37,251.32 L420.38,250.08 L417.22,250.44 L415.81,250.81 L414.39,250.49 L412.58,252.92 L410.97,253.85 L411.22,255.16 L410.99,255.53 L409.52,257.83 L407.18,256.97 L406.5,257.84 L403.64,257.7 L403.09,259.22 L402.26,259.45 L402.85,260.56 L401.6,260.83 L402.07,262.67 L400.66,264.16 L400.48,266.39 L399,268.23 L399.94,269.25 L398.93,270.33 L400.35,271.51 L400.59,272.48 L402.43,273.59 L403.35,275.87 L405.35,276.3 L404.87,279.14 L406.05,281.08 L405.21,283.07 L407.64,284.09 L408.13,285.17 L409.34,284.65 L409.47,287.4 L411.96,288.84 L413.03,291.08 L414.27,289.55 L414.75,291.12 L415.4,290.44 L417.65,291.94 L418.92,290.49 L420.98,290.4 L421.07,288.46 L420.85,286.11 L420.02,283.9 L421.05,282.28 L422.07,280.98 L423.61,281.23 L424.46,279.4 L425.66,278.55 L427.25,276.41 L428.52,275.17 L428.51,273.82 L429.65,273.49 L431.13,273.5 L432.76,272.87 L433.87,272.37 L435.93,272.03 L436.05,270.18 L437.12,268.42 L436.44,266.36 L437.37,263.94 L435.31,262.71 L435.03,260.59 L432.09,261.81 L430.7,260.31 L428.46,260.2 L427.96,258.91 L425.94,257.99 L427.39,256.36 L425.6,255.27 L426.69,253.27 L425.15,252.47 L424.73,250.85 L423.96,250.69 L422.19,249.46 L420.45,249.58 L418.07,249.2 L416.8,251.32 L415.16,250.51 L414.15,251.67 L413.11,250.9 L411.56,252.45 L410.49,253.13 L409.33,254.6 L407.98,254.48 L406.43,255.94 L403.93,256.03 L404.11,258.21 L401.62,260.01 L402.08,261.1 L400.64,261.63 L402.4,262.97 L401.71,264.82 L403.4,266.59 L401.46,268.34 L402.77,269.84 L401.25,270.09 L402.86,271.37 L402.42,273.42 L403.69,275.45 L402.41,277.22 L402.65,278.52 L401.78,281.58 L402.82,283.63 L401.45,286.51 L402.3,287.76 L402.15,288.65 L402.87,288.87 L402.56,290.47 L405.79,290.35 L407.62,292.19 L408.43,292.65 L410.66,293.57 L411.4,291.39 L413.79,292.56 L415.33,290.23 L417.39,290.26 L418.77,288.55 L420.49,289.83 L420.47,288.74 L421.98,288.56 L424.25,286.77 L426,286.32 L426.54,283.83 L427.41,283.63 L427.95,282.54 L428.1,282.98 L429.58,281.86 L430.37,282.2 L430.78,279.66 L432.49,280.9 L433.11,278.62 L435.58,277.01 L435.8,276.33 L438.24,275.38 L437.08,273.74 L437.19,271.53 L435.55,270.65 L435.33,268.37 L433.47,268.89 L433.17,267.94 L431.08,266.49 L431.74,264.23 L429.71,261.75 L431.24,260.04 L431.07,258.33 L431.84,256.35 L430.24,255.5 L430.75,253.97 L429.69,253.35 L429,252.18 L427.4,252.68 L426.29,252.19 L424.89,252.6 L423.83,251.11 L421.04,252.43 L419.79,249.87 L417.49,250.63 L416.63,249.67 L414.43,249.83" fill="none" stroke="#7E2F8E" stroke-width="0.9" stroke-linejoin="round"/>
<path d="M444.98,269.74 L443.49,268.44 L443.9,265.87 L443.63,265.3 L444.63,263.1 L444.76,260.05 L444.97,257.86 L443.05,257.49 L442.65,256.14 L440.62,257.12 L440.75,255.6 L438.7,255.48 L437.67,253.8 L435.91,253.18 L435.54,250.76 L433.26,250.49 L432.05,249.71 L430.27,248.85 L429.45,247.15 L428.31,247.54 L427.89,245.72 L426.04,244.99 L425.44,243.28 L422.64,243.81 L421.4,243.07 L420.71,245.32 L418.93,246.08 L418.7,248.84 L416.55,248.92 L415.23,249.07 L413.28,249.27 L412.87,251.25 L411.57,252.48 L412.37,252.96 L410.04,254.47 L411.24,256.82 L410.41,258.48 L410.16,260.58 L409.27,261.69 L409.11,263.04 L409.14,264.79 L410.74,266.12 L409.44,267.39 L410.16,269.34 L409.62,270.82 L409.45,271.96 L409.23,273.74 L411.02,274.36 L410.84,275.92 L412.48,276.61 L413.02,278.62 L414.13,278.8 L412.95,280.31 L415.13,282.21 L415.4,283.32 L416.93,285.18 L417.11,287.57 L417.79,288.53 L417.25,290.94 L417.22,292.63 L418.02,293.89 L420.48,294.05 L420.83,296.93 L421.81,298.34 L422.79,299.42 L424.42,299.18 L426.17,299.44 L426.88,296.86 L428.88,296.32 L428.49,294.57 L429.89,292.69 L430.58,290.9 L432.4,290.77 L435.28,289.64 L435.82,291.4 L437.69,289.6 L439.72,288.62 L439.58,287.35 L441.1,285.99 L440.24,283.75 L441.5,282.75 L439.84,281.16 L441.48,280.97 L442.74,280.31 L444.94,279.02 L443.68,276.55 L444.2,275.89 L444.35,275.06 L445.52,273.89 L443.36,272.98 L444.76,270.29 L442.7,269.31 L444.95,267.64 L443.65,267.37 L443.21,264.08 L440.65,262.26 L442.18,259.88 L439.99,258.67 L439.65,256.61 L438.36,255.98 L438.12,253.12 L436.92,252.26 L436.69,250.28 L434.46,250.8 L434.26,249.27 L431.79,250.04 L430.64,248.92 L428.75,251.11 L426.97,250.3 L425.81,249.88 L424.95,248.76 L423.22,248 L422.15,248.19 L421.8,249.87 L419.73,250.48 L420.88,251.52 L418.64,252.5 L418.41,254.06 L417.02,255.78 L415.73,256.73 L413.51,256.44 L412.81,259.65 L412.15,259.73 L413.14,261.44 L411.31,263.1 L411.47,264.33 L409.62,265.98 L409.96,267.98 L410.44,269.69 L411.82,271.32 L411.33,273.06 L413.63,274.92 L412.51,277.25 L413.93,278.47 L412.53,278.93 L412.18,280.88 L411.27,283.12 L413.64,284.33 L413.17,285.05 L413.95,286.22 L415.08,287.79 L416.98,287.81 L417.47,290.58 L419.56,291.54 L418.38,292.59 L420.15,293.53 L421.33,295.56 L422.47,293.6 L424.7,294.44 L426.23,291.64 L428.52,292.6 L429.36,291.24 L430.14,292.09 L431.68,291.28 L434.16,291.24 L434.41,289.55 L436.02,288.12 L437.08,286.21 L439.67,285.79 L441.17,284.63 L442.31,285.14 L441.65,283.09 L441.8,281.27 L442.63,279.71 L440.9,279.21 L440.68,277.18 L441.07,275.76 L439.85,275.21 L441.23,274.33 L440.41,272.28 L442.6,270.75 L441.54,269.08" fill="none" stroke="#77AC30" stroke-width="0.9" stroke-linejoin="round"/>
</svg>
<path d="M361.4,225.8 H454.2" stroke="#8c8c8c" stroke-width="1.4"/>
<path d="M361.4,225.2 V307.1 H454.2 V225.2" fill="none" stroke="#555" stroke-width="1.25"/>
<text x="359.2" y="228.4" font-size="6.9" text-anchor="end" fill="#333" font-family='"Liberation Sans", sans-serif'>4.5</text>
<path d="M361.4,242.06 h1.6" stroke="#555" stroke-width="0.7"/>
<text x="359.2" y="244.66" font-size="6.9" text-anchor="end" fill="#333" font-family='"Liberation Sans", sans-serif'>3</text>
<path d="M361.4,258.32 h1.6" stroke="#555" stroke-width="0.7"/>
<text x="359.2" y="260.92" font-size="6.9" text-anchor="end" fill="#333" font-family='"Liberation Sans", sans-serif'>1.5</text>
<path d="M361.4,274.58 h1.6" stroke="#555" stroke-width="0.7"/>
<text x="359.2" y="277.18" font-size="6.9" text-anchor="end" fill="#333" font-family='"Liberation Sans", sans-serif'>0</text>
<path d="M361.4,290.84 h1.6" stroke="#555" stroke-width="0.7"/>
<text x="359.2" y="293.44" font-size="6.9" text-anchor="end" fill="#333" font-family='"Liberation Sans", sans-serif'>-1.5</text>
<text x="359.2" y="309.7" font-size="6.9" text-anchor="end" fill="#333" font-family='"Liberation Sans", sans-serif'>-3</text>
<text x="361.4" y="315.4" font-size="6.9" text-anchor="middle" fill="#333" font-family='"Liberation Sans", sans-serif'>-0.06</text>
<path d="M384.6,307.1 v-1.6" stroke="#555" stroke-width="0.7"/>
<text x="384.6" y="315.4" font-size="6.9" text-anchor="middle" fill="#333" font-family='"Liberation Sans", sans-serif'>0</text>
<path d="M407.8,307.1 v-1.6" stroke="#555" stroke-width="0.7"/>
<text x="407.8" y="315.4" font-size="6.9" text-anchor="middle" fill="#333" font-family='"Liberation Sans", sans-serif'>0.06</text>
<path d="M431,307.1 v-1.6" stroke="#555" stroke-width="0.7"/>
<text x="431" y="315.4" font-size="6.9" text-anchor="middle" fill="#333" font-family='"Liberation Sans", sans-serif'>0.12</text>
<text x="454.2" y="315.4" font-size="6.9" text-anchor="middle" fill="#333" font-family='"Liberation Sans", sans-serif'>0.18</text>
<text x="450.7" y="234.1" font-size="7.6" text-anchor="end" fill="#222" font-family='"Liberation Sans", sans-serif'>5 Hz</text>
</g>
<g>
<svg x="473.3" y="225" width="93.2" height="82.1" viewBox="473.3 225 93.2 82.1" overflow="hidden">
<path d="M532.65,252.98 L531.7,254.95 L528.72,254.87 L529.62,257.6 L528.99,260.04 L529.35,262.04 L528,263.22 L528.26,265.14 L526.04,267.79 L528.64,268.93 L527.04,270.03 L527.9,270.85 L529.27,271.64 L530.91,272.37 L530.61,273.87 L532.46,274.56 L532.3,275.94 L533.88,276.55 L535.21,277.74 L537.21,277.97 L537.89,279.09 L539.74,277.76 L542.32,278.47 L542.39,276.39 L543.67,275.93 L544.54,274.38 L547.62,273.7 L547.09,272.51 L549.46,271.98 L549.68,269.64 L550.57,269.21 L549.97,267.68 L551.1,265.56 L548.93,264.13 L548.94,261.18 L546.44,259.2 L546,257.89 L543.98,255.97 L542.66,253.98 L540.32,253.08 L538.29,253.39" fill="none" stroke="#0072BD" stroke-width="0.9" stroke-linejoin="round"/>
<path d="M547.14,272.48 L547.77,274.55 L547.41,276.25 L546.83,278.47 L546.51,279.81 L547.93,280.13 L547.38,282.67 L548.99,282.98 L549.78,284.53 L551.43,283.46 L554.01,284.3 L555.46,283.14 L556.57,283.24 L557.07,281.38 L558.69,279.82 L558.04,278.71 L560.16,277.5 L560.83,275.11 L561.01,273.4 L559.41,271.92 L559.99,269.96 L558.96,267.95 L558.36,265.63 L556.67,265.02 L556.8,264.21 L555.36,263.88 L554.13,262.44 L553.21,262.91 L552.77,260.81 L551.24,261.63 L550.01,260.88 L548.74,262.74 L547.59,263.72 L548.4,265.38 L547.27,266.71 L549.01,267.16 L547.75,268.6 L548.92,270.23 L548.39,271.55 L548.63,273.46 L547.72,274.84 L548.01,276.84 L548.63,279.06 L549.37,280.67 L550.11,283.15 L551.06,283.71 L551.94,285.86 L553.07,285.75 L555.31,285.63 L556.25,283.24 L557.13,281.28 L557.11,279.07 L557.98,278.46 L558.08,276.55 L560.43,276.04 L561.12,274.16 L561.52,272.28 L560.62,271.28 L560.51,269.31 L559.8,268.01 L561.26,267.04 L559.9,266.81 L560.98,264.46 L558.69,263.21 L558.72,261.75 L556.72,260.73 L555.41,259.17 L552.89,259.58 L550.7,258.81 L549.94,260.61" fill="none" stroke="#0072BD" stroke-width="0.9" stroke-linejoin="round"/>
<path d="M536.05,266.04 L535.81,263.95 L537.62,263.03 L535.74,261.71 L535.69,260.07 L534.3,259.6 L533.1,257.93 L530.57,258.19 L529.27,256.01 L527.48,258.03 L526.82,256.73 L524.21,258.51 L523.01,257.71 L521.75,258.49 L521.37,257.28 L518.96,257.79 L516.56,256.36 L515.17,256.63 L512.94,256.14 L510.65,257.78 L508.47,257.64 L508.3,259.48 L506.95,261.57 L506.07,264.26 L504.74,265.19 L506,267.79 L502.97,270.27 L505.03,271.29 L502.29,271.84 L502.49,273.43 L502.65,274.85 L505.65,275.18 L505.08,277.75 L507.99,277.68 L508.29,279.28 L507.58,280.39 L506.88,280.99 L507.37,282.22 L508.83,284.78 L510.23,285.87 L511.15,287.77 L513.5,287.08 L514.88,289.32 L515.83,289.13 L518,289.64 L518.03,288.47 L521.56,289.49 L522.01,288.48 L523.26,287.98 L524.31,287.53 L526.17,287.39 L527.27,285 L528.08,287.22 L529.36,286.66 L530.61,287.23 L532.71,284.28 L534.53,284.85 L535.66,283.93 L537.72,283.02 L537.65,281.3 L539.67,279.32 L539.82,277.32 L540.55,273.94 L539.17,272.89 L538.95,271.09 L538.52,270.47 L538.2,269.62 L538.76,269.82 L539.73,267.65 L539.24,265.15 L540.04,264.08 L539.47,262.31 L540.52,260.97 L538.82,260.71 L539.47,259.07 L538.59,259.13 L537.29,257.74 L537.01,258.36 L534.75,257.61 L533.41,258.21 L530.97,256.85 L528.62,257.52 L526.99,257.04 L524.37,257.57 L523.28,255.1 L520.64,256.57 L518.62,255.03 L518.51,256.82 L515.52,256.71 L515.41,259.5 L512.66,260.08 L512.8,260.12 L510.66,259.54 L509.63,261.04 L506.78,261.03 L507.25,262.5 L506.21,263.81 L505.43,265.73 L503.53,265.49 L504.7,267.07 L502.86,268.2 L504.86,269.39 L503.96,271.29 L505.58,271.48 L506,273.86 L506.94,276.41 L506.74,278.73 L506.99,280.41 L505.94,283.19 L507.3,285.03 L505.81,287.42 L507.3,287.21 L507.87,289.67 L509.48,289.25 L510.77,290.37 L512.05,289.24 L514.13,289.01 L515.64,288.67 L516.99,290.08 L520.4,289.31 L519.9,290.78 L521.1,290.3 L522.42,292.47 L524.73,293.12 L525.28,294.02 L527.44,294.4 L529.15,294.57 L529.04,293.85 L531.26,292.8 L530.96,291.1 L532.55,290.97 L531.66,288.96 L533.17,287.5 L532.79,285.37 L534.24,285.46 L535.74,284.12 L538.45,285.49 L539.72,284 L541.9,284.53 L542.35,283.29 L545.02,283.04 L544.4,280.1 L546.29,278.65 L543.14,275.96 L543.04,273.19 L541.29,273.22 L539.72,271.53 L538.9,271.31 L537.93,268.85 L537.29,267.46 L538.35,266.88 L536.39,266.65" fill="none" stroke="#D95319" stroke-width="0.9" stroke-linejoin="round"/>
<path d="M507.78,279.64 L506.89,277.97 L507.08,277.39 L507.28,274.3 L507.35,272.29 L507.13,271.19 L508.62,270.54 L507.33,268.5 L508.67,266.57 L507.46,264.87 L509.67,264.52 L507.81,263.47 L510.68,263.64 L510.38,261.44 L512,260.07 L512.32,256.84 L513.23,255.5 L511.81,253.03 L513.9,251.84 L512.9,251.07 L514.37,249.15 L513.45,246.86 L515.08,245.53 L515.38,243.36 L517.36,241.97 L518.67,239.99 L521.19,240.39 L521.95,238.79 L523.47,239.37 L524.93,238.65 L525.46,239.78 L527.6,238.25 L528.03,240.26 L529.78,240.98 L530.59,243.26 L532.65,243.83 L531.94,245.65 L532.25,246.75 L531.27,247.98 L532.25,249.07 L531.73,251.57 L532.7,252.95 L531.92,253.34 L533.43,255.35 L533.23,257.18 L533.24,259.17 L531.57,260.94 L531.39,263.22 L531.05,264.19 L533.13,264.11 L531.7,266.54 L533.38,269.25 L532.79,271.07 L534.31,272.42 L533.8,273.75 L533.6,276.16 L532.41,276.95 L533.04,277.88 L531.77,279.45 L531.29,280.56 L529.34,281.8 L529.66,283.19 L527.21,283.98 L525.16,286.41 L523.39,286.17 L521.03,286.92 L518.53,286.4 L516.83,287.04 L515.92,285.25 L514.64,286.95 L513.27,284.6 L512.64,284.74 L511.38,282.78 L509.11,283.29" fill="none" stroke="#EDB120" stroke-width="0.9" stroke-linejoin="round"/>
<path d="M529.99,261.73 L526.5,260.95 L525.9,258.36 L524.07,259.55 L523.48,259.18 L521.7,259.6 L519.24,259.7 L520,261.82 L517.95,262.24 L517.46,264.6 L516.02,265.37 L516.22,267.25 L515.24,266.68 L514.88,268.51 L512.69,268.03 L511.78,269.65 L509.83,270.15 L509.67,272.55 L507.98,272.52 L508.12,274.4 L507.48,274.64 L508.89,277.26 L508.02,279.51 L509.39,282.02 L507.12,284.53 L508.83,284.55 L508.69,286.7 L511.55,286.76 L512.22,288.86 L514.34,286.77 L516.29,287.14 L518.42,285.9 L519.96,285.54 L519.19,284.59 L521.48,284.59 L523.01,283.99 L523.95,285.52 L526.15,284.6 L529.01,285.41 L530.18,284.31 L532.33,284.81 L533.54,283.14 L534.53,284.05 L534.3,284.13 L535.31,283.74 L534.66,282.59 L535.86,281.13 L535.28,279.43 L535.38,277.27 L534.15,275.84 L533.69,274.02 L531.77,273.03 L532.75,270.48 L530.37,268.63 L530.43,266.41 L528.67,266.66 L527.01,265.48 L525.28,263.78 L523.79,262.66 L522.88,264.37 L521.64,263.34 L521.61,263.78 L520.23,263.09 L519.1,264.72 L515.95,264.85" fill="none" stroke="#EDB120" stroke-width="0.9" stroke-linejoin="round"/>
<path d="M511.43,256.05 L508.75,257.82 L507.27,257.55 L507.85,260.02 L506.83,261.55 L508.09,262.23 L507.84,262.69 L509.58,264.1 L508.23,266.6 L508.76,268.33 L506.58,266.9 L505.54,267.72 L504.53,266.56 L505.58,268.51 L504.65,269.24 L506.11,270.89 L505.95,272.6 L508.78,274.34 L508.79,276.6 L508.52,279.83 L507.72,281.18 L508.96,281.43 L508.99,283.84 L510.14,282.96 L511.65,285.95 L513.2,284.02 L515.31,284.6 L516.8,284.41 L517.98,284.06 L518.94,285.25 L518.34,288.04 L520.27,288.57 L520.46,290.07 L523,291.99 L523.35,293.75 L523.95,293.11 L524.49,294.41 L526.26,293.26 L529.15,294.42 L529.91,292.03 L531,291 L531.3,289.11 L533.77,287 L533.09,285.11 L532.85,283.09 L532.98,281.46 L535.48,280.38 L535.69,279.25 L537.4,277.33 L536.01,276.8 L536,274.81 L533.79,274.36 L535.51,272.28 L535.58,270.74 L538.57,270.55 L538,268.84 L539.47,267.8 L538.17,266.41 L537.48,263.82 L536.59,263.07 L535.65,262.11 L533.6,262.42 L533.57,261.25 L531.74,261.88 L532.06,259.93 L529.23,259.46 L528.87,256.91 L526.78,257.24 L526.63,255.41 L525.15,256.47 L523.24,254.98 L522.02,255.85 L520.56,254.28 L520.04,255.72 L517.72,256.76 L517.75,257.6 L516.86,257.57 L515.87,260.41 L514.47,259.55 L512.48,259.98 L509.68,258.89 L509.33,260.19 L507.83,261.25 L509.06,262.14 L507.57,263.94 L508.14,265.91 L506.32,267.89 L506.61,269.49 L504.65,271.54 L506.01,272.93 L504.61,274.53 L506.13,276.41 L505.63,278.36 L506.82,279.62 L508.11,280.79 L509.81,280.44 L511.95,282.24 L512.99,282.27 L515.06,283.05 L516.95,283.61 L517.17,285.91 L519.04,287.26 L519.29,287.94 L519.41,287.8 L519.4,288.44 L521.63,287.49 L524.61,288.92 L525.45,286.79 L527.35,288.15 L526.31,287.01 L528.31,284.98 L526.87,282.56 L527.82,281.33 L529.21,281.44 L529.96,282.34 L531.2,282.33 L532.35,283.01 L534.9,282.55 L537.83,283.61 L538.77,281.83 L539.57,281.03" fill="none" stroke="#7E2F8E" stroke-width="0.9" stroke-linejoin="round"/>
<path d="M530.98,263.67 L528.9,263.12 L527.5,262.27 L525.68,262.47 L525.15,261.3 L523.24,260.52 L521.07,259.88 L519.51,261.51 L517.79,262.34 L516.82,262.9 L516.09,263.86 L514.79,265.39 L514.82,265.77 L516.72,267.18 L515.19,268.94 L516.44,270.92 L516.13,273.56 L517.91,273.46 L519.46,273.76 L520.85,273.26 L522.62,274.6 L523.75,274.64 L525.17,274.35 L524.88,271.66 L524.85,270.99 L525.22,269.92 L527.56,268.46 L528.28,266.89 L528.67,265.96 L528.53,265.11 L529.15,263.71 L526.34,263.73 L525.35,261.31 L525.73,262.48 L524.34,261.48 L522.93,261.63 L521,260.82 L519.21,261.54 L519.03,260.98" fill="none" stroke="#7E2F8E" stroke-width="0.9" stroke-linejoin="round"/>
<path d="M527.77,261.87 L528.67,262.62 L528.51,264.24 L529.56,265.26 L529.26,267.58 L528.72,269.8 L527.8,271.31 L528.93,272.32 L530.31,273.77 L530.83,272.54 L532.9,273.2 L533.1,271.84 L534.69,271.77 L535.29,270.6 L537.63,269.85 L535.8,268.49 L537.88,266.89 L537.66,265.23 L538.27,263.53 L536.23,263.03 L535.04,261.26 L533.3,261.33 L531.36,260.09 L530.01,261.25 L527.45,259.07 L526.03,261.16 L524.62,262.52" fill="none" stroke="#0072BD" stroke-width="0.9" stroke-linejoin="round"/>
<path d="M485.09,279.73 L485.12,280.64 L485.57,280.36 L485.84,279.94 L486.25,280.44 L486.85,280.85 L486.9,280.2 L487.74,280.77 L488.72,281.45 L488.94,282.17 L489.55,282.38 L489.82,282.48 L490.24,283.01 L490.73,283.87 L491.01,284.2 L491.59,283.89 L491.77,284.48 L492.35,284.5 L492.91,284.28 L493.43,284.09 L493.94,284.67 L494.32,285.18 L494.53,285.14 L494.66,285.2 L495.14,285.21 L495.54,285.95 L496.34,285.47 L497.09,284.75 L497.37,284.77 L497.86,284.37 L498.15,284.51 L498.44,284.3 L499.07,284.85 L499.51,284.96 L499.97,284.85 L500.31,284.45 L500.92,284.51 L501.35,284.71 L501.94,285.5 L502.34,285.41 L507.29,279.88 L508.34,279.32 L509.44,281.16 L511.2,281.35 L511.92,283.24 L513.17,284.6 L512.67,286.1 L513.91,287.66 L514.91,288.86 L516.71,289.7 L517.42,291.95 L518.31,291.54 L519.01,292.56 L520.81,292.23 L522.43,292.68 L524.63,291.77 L526.09,292.92 L528.55,292.26 L528.94,292.63 L530.36,290.75 L533.22,290.23 L533.33,289.37 L535.56,287.93 L535.03,286.07 L536.9,285.05 L537.89,282.68 L540.97,283.59 L541.6,281.37 L543.67,282.6 L544.77,281.19 L545.75,281.42 L546.21,280.25 L548.28,278.86 L546.91,278.55 L548.05,276.87 L545.54,276.15 L546.04,274.08 L545.33,272.68 L545.29,271.45 L543.41,269.34 L545.56,265.76 L542.7,264.76 L543.62,262.93 L541.95,262.85 L539.79,259.69 L538.32,260.99 L536.88,259.8 L535.69,259.83 L536.67,258.16 L533.87,256.62 L535.37,255.07 L533.09,255.06 L530.9,255.27 L529.9,254.62 L528.33,253.19 L528.23,255.81 L525.44,255.22 L524.38,256.39 L523.93,255.91 L521.45,256.79 L521.06,254.96 L519.03,255.28 L517,252.97 L515.91,254.62 L514.5,253.69 L512.99,254.98 L512.25,254.46 L509.34,254.55 L507.66,254.94 L506.75,256.56 L504.57,257.3 L505.1,259.35 L503.51,260.18 L504.3,263.21 L503.39,265.17 L503.49,266.24 L502.02,267.17 L500.7,268.43 L499.96,270.25 L500.58,273.25 L498.98,275.95 L500.01,277.63 L499.04,279.6 L502.18,279.12 L502.91,280.62 L505.34,280.51 L506.11,280.31 L507.28,280.21 L507.32,281.46 L510.25,280.73 L510.61,283.32 L512.45,284.81 L513.48,286.81 L515.35,287.14 L514.35,289.49 L517.2,288.43 L517.71,290.23 L519.58,289.51 L520.39,291.64 L521.98,290.96 L523.62,292.74 L525.58,292.79 L527.55,293.99 L528.37,293.4 L529.44,293.67 L529.6,292.19 L530.45,291.12 L528.68,289.5 L529.12,288.93 L529.4,288.64 L532.67,288.35 L535.94,287.9 L537.74,287.57 L538.08,286.68 L539.51,286.11 L539.02,283.31 L540.17,280.53 L540.29,279.16 L543.15,278.04 L543.19,275.39 L543.95,274.6 L544.16,272.93 L546.32,272.06 L544.71,270.27 L545.22,268.09 L542.4,267.67 L542.36,266.39 L539.93,265.87 L539.7,264.46 L539.58,262.97 L541.6,261.65 L540.82,259.82 L541.61,258.03 L541.17,256.25 L540.99,255.17 L540.1,254.75 L539.72,252.58 L537.42,252.47 L536.72,250.67 L534.74,251.2 L532.99,249.97 L530.99,252.11 L529.11,250.81 L527.27,252.03 L525.45,251.12 L523.41,252.82 L521.73,251.86 L519.57,252.98" fill="none" stroke="#77AC30" stroke-width="0.9" stroke-linejoin="round"/>
</svg>
<path d="M473.3,225 H566.5" stroke="#8c8c8c" stroke-width="1.4"/>
<path d="M473.3,224.4 V307.1 H566.5 V224.4" fill="none" stroke="#555" stroke-width="1.25"/>
<text x="471.1" y="227.6" font-size="6.9" text-anchor="end" fill="#333" font-family='"Liberation Sans", sans-serif'>7.5</text>
<path d="M473.3,241.42 h1.6" stroke="#555" stroke-width="0.7"/>
<text x="471.1" y="244.02" font-size="6.9" text-anchor="end" fill="#333" font-family='"Liberation Sans", sans-serif'>5</text>
<path d="M473.3,257.84 h1.6" stroke="#555" stroke-width="0.7"/>
<text x="471.1" y="260.44" font-size="6.9" text-anchor="end" fill="#333" font-family='"Liberation Sans", sans-serif'>2.5</text>
<path d="M473.3,274.26 h1.6" stroke="#555" stroke-width="0.7"/>
<text x="471.1" y="276.86" font-size="6.9" text-anchor="end" fill="#333" font-family='"Liberation Sans", sans-serif'>0</text>
<path d="M473.3,290.68 h1.6" stroke="#555" stroke-width="0.7"/>
<text x="471.1" y="293.28" font-size="6.9" text-anchor="end" fill="#333" font-family='"Liberation Sans", sans-serif'>-2.5</text>
<text x="471.1" y="309.7" font-size="6.9" text-anchor="end" fill="#333" font-family='"Liberation Sans", sans-serif'>-5</text>
<text x="473.3" y="315.4" font-size="6.9" text-anchor="middle" fill="#333" font-family='"Liberation Sans", sans-serif'>-0.06</text>
<path d="M496.6,307.1 v-1.6" stroke="#555" stroke-width="0.7"/>
<text x="496.6" y="315.4" font-size="6.9" text-anchor="middle" fill="#333" font-family='"Liberation Sans", sans-serif'>-0.03</text>
<path d="M519.9,307.1 v-1.6" stroke="#555" stroke-width="0.7"/>
<text x="519.9" y="315.4" font-size="6.9" text-anchor="middle" fill="#333" font-family='"Liberation Sans", sans-serif'>0</text>
<path d="M543.2,307.1 v-1.6" stroke="#555" stroke-width="0.7"/>
<text x="543.2" y="315.4" font-size="6.9" text-anchor="middle" fill="#333" font-family='"Liberation Sans", sans-serif'>0.03</text>
<text x="566.5" y="315.4" font-size="6.9" text-anchor="middle" fill="#333" font-family='"Liberation Sans", sans-serif'>0.06</text>
<text x="563" y="233.3" font-size="7.6" text-anchor="end" fill="#222" font-family='"Liberation Sans", sans-serif'>10 Hz</text>
</g>
<g>
<svg x="584.2" y="225" width="95" height="82.1" viewBox="584.2 225 95 82.1" overflow="hidden">
<path d="M601.24,274.66 L600.85,272.53 L600.13,270.85 L599.46,269.15 L598.1,266.58 L598.15,267 L596.87,267.69 L596.28,270.27 L595.08,272.63 L597.66,274.13 L596,275.63 L596.9,277.07 L596.07,278.82 L598.03,281.13 L597.22,283.17 L597.9,283.91 L596.82,284.8 L598.86,286.5 L599.06,288.25 L600.34,287.57 L600.98,287.12 L600.79,284.53 L602.53,284.01 L602.5,282.32 L602.93,280.56 L603.29,279.67 L604.74,278.55 L602.52,277.31 L603.08,276.35 L602.64,275.52 L603.17,274.17 L602.43,272.18 L603.49,271.18 L602.3,269.81 L603.33,267.51 L603.17,269.97 L602.38,272.41 L602.61,272.81 L602.52,274.86 L603.5,275.37 L602.35,275.82 L602.85,275.94 L602.37,276.13 L603.82,278.36 L602.45,280.36 L603.57,281.05 L602.2,283.18 L602.89,285.45 L602.35,286.71 L602.79,288.93 L603.64,289.97 L604.21,290.1 L604.85,292.02 L605.12,290.7 L605.01,288.77 L604.89,287.6 L605.96,285.88 L605.72,285.52 L606.19,284.35 L605.94,283.16 L606.75,281.87 L605.69,280.47 L606.05,279.1 L605.34,278.27 L605.6,276.72 L605.6,275.38 L605.51,274.56 L604.98,273.61 L605.1,272.91 L604.28,273.18 L605.55,270.71 L604.96,268.8 L605.05,267.42 L603.94,266.29 L603.23,268.52 L604.96,270.44 L604.62,270.9 L606,270.67 L604.5,272.5 L605.91,274.31 L605.55,275.76 L606.26,277.52 L606.08,278.67 L609.44,279.64 L608.68,281.22 L609.7,282.63 L608.68,284.79 L609.91,286.66 L609.8,287.28 L609.23,286.78 L610.31,286.03 L609.2,284.19 L610.65,283.67 L608.29,282.11 L609.3,280.63 L608.42,280.28 L609.69,279.41 L608.32,279.39 L609.37,277.62 L607.73,276.02 L610.86,274.68 L609.64,272.04 L610.81,269.99 L608.82,269.24 L609.06,269.66 L610.28,269.83 L609.41,270.24 L610.12,271.79 L609.66,272.11 L609.96,272.1 L609.43,274.03 L610.04,274.95 L608.41,277.17 L609.8,278.17 L609.61,278.9 L610.67,281.26 L609.82,283.49 L610.53,284.31 L610.43,285.64 L610.5,286.43 L609.81,286.91 L611.07,288.34 L610.63,288.69 L612.04,289.59 L611.79,289.01 L611.94,287.95 L613.18,287.26 L613.09,285.93 L612.3,284.26 L612.03,282.73 L613.35,281.9 L612.59,281.81 L612.37,281.09 L611.53,279.37 L612.22,277.69 L611.86,275.76 L612.1,273.93 L611.36,272.43 L611.88,271.37 L609.76,269.51 L611.35,268.59 L611.19,268.26 L612.16,268.59 L612.35,269.28 L612.09,270.78 L613.35,272.68 L612.71,273.6 L613.45,276.21 L613.51,278.12 L614.61,279.01 L613.73,280.37 L613.31,281.62 L612.48,283.25 L613.62,284.99 L613.13,286.95 L612.84,287.38 L613.04,288.32 L614.47,289.48 L614.26,291.33 L613.47,288.65 L613.96,286.62 L613.56,285.05 L614.35,283.22 L615.37,281.86 L616.67,280.99 L615.43,279.37 L615.83,271.75 L614.5,271.66 L614.59,270.96 L614.31,269.43 L614.54,269.71 L615.05,271.27 L613.28,271.57 L613.69,272.71 L613,274.47 L615.36,275.57 L616.09,277.26 L617.19,276.91 L615.65,278.61 L616.75,278.93 L617.69,279.19 L617.88,277.65 L618.18,276.73 L617.65,275.87 L619.19,274.96 L617.19,273.83 L618.68,273.49 L617.85,272.03 L618.57,270.54 L617.43,269.31 L617.47,267.5 L616.01,266.4 L618.09,265.52 L617.95,264.51 L618.79,264.49 L617.57,262.65 L617.57,261.5 L615.6,259.91 L615.29,258.39 L615.69,258.82 L616.41,258.53 L617,259.9 L615.8,261.06 L616.77,262.65 L615.94,264.34 L616.32,265.73 L614.91,267.56 L616.11,269.37 L615.75,271.07 L617.46,272.15 L617.37,274.02 L618.2,275.61 L619.07,276.93 L620.02,277.96 L619.05,279.76 L620.32,279.2 L621.78,278.56 L621.54,277.49 L622.54,274.31 L621.04,273.59 L621.77,271.86 L621.61,270.16 L621.53,269.29 L620.13,268.33 L620.54,266.31 L619.08,265.05 L619.18,264.38 L617.89,263.07 L617.02,262.05 L618.84,263.23 L618.3,265.07 L618.94,265.88 L618.34,266.42 L619.93,267.08 L619.45,268.42 L620.43,270.36 L619.47,271.88 L620.02,273.44 L620.24,275.12 L621.27,276.04 L621.63,277.33 L622.44,278.64 L622.06,279.49 L622.49,278.21 L624.27,275.66 L623.26,274.97 L624.57,274.3 L623.64,272.99 L624.6,270.91 L622.64,269.86 L623.77,268.53 L622.16,267.8 L622.72,266.8 L621.96,264.87 L623.2,263.64 L621.46,263.06 L621.72,262.1 L622.66,261.68 L620.46,263.18 L621.1,264.81 L621.21,265.84 L623.24,266.84 L621.77,268.56 L622.87,270.38 L622.71,272.25 L624.31,272.32" fill="none" stroke="#77AC30" stroke-width="0.85" stroke-linejoin="round"/>
<path d="M627.28,271.65 L625.69,271.14 L626.14,270.24 L625.12,269.64 L626.57,268.52 L624.18,267.31 L623.47,268.09 L624.03,269.04 L623.13,271.14 L622.94,271.61 L623.06,271.65 L624.09,272.64 L622.75,273.67 L623.07,275.01 L622.72,277.21 L623.77,278.47 L622.7,279.79 L624.56,279.84 L624.32,280.9 L625.02,282.38 L624.99,283.82 L626.47,285.04 L625.76,286.67 L625.89,285.83 L626.67,284.81 L625.71,283.44 L625.12,282.55 L623.41,281.96 L626.1,280.33 L626.31,279.23 L626.85,277.26 L626.19,276.81 L626.81,274.49 L624.93,273.07 L626.56,271.76 L625.81,271.15 L627.2,269.61 L625.92,267.09 L626.67,265.8 L626.37,263.69 L625.98,262.72 L626.17,264.93 L624.87,266.32 L625.81,267.56 L625.07,269.13 L626.16,270.72 L624.36,272.52 L625.82,272.99 L624.97,274.28 L626.06,275.14 L624.39,276.6 L625.71,279.12 L624.13,282 L625.96,283.22 L626.49,284.78 L628.88,284.29 L629.45,285.27 L627.82,283.28 L628.93,282.45 L629.04,280.9 L629.79,279.54 L627.7,278.32 L628.36,276.88 L627.08,274.31 L627.86,273.04 L627.3,272.4 L628.36,271.16 L628.3,269.85 L628.35,269.25 L629.4,268.59 L628.35,270.05 L628.47,271.3 L627.53,272.09 L629.26,273.67 L627.99,275.08 L629.08,276.63 L627.88,277.53 L628.25,278.47 L627.72,279.29 L628.84,280.66 L629.22,282.64 L628.59,283.34 L627.77,285.09 L629.86,286.44 L628.73,286.73 L627.9,285.55 L629.26,283.53 L629.06,281.19 L629.75,280 L630.3,278.25 L630.22,277.24 L628.66,276.94 L628.78,274.95 L628.71,273.73 L630.09,271.13 L629.53,271.27 L630.63,269.03 L629.03,267.62 L628.51,268.97 L630.42,270.63 L629.64,273.82 L630.44,275.73 L629.68,277.22 L630.13,279.04 L628.57,279.63 L629.33,280.05 L629.84,281.89 L630.73,283.36 L629.4,284.88 L630.74,287.08 L630.34,287.94 L631.25,289.21 L630.88,289.23 L630.47,286.22 L630.94,285.45 L630.44,283.55 L632.1,282.59 L632.24,280.94 L632.85,279.73 L631.62,278.58 L632.93,276.88 L631.16,275.27 L631.51,273.31 L629.99,272.4 L631.52,270.41 L630.52,269.77 L631.33,267.42 L629.33,266.8 L630.2,265.71 L628.82,265.71 L629.01,266.31 L629.75,266.62 L629.46,267.06 L630.95,268.91 L629.52,271.39 L630.25,271.12 L630.38,272.71 L630.94,274.82 L630.84,276.15 L631.44,277.61 L632.03,279.13 L632.61,279.86 L631.29,280.15 L632.41,281.52 L630.51,282.34 L631.36,281.79 L630.01,282.48 L631.05,283.74 L630.59,284.77 L632.17,285.5 L631.8,287.38 L632.43,289 L630.93,289.67 L632.06,290.56 L631.44,292.2 L633.08,293.49 L633.86,295.67 L633.27,293.38 L635.11,291.2 L634.41,290.57 L635.36,290.23 L635.27,288.24 L635.71,286.18 L635.51,285.8 L635.99,284.92 L635.15,282.84 L635.63,280.67 L634.95,279.6 L636.18,279.12 L634.91,278.1 L635.69,277.18 L633.1,275.57 L634.23,273.58 L633.9,272.87 L633.31,271.42 L632.66,270.25 L632.15,269.19 L630.83,268.57 L632.12,266.8 L630.72,265.67 L630.06,264.33 L630.42,266.44 L629.78,267.72 L630.31,268.85 L629.19,269.36 L631.77,270.73 L632.28,272.93 L633.05,274.75 L632.25,276.55 L633.53,277.63 L632.51,278.9 L632.76,280.07 L631.98,281.82 L633.36,282.83 L632.79,283.45 L634.29,283.7 L634.92,285.64 L635.95,286.78 L637.09,285.08 L636.1,282.57 L638.31,282.23 L636.48,280.52 L635.97,278.32 L634.87,277.06 L635.22,275.49 L633.69,274.58" fill="none" stroke="#7E2F8E" stroke-width="0.85" stroke-linejoin="round"/>
<path d="M635.87,272.61 L634.45,272.18 L634.74,270.92 L634.65,270.3 L634.1,270.61 L635.35,271.9 L634.06,273.21 L634.17,274.14 L632.62,275.3 L633.69,276.49 L633.41,278.43 L635.75,279.01 L636.14,279.68 L635.92,280.86 L636.76,282.92 L636.83,282.73 L638.22,281.45 L636.77,279.58 L637.34,279.59 L636.36,277.74 L637.06,276.3 L635.29,275.15 L636.84,274.06 L636.19,272.12 L636.31,271.5 L635.49,270.09 L636.47,268.53 L636.26,268.96 L635.3,270.4 L636.39,271.67 L634.4,271.27 L635.23,271.59 L634.45,273.51 L635.45,274.57 L635.16,276.73 L635.57,278.57 L635.28,280.27 L637.26,281.1 L637.14,282.11 L638.14,282.66 L637.79,283.63 L638.64,284.14 L639.92,286.45 L639.47,285.71 L640.65,285.83 L640.05,283.61 L642.55,282.2 L640.67,280.46 L640.79,278.98 L638.67,278.56 L640.76,276.13 L638.92,274.55 L638.42,273.11 L637.59,271.39 L638.16,270.28 L638.58,269.83 L639.37,268.87 L638.09,267.77 L638.3,266.71 L637.03,265.23 L636.4,266.19 L636.72,267.28 L636.36,268.68 L636.89,270.04 L635.67,272.2 L637.47,272.59 L635.34,274.03 L637.56,275.22 L637.51,276.31 L638.11,277.67 L637.73,279.5 L638.14,280.68 L637.16,282.61 L638.05,283.26 L637.83,285.54 L638.26,283.67 L638.73,281.99 L639.68,280.3 L638.6,282.28 L639.6,282.47 L641.08,281.76 L641.16,280.42 L642.52,279.22 L642.82,277.29 L644.04,275.17 L642.5,274.25 L642.53,273.11 L640.97,272.82 L641.66,270.66 L640.65,270.59 L639.66,270.75 L641.95,272.67 L640.89,273.5 L642.14,273.67 L640.09,274.49 L640.22,276.38 L640.23,277.03 L640.18,278.43 L639.14,279.37 L640.86,280.29 L639.9,281.74 L641.95,283.63 L641.58,286.05 L641.36,284.93 L641.93,283.69 L641.13,282.23 L642.77,281.15 L640.58,279.64 L642.71,278.57 L640.9,277.01 L642.12,274.71 L640.39,274.26 L641.17,272.93 L639.06,272.39 L641.06,270.73 L640.39,268.89 L641.78,267.93 L640.57,267.38 L640.42,267.77 L641.53,268.8 L640.32,270.48 L640.68,271.26 L641.2,272.53 L642,273.45 L641.24,275.46 L642.51,277.26 L641.04,278.46 L641.84,279.66 L641.07,280.01 L643.99,280.64 L643.85,283.03 L645.73,282.65 L644.95,281.08 L644.61,279.29 L644.84,276.74 L644.27,275.94 L644.82,274.61 L643.98,272.81 L644.06,271.73 L643.32,271.4 L644.06,269.84 L643.49,268.43 L642.92,267.95 L641.88,266.95 L643.15,264.89 L643.05,265.28 L642.47,266.76 L642.83,266.93 L641.53,267.77 L642.6,269.34 L641,270.74 L643.15,272.79 L642.53,274.48 L643.11,275.73 L642.66,277.14 L643.92,277.74 L642.51,278.22 L643.52,280.1 L644.06,281.04 L644.42,282.42 L644.64,283.18 L645.52,283.64 L647.01,282.75 L646.74,281.69 L646.95,280.23 L645.27,279.54 L645.59,277.28 L641,262 L640.37,260.32 L639.69,258.63 L639,256.94 L638.37,255.26 L637.85,253.61 L637.5,252 L637.33,250.37 L637.3,248.68 L637.38,247.03 L637.54,245.47 L637.75,244.11 L638,243 L638.3,242.16 L638.67,241.53 L639.09,241.09 L639.56,240.8 L640.03,240.65 L640.5,240.6 L641,240.62 L641.56,240.73 L642.12,240.96 L642.67,241.39 L643.14,242.05 L643.5,243 L643.75,244.32 L643.93,245.99 L644.03,247.9 L644.07,249.94 L644.06,252.01 L644,254 L643.87,255.94 L643.65,257.93 L643.38,259.94 L643.07,261.96 L642.77,263.99 L642.5,266" fill="none" stroke="#EDB120" stroke-width="0.85" stroke-linejoin="round"/>
<path d="M645.86,278.23 L645.65,277.17 L645.98,276.67 L645.23,275.68 L645.27,274.59 L645.07,274.23 L643.94,274.66 L646.06,276.76 L645.09,276.6 L643.71,275.62 L643.95,275.39 L644.05,275.84 L642.32,276.32 L644.06,276.99 L643.71,278.81 L643.44,280.72 L642.62,281.64 L643.47,282.84 L642.78,283.28 L644.59,284.23 L643.18,285.88 L644.88,286.29 L645.47,286.47 L646.48,285.64 L646.7,283.29 L646.09,281.75 L647.19,280.9 L647.36,279.55 L648.35,277.93 L647.22,277.59 L647.59,276.14 L646.12,275.09 L647.67,273.72 L645.57,272.53 L645.5,272.98 L646.7,272.99 L644.45,275.42 L646.15,277.88 L647.1,278.69 L647.6,280.07 L647.31,281.15 L648.22,282.97 L647.08,284.47 L648.64,285.51 L648.37,286.8 L648.56,287.67 L647.96,288.85 L648.91,290.38 L648.69,291.92 L649.45,293.03 L648.99,294.2 L649.91,292.14 L651.37,290.34 L650.15,289.52 L651.34,289.33 L650.09,287.88 L650.97,286.77 L649.72,285.24 L650.51,284.71 L649.48,283.55 L650.41,281.8 L648.13,280.06 L648.37,277.59 L647.76,276.24 L647.39,274.58 L646.71,273.8 L647.08,273.38 L648.86,273.64 L648.19,274.6 L648.07,275.63 L648.01,276.92 L648.18,279.18 L647.81,280.68 L649.76,282.4 L648.62,283.39 L648.96,284.99 L649.04,287.13 L649.63,287.87 L649.31,289.55 L649.33,290.17 L649.05,291.95 L649.77,291.38 L651.85,289.57 L650.52,289.08 L652.1,287.38 L651.68,286.88 L652.29,285.05 L652.43,282.87 L653.56,280.96 L651.8,279.65 L653.21,277.61 L652.05,277.13 L652.65,276.24 L651.46,274.61 L651.91,273.31 L651.11,273.31 L652.93,271.65 L651.43,269.81 L651.15,269.16 L650.82,267.74 L650.02,270.3 L650.69,271.91 L650.67,272.74 L650.62,273.46 L650.14,274.56 L651.39,276.76 L651.2,278.32 L651.97,278.25 L653.15,279.95 L654.51,280.87 L652.63,282.95 L652.18,284.03 L651.61,285.5 L653.41,287.16 L650.75,289.23 L651.06,290.79 L649.73,291.59 L650.69,291.99 L650.18,294.03 L651.85,295.24 L651.98,297.22 L653.89,296.54 L654.66,295.28 L653.64,293.68 L654.88,292.9 L654.79,291.57 L656.44,289.92 L655.02,287.09 L655.24,285.52 L655.94,283.36 L656.97,281.95 L655.46,282.93 L656.18,280.64 L653.99,279.32 L653.57,278.34 L652.75,277.35 L653.04,276.85 L652.45,276.57 L653.53,274.48 L651.12,273.23 L652.02,270.98 L652.98,271.48 L652.23,272.53 L652.64,274.36 L652.26,276.24 L652.51,277.41 L651.56,279.55 L652.3,280.94 L652.75,282.03 L653.02,283.91 L652.46,286.01 L654.34,287.77 L653.12,288.03 L654.44,288.87 L654.98,289.98 L655.86,289 L657.12,288.43 L656.54,287.26 L657.51,285.37 L657.47,283.49 L657.42,281.86 L656.46,280.65 L657.32,279.07 L654.78,278.23 L656.37,276.47 L654.21,275.7 L655.17,271.96 L653.58,269.85 L653.8,269.71 L653.72,268.25 L654.24,267.76 L652.57,266.91 L652.53,266.03 L652.79,265.03 L652.6,266.04 L654.8,267.04 L653.77,267.9 L656.01,268.72 L655.2,270.77 L655.92,272.23 L655.35,273.76 L656.78,274.83 L655.12,276.89 L655.34,279.14 L654.69,282.37 L656.67,283.71 L656.28,284.15 L657.34,285.08 L656.62,285.11 L656.29,286.68 L655.79,287.73 L656.85,288.37 L655.94,290.38 L656.64,290.07 L657.47,287.85 L656.05,286.17 L656.72,284.6 L655.72,283.76 L656.94,283.06 L655.59,281.93 L657.04,280.76" fill="none" stroke="#D95319" stroke-width="0.85" stroke-linejoin="round"/>
<path d="M659.52,272.51 L657.81,271.2 L658.18,269.77 L657.38,267.98 L657.89,266.35 L658.92,266.85 L657.01,268.43 L658.9,269.64 L657.23,271.46 L659.14,273 L657.86,274.31 L657.7,274.72 L657.01,275.54 L657.98,278.22 L658.21,279.26 L658.27,279.12 L658.07,278.13 L657.72,277.83 L659.48,278.56 L658.22,277.39 L659.46,275.89 L657.97,274.52 L659.72,273.01 L658.07,271.02 L658.26,269.61 L657.23,268.8 L658.24,267.35 L657.62,267.09 L657.84,266.51 L659.89,265.23 L658.82,267.14 L660.2,269.33 L658.84,270.16 L659.56,271.12 L660.39,273.42 L662.23,274.27 L661.01,276.4 L661.83,277.08 L661.18,278.96 L662.39,279.93 L660.26,281.98 L660.66,282.34 L659.41,283.1 L661.25,284.69 L659.91,287.13 L660.52,285.92 L660.21,285.2 L658.86,283.66 L659.51,283.09 L659.35,282.09 L660.47,280.85 L660.01,278.48 L661.4,276.88 L660.2,275.53 L662.11,274.71 L662.5,273.02 L662.51,271.65 L661.7,270.67 L661.36,269.25 L660.81,268.41 L662.05,267.73 L662.08,265.26 L662.86,263.89 L662.17,262.94 L661.17,263.88 L661.85,265.96 L661.87,266.78 L662.32,268.41 L660.65,269.75 L662.14,271.4 L661.97,273.47 L662.93,274.94 L661.94,276.3 L662.66,276.85 L660.64,278.66 L662.01,279.75 L661.25,281.12 L662.62,280.45 L664.23,279.27 L663.19,278.13 L663.09,276.78 L661.92,275.11 L662.82,273.19 L662.1,272.12 L662.66,271.69 L661.3,270.22 L662.32,267.54 L660.29,266.52 L660.71,265.9 L659.8,264.42 L661.06,263.11 L661.39,261.09 L662.36,259.96 L661.62,259.28 L663.2,257.75 L661.41,257.06 L661.7,256.04 L663.2,257.6 L661.48,258.67 L662.88,259.71 L663.28,261.02 L663.86,261.88 L663.13,263.81 L663.92,264.79 L662.45,266.53 L662.24,267.31 L662.24,269.44 L663.27,271.05 L660.84,272.88 L662.34,273.17 L660.91,274.2 L662,275.47 L661.25,277.38 L662.94,277.57 L661.67,278.74 L663.96,279.39 L664,280.81 L666.03,281.97 L665.26,283.32 L666.77,285.92 L665.58,286.88 L666.69,288.44 L665.62,290.31 L665.82,291.34 L666.9,289.48 L665.36,287.76 L666.81,287.43 L666.04,286.07 L665.61,284.41 L664.95,283.18 L666.14,282.28 L664.59,280.67 L666.95,278.05 L665.36,276.36 L665.75,274.44 L664.65,272.69 L665.41,271.63 L664.59,270.33 L665.06,268.31 L664.22,267.46 L665.13,266.64 L664.67,265.9 L664.89,265.3 L665.57,267.43 L664.95,268.76 L666.07,270.04 L663.68,271.12 L664.73,272.83 L663.78,274.12 L665.64,274.88 L665.21,275.81 L666.19,277.15 L665.94,278.13 L666.17,280.06 L665.94,281.69 L667.64,283.22 L666.37,284.42 L666.51,285.66 L666.25,287.29 L667.14,285.76 L667.77,283.69 L667.48,283.23 L668.15,282.16 L666.48,280.71 L667.07,278.36 L665.68,276.02 L667.43,275.21 L666.61,274.01 L666.87,272.78 L666.47,271.32 L666.55,269.19 L665.32,267.57 L665.44,266.36 L666.88,267.62 L666.35,267.09 L665.82,267.06 L667.24,265.39 L667.42,264.73 L666.33,266.77 L666.91,269.02 L666.6,271.04 L667.59,271.34 L666.47,272.87 L667.7,272.44 L666.14,274.53 L667.84,275.49 L667.03,276.91 L668.18,278.77 L667.91,279.87 L668.24,280.28 L666.9,282.48 L668.7,283.39 L669.88,282.66 L669.16,281.8 L670.34,280.62 L667.65,278.49 L668.79,277.07 L667.94,275.49 L669.07,274.33 L667.96,273.12 L668.64,271.8 L668.28,270.38 L669.08,268.66 L668.09,267.83 L669.55,266.42 L669.22,265.13 L668.71,264.04 L670.14,266.36 L668.38,267.45 L668.75,269.05 L667.53,270.44 L668.15,271.33 L666.93,273.12 L668.7,274.41 L668.11,275.82 L668.69,276.37 L668.85,278.21 L670.7,279.08 L669.75,280.28 L671.62,280.96 L672.12,282.37 L672.47,280.75 L673.66,279.43 L672.43,278.3 L673.53,276.25 L671.43,275.2" fill="none" stroke="#0072BD" stroke-width="0.85" stroke-linejoin="round"/>
</svg>
<path d="M584.2,225 H679.2" stroke="#8c8c8c" stroke-width="1.4"/>
<path d="M584.2,224.4 V307.1 H679.2 V224.4" fill="none" stroke="#555" stroke-width="1.25"/>
<text x="582" y="227.6" font-size="6.9" text-anchor="end" fill="#333" font-family='"Liberation Sans", sans-serif'>45</text>
<path d="M584.2,241.42 h1.6" stroke="#555" stroke-width="0.7"/>
<text x="582" y="244.02" font-size="6.9" text-anchor="end" fill="#333" font-family='"Liberation Sans", sans-serif'>30</text>
<path d="M584.2,257.84 h1.6" stroke="#555" stroke-width="0.7"/>
<text x="582" y="260.44" font-size="6.9" text-anchor="end" fill="#333" font-family='"Liberation Sans", sans-serif'>15</text>
<path d="M584.2,274.26 h1.6" stroke="#555" stroke-width="0.7"/>
<text x="582" y="276.86" font-size="6.9" text-anchor="end" fill="#333" font-family='"Liberation Sans", sans-serif'>0</text>
<path d="M584.2,290.68 h1.6" stroke="#555" stroke-width="0.7"/>
<text x="582" y="293.28" font-size="6.9" text-anchor="end" fill="#333" font-family='"Liberation Sans", sans-serif'>-15</text>
<text x="582" y="309.7" font-size="6.9" text-anchor="end" fill="#333" font-family='"Liberation Sans", sans-serif'>-30</text>
<text x="584.2" y="315.4" font-size="6.9" text-anchor="middle" fill="#333" font-family='"Liberation Sans", sans-serif'>-0.1</text>
<path d="M607.95,307.1 v-1.6" stroke="#555" stroke-width="0.7"/>
<text x="607.95" y="315.4" font-size="6.9" text-anchor="middle" fill="#333" font-family='"Liberation Sans", sans-serif'>-0.05</text>
<path d="M631.7,307.1 v-1.6" stroke="#555" stroke-width="0.7"/>
<text x="631.7" y="315.4" font-size="6.9" text-anchor="middle" fill="#333" font-family='"Liberation Sans", sans-serif'>0</text>
<path d="M655.45,307.1 v-1.6" stroke="#555" stroke-width="0.7"/>
<text x="655.45" y="315.4" font-size="6.9" text-anchor="middle" fill="#333" font-family='"Liberation Sans", sans-serif'>0.05</text>
<text x="679.2" y="315.4" font-size="6.9" text-anchor="middle" fill="#333" font-family='"Liberation Sans", sans-serif'>0.1</text>
<text x="675.7" y="233.3" font-size="7.6" text-anchor="end" fill="#222" font-family='"Liberation Sans", sans-serif'>100 Hz</text>
</g>
</svg></body></html>
